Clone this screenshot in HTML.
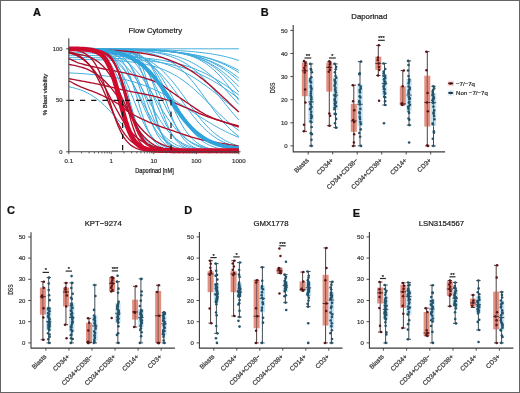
<!DOCTYPE html>
<html><head><meta charset="utf-8"><style>
html,body{margin:0;padding:0;background:#fff;width:520px;height:393px;overflow:hidden;font-family:"Liberation Sans",sans-serif;}
svg{display:block;will-change:transform;}

</style></head><body>
<svg width="520" height="393" viewBox="0 0 520 393"><rect x="0" y="0" width="520" height="1" fill="#646464"/>
<rect x="0" y="0" width="1" height="393" fill="#646464"/>
<rect x="519" y="0" width="1" height="393" fill="#646464"/>
<rect x="0" y="392" width="520" height="1" fill="#646464"/>
<text stroke="#111" x="33" y="15.6" font-size="11" font-weight="bold" fill="#111" font-family="Liberation Sans, sans-serif" stroke-width="0.22">A</text>
<text stroke="#222" x="155.3" y="33.2" font-size="7.7" text-anchor="middle" fill="#222" font-family="Liberation Sans, sans-serif" stroke-width="0.22">Flow Cytometry</text>
<g><path d="M68.80,48.99 L70.69,49.04 L72.58,49.09 L74.47,49.16 L76.36,49.24 L78.24,49.34 L80.13,49.46 L82.02,49.61 L83.91,49.79 L85.80,50.01 L87.69,50.29 L89.58,50.62 L91.47,51.02 L93.36,51.51 L95.24,52.11 L97.13,52.83 L99.02,53.70 L100.91,54.75 L102.80,56.01 L104.69,57.51 L106.58,59.28 L108.47,61.37 L110.36,63.81 L112.24,66.63 L114.13,69.86 L116.02,73.49 L117.91,77.54 L119.80,81.96 L121.69,86.72 L123.58,91.74 L125.47,96.94 L127.36,102.20 L129.24,107.43 L131.13,112.51 L133.02,117.35 L134.91,121.87 L136.80,126.02 L138.69,129.77 L140.58,133.11 L142.47,136.04 L144.36,138.58 L146.24,140.77 L148.13,142.63 L150.02,144.20 L151.91,145.52 L153.80,146.63 L155.69,147.54 L157.58,148.30 L159.47,148.93 L161.36,149.45 L163.24,149.88 L165.13,150.23 L167.02,150.52 L168.91,150.75 L170.80,150.94 L172.69,151.10 L174.58,151.23 L176.47,151.33 L178.36,151.42 L180.24,151.49 L182.13,151.55 L184.02,151.59 L185.91,151.63 L187.80,151.66 L189.69,151.69 L191.58,151.71 L193.47,151.73 L195.36,151.74 L197.24,151.75 L199.13,151.76 L201.02,151.77 L202.91,151.77 L204.80,151.78 L206.69,151.78 L208.58,151.79 L210.47,151.79 L212.36,151.79 L214.24,151.79 L216.13,151.79 L218.02,151.79 L219.91,151.80 L221.80,151.80 L223.69,151.80 L225.58,151.80 L227.47,151.80 L229.36,151.80 L231.24,151.80 L233.13,151.80 L235.02,151.80 L236.91,151.80 L238.80,151.80" fill="none" stroke="#3eaadc" stroke-width="1.0"/><path d="M68.80,48.82 L70.69,48.83 L72.58,48.83 L74.47,48.84 L76.36,48.86 L78.24,48.87 L80.13,48.90 L82.02,48.93 L83.91,48.96 L85.80,49.01 L87.69,49.08 L89.58,49.16 L91.47,49.27 L93.36,49.42 L95.24,49.60 L97.13,49.85 L99.02,50.16 L100.91,50.57 L102.80,51.10 L104.69,51.78 L106.58,52.65 L108.47,53.77 L110.36,55.19 L112.24,56.99 L114.13,59.23 L116.02,62.00 L117.91,65.38 L119.80,69.42 L121.69,74.16 L123.58,79.58 L125.47,85.61 L127.36,92.11 L129.24,98.89 L131.13,105.72 L133.02,112.37 L134.91,118.61 L136.80,124.29 L138.69,129.32 L140.58,133.64 L142.47,137.29 L144.36,140.30 L146.24,142.75 L148.13,144.72 L150.02,146.28 L151.91,147.52 L153.80,148.49 L155.69,149.24 L157.58,149.83 L159.47,150.28 L161.36,150.63 L163.24,150.90 L165.13,151.11 L167.02,151.27 L168.91,151.39 L170.80,151.49 L172.69,151.56 L174.58,151.62 L176.47,151.66 L178.36,151.69 L180.24,151.72 L182.13,151.74 L184.02,151.75 L185.91,151.76 L187.80,151.77 L189.69,151.78 L191.58,151.78 L193.47,151.79 L195.36,151.79 L197.24,151.79 L199.13,151.79 L201.02,151.80 L202.91,151.80 L204.80,151.80 L206.69,151.80 L208.58,151.80 L210.47,151.80 L212.36,151.80 L214.24,151.80 L216.13,151.80 L218.02,151.80 L219.91,151.80 L221.80,151.80 L223.69,151.80 L225.58,151.80 L227.47,151.80 L229.36,151.80 L231.24,151.80 L233.13,151.80 L235.02,151.80 L236.91,151.80 L238.80,151.80" fill="none" stroke="#3eaadc" stroke-width="1.0"/><path d="M68.80,48.98 L70.69,49.02 L72.58,49.06 L74.47,49.11 L76.36,49.18 L78.24,49.25 L80.13,49.34 L82.02,49.45 L83.91,49.58 L85.80,49.74 L87.69,49.93 L89.58,50.15 L91.47,50.42 L93.36,50.74 L95.24,51.12 L97.13,51.58 L99.02,52.13 L100.91,52.77 L102.80,53.54 L104.69,54.45 L106.58,55.51 L108.47,56.77 L110.36,58.23 L112.24,59.93 L114.13,61.90 L116.02,64.15 L117.91,66.71 L119.80,69.61 L121.69,72.83 L123.58,76.39 L125.47,80.27 L127.36,84.43 L129.24,88.83 L131.13,93.42 L133.02,98.13 L134.91,102.87 L136.80,107.56 L138.69,112.14 L140.58,116.53 L142.47,120.67 L144.36,124.52 L146.24,128.05 L148.13,131.25 L150.02,134.11 L151.91,136.65 L153.80,138.88 L155.69,140.82 L157.58,142.50 L159.47,143.95 L161.36,145.18 L163.24,146.24 L165.13,147.13 L167.02,147.89 L168.91,148.52 L170.80,149.06 L172.69,149.51 L174.58,149.89 L176.47,150.21 L178.36,150.47 L180.24,150.69 L182.13,150.88 L184.02,151.03 L185.91,151.16 L187.80,151.27 L189.69,151.36 L191.58,151.43 L193.47,151.49 L195.36,151.54 L197.24,151.59 L199.13,151.62 L201.02,151.65 L202.91,151.68 L204.80,151.70 L206.69,151.72 L208.58,151.73 L210.47,151.74 L212.36,151.75 L214.24,151.76 L216.13,151.77 L218.02,151.77 L219.91,151.78 L221.80,151.78 L223.69,151.78 L225.58,151.79 L227.47,151.79 L229.36,151.79 L231.24,151.79 L233.13,151.79 L235.02,151.79 L236.91,151.80 L238.80,151.80" fill="none" stroke="#3eaadc" stroke-width="1.0"/><path d="M68.80,48.81 L70.69,48.82 L72.58,48.82 L74.47,48.83 L76.36,48.83 L78.24,48.84 L80.13,48.86 L82.02,48.87 L83.91,48.89 L85.80,48.92 L87.69,48.95 L89.58,48.99 L91.47,49.05 L93.36,49.12 L95.24,49.21 L97.13,49.32 L99.02,49.46 L100.91,49.64 L102.80,49.88 L104.69,50.17 L106.58,50.55 L108.47,51.03 L110.36,51.63 L112.24,52.39 L114.13,53.34 L116.02,54.54 L117.91,56.02 L119.80,57.86 L121.69,60.10 L123.58,62.82 L125.47,66.07 L127.36,69.89 L129.24,74.31 L131.13,79.31 L133.02,84.83 L134.91,90.78 L136.80,97.00 L138.69,103.31 L140.58,109.54 L142.47,115.50 L144.36,121.04 L146.24,126.07 L148.13,130.51 L150.02,134.36 L151.91,137.64 L153.80,140.38 L155.69,142.65 L157.58,144.50 L159.47,146.00 L161.36,147.21 L163.24,148.17 L165.13,148.94 L167.02,149.55 L168.91,150.03 L170.80,150.41 L172.69,150.71 L174.58,150.95 L176.47,151.13 L178.36,151.28 L180.24,151.39 L182.13,151.48 L184.02,151.55 L185.91,151.60 L187.80,151.65 L189.69,151.68 L191.58,151.71 L193.47,151.73 L195.36,151.74 L197.24,151.75 L199.13,151.76 L201.02,151.77 L202.91,151.78 L204.80,151.78 L206.69,151.79 L208.58,151.79 L210.47,151.79 L212.36,151.79 L214.24,151.80 L216.13,151.80 L218.02,151.80 L219.91,151.80 L221.80,151.80 L223.69,151.80 L225.58,151.80 L227.47,151.80 L229.36,151.80 L231.24,151.80 L233.13,151.80 L235.02,151.80 L236.91,151.80 L238.80,151.80" fill="none" stroke="#3eaadc" stroke-width="1.0"/><path d="M68.80,49.00 L70.69,49.04 L72.58,49.08 L74.47,49.13 L76.36,49.19 L78.24,49.26 L80.13,49.34 L82.02,49.44 L83.91,49.55 L85.80,49.68 L87.69,49.84 L89.58,50.02 L91.47,50.23 L93.36,50.48 L95.24,50.78 L97.13,51.12 L99.02,51.52 L100.91,51.99 L102.80,52.54 L104.69,53.17 L106.58,53.91 L108.47,54.77 L110.36,55.76 L112.24,56.90 L114.13,58.21 L116.02,59.71 L117.91,61.41 L119.80,63.34 L121.69,65.50 L123.58,67.92 L125.47,70.60 L127.36,73.55 L129.24,76.76 L131.13,80.22 L133.02,83.90 L134.91,87.78 L136.80,91.82 L138.69,95.97 L140.58,100.18 L142.47,104.38 L144.36,108.54 L146.24,112.58 L148.13,116.48 L150.02,120.17 L151.91,123.64 L153.80,126.87 L155.69,129.83 L157.58,132.53 L159.47,134.96 L161.36,137.14 L163.24,139.08 L165.13,140.80 L167.02,142.31 L168.91,143.63 L170.80,144.78 L172.69,145.78 L174.58,146.64 L176.47,147.39 L178.36,148.03 L180.24,148.58 L182.13,149.05 L184.02,149.46 L185.91,149.81 L187.80,150.10 L189.69,150.35 L191.58,150.57 L193.47,150.75 L195.36,150.91 L197.24,151.04 L199.13,151.16 L201.02,151.25 L202.91,151.34 L204.80,151.41 L206.69,151.47 L208.58,151.52 L210.47,151.56 L212.36,151.59 L214.24,151.63 L216.13,151.65 L218.02,151.67 L219.91,151.69 L221.80,151.71 L223.69,151.72 L225.58,151.73 L227.47,151.74 L229.36,151.75 L231.24,151.76 L233.13,151.77 L235.02,151.77 L236.91,151.78 L238.80,151.78" fill="none" stroke="#3eaadc" stroke-width="1.0"/><path d="M68.80,48.81 L70.69,48.82 L72.58,48.82 L74.47,48.83 L76.36,48.83 L78.24,48.84 L80.13,48.85 L82.02,48.87 L83.91,48.88 L85.80,48.90 L87.69,48.93 L89.58,48.96 L91.47,49.00 L93.36,49.05 L95.24,49.12 L97.13,49.20 L99.02,49.30 L100.91,49.42 L102.80,49.58 L104.69,49.77 L106.58,50.01 L108.47,50.31 L110.36,50.69 L112.24,51.16 L114.13,51.73 L116.02,52.45 L117.91,53.33 L119.80,54.41 L121.69,55.73 L123.58,57.34 L125.47,59.27 L127.36,61.59 L129.24,64.33 L131.13,67.54 L133.02,71.24 L134.91,75.44 L136.80,80.12 L138.69,85.23 L140.58,90.69 L142.47,96.38 L144.36,102.17 L146.24,107.91 L148.13,113.47 L150.02,118.71 L151.91,123.55 L153.80,127.93 L155.69,131.81 L157.58,135.19 L159.47,138.09 L161.36,140.55 L163.24,142.62 L165.13,144.33 L167.02,145.75 L168.91,146.91 L170.80,147.86 L172.69,148.63 L174.58,149.25 L176.47,149.76 L178.36,150.16 L180.24,150.49 L182.13,150.75 L184.02,150.96 L185.91,151.13 L187.80,151.26 L189.69,151.37 L191.58,151.46 L193.47,151.53 L195.36,151.58 L197.24,151.63 L199.13,151.66 L201.02,151.69 L202.91,151.71 L204.80,151.73 L206.69,151.74 L208.58,151.75 L210.47,151.76 L212.36,151.77 L214.24,151.78 L216.13,151.78 L218.02,151.79 L219.91,151.79 L221.80,151.79 L223.69,151.79 L225.58,151.79 L227.47,151.80 L229.36,151.80 L231.24,151.80 L233.13,151.80 L235.02,151.80 L236.91,151.80 L238.80,151.80" fill="none" stroke="#3eaadc" stroke-width="1.0"/><path d="M68.80,48.83 L70.69,48.84 L72.58,48.85 L74.47,48.86 L76.36,48.88 L78.24,48.89 L80.13,48.91 L82.02,48.94 L83.91,48.97 L85.80,49.00 L87.69,49.04 L89.58,49.10 L91.47,49.16 L93.36,49.24 L95.24,49.33 L97.13,49.44 L99.02,49.58 L100.91,49.74 L102.80,49.94 L104.69,50.19 L106.58,50.48 L108.47,50.83 L110.36,51.26 L112.24,51.77 L114.13,52.39 L116.02,53.12 L117.91,54.00 L119.80,55.05 L121.69,56.30 L123.58,57.77 L125.47,59.49 L127.36,61.50 L129.24,63.83 L131.13,66.50 L133.02,69.54 L134.91,72.95 L136.80,76.72 L138.69,80.85 L140.58,85.29 L142.47,89.99 L144.36,94.88 L146.24,99.87 L148.13,104.86 L150.02,109.77 L151.91,114.51 L153.80,119.00 L155.69,123.19 L157.58,127.03 L159.47,130.50 L161.36,133.60 L163.24,136.33 L165.13,138.72 L167.02,140.78 L168.91,142.55 L170.80,144.06 L172.69,145.35 L174.58,146.43 L176.47,147.34 L178.36,148.10 L180.24,148.73 L182.13,149.26 L184.02,149.70 L185.91,150.06 L187.80,150.37 L189.69,150.62 L191.58,150.82 L193.47,151.00 L195.36,151.14 L197.24,151.25 L199.13,151.35 L201.02,151.43 L202.91,151.49 L204.80,151.55 L206.69,151.59 L208.58,151.63 L210.47,151.66 L212.36,151.68 L214.24,151.70 L216.13,151.72 L218.02,151.74 L219.91,151.75 L221.80,151.76 L223.69,151.76 L225.58,151.77 L227.47,151.78 L229.36,151.78 L231.24,151.78 L233.13,151.79 L235.02,151.79 L236.91,151.79 L238.80,151.79" fill="none" stroke="#3eaadc" stroke-width="1.0"/><path d="M68.80,48.80 L70.69,48.80 L72.58,48.80 L74.47,48.80 L76.36,48.80 L78.24,48.80 L80.13,48.81 L82.02,48.81 L83.91,48.81 L85.80,48.81 L87.69,48.81 L89.58,48.82 L91.47,48.82 L93.36,48.83 L95.24,48.84 L97.13,48.86 L99.02,48.87 L100.91,48.89 L102.80,48.92 L104.69,48.96 L106.58,49.01 L108.47,49.07 L110.36,49.16 L112.24,49.26 L114.13,49.40 L116.02,49.59 L117.91,49.82 L119.80,50.13 L121.69,50.53 L123.58,51.05 L125.47,51.71 L127.36,52.56 L129.24,53.66 L131.13,55.05 L133.02,56.81 L134.91,59.01 L136.80,61.73 L138.69,65.05 L140.58,69.02 L142.47,73.70 L144.36,79.06 L146.24,85.04 L148.13,91.51 L150.02,98.27 L151.91,105.11 L153.80,111.78 L155.69,118.06 L157.58,123.80 L159.47,128.89 L161.36,133.28 L163.24,136.98 L165.13,140.05 L167.02,142.55 L168.91,144.56 L170.80,146.16 L172.69,147.42 L174.58,148.41 L176.47,149.18 L178.36,149.78 L180.24,150.25 L182.13,150.60 L184.02,150.88 L185.91,151.09 L187.80,151.26 L189.69,151.38 L191.58,151.48 L193.47,151.56 L195.36,151.61 L197.24,151.66 L199.13,151.69 L201.02,151.72 L202.91,151.74 L204.80,151.75 L206.69,151.76 L208.58,151.77 L210.47,151.78 L212.36,151.78 L214.24,151.79 L216.13,151.79 L218.02,151.79 L219.91,151.79 L221.80,151.80 L223.69,151.80 L225.58,151.80 L227.47,151.80 L229.36,151.80 L231.24,151.80 L233.13,151.80 L235.02,151.80 L236.91,151.80 L238.80,151.80" fill="none" stroke="#3eaadc" stroke-width="1.0"/><path d="M68.80,48.84 L70.69,48.84 L72.58,48.85 L74.47,48.86 L76.36,48.87 L78.24,48.89 L80.13,48.91 L82.02,48.93 L83.91,48.95 L85.80,48.98 L87.69,49.01 L89.58,49.05 L91.47,49.10 L93.36,49.16 L95.24,49.22 L97.13,49.30 L99.02,49.40 L100.91,49.51 L102.80,49.64 L104.69,49.80 L106.58,49.99 L108.47,50.21 L110.36,50.48 L112.24,50.79 L114.13,51.16 L116.02,51.60 L117.91,52.11 L119.80,52.72 L121.69,53.43 L123.58,54.26 L125.47,55.23 L127.36,56.37 L129.24,57.68 L131.13,59.20 L133.02,60.94 L134.91,62.93 L136.80,65.19 L138.69,67.73 L140.58,70.57 L142.47,73.70 L144.36,77.13 L146.24,80.84 L148.13,84.80 L150.02,88.98 L151.91,93.31 L153.80,97.75 L155.69,102.23 L157.58,106.68 L159.47,111.03 L161.36,115.23 L163.24,119.22 L165.13,122.97 L167.02,126.44 L168.91,129.61 L170.80,132.49 L172.69,135.08 L174.58,137.37 L176.47,139.40 L178.36,141.17 L180.24,142.72 L182.13,144.06 L184.02,145.22 L185.91,146.21 L187.80,147.06 L189.69,147.79 L191.58,148.41 L193.47,148.94 L195.36,149.38 L197.24,149.76 L199.13,150.08 L201.02,150.35 L202.91,150.58 L204.80,150.77 L206.69,150.94 L208.58,151.07 L210.47,151.19 L212.36,151.29 L214.24,151.37 L216.13,151.44 L218.02,151.49 L219.91,151.54 L221.80,151.58 L223.69,151.62 L225.58,151.65 L227.47,151.67 L229.36,151.69 L231.24,151.71 L233.13,151.72 L235.02,151.74 L236.91,151.75 L238.80,151.75" fill="none" stroke="#3eaadc" stroke-width="1.0"/><path d="M68.80,48.80 L70.69,48.80 L72.58,48.80 L74.47,48.80 L76.36,48.81 L78.24,48.81 L80.13,48.81 L82.02,48.81 L83.91,48.81 L85.80,48.82 L87.69,48.82 L89.58,48.83 L91.47,48.83 L93.36,48.84 L95.24,48.85 L97.13,48.87 L99.02,48.88 L100.91,48.91 L102.80,48.93 L104.69,48.97 L106.58,49.01 L108.47,49.06 L110.36,49.13 L112.24,49.21 L114.13,49.31 L116.02,49.44 L117.91,49.60 L119.80,49.80 L121.69,50.04 L123.58,50.35 L125.47,50.74 L127.36,51.22 L129.24,51.81 L131.13,52.54 L133.02,53.44 L134.91,54.55 L136.80,55.90 L138.69,57.54 L140.58,59.52 L142.47,61.88 L144.36,64.67 L146.24,67.93 L148.13,71.69 L150.02,75.95 L151.91,80.68 L153.80,85.84 L155.69,91.33 L157.58,97.04 L159.47,102.83 L161.36,108.55 L163.24,114.08 L165.13,119.28 L167.02,124.07 L168.91,128.39 L170.80,132.22 L172.69,135.54 L174.58,138.39 L176.47,140.81 L178.36,142.83 L180.24,144.51 L182.13,145.90 L184.02,147.03 L185.91,147.96 L187.80,148.71 L189.69,149.32 L191.58,149.81 L193.47,150.20 L195.36,150.52 L197.24,150.78 L199.13,150.98 L201.02,151.14 L202.91,151.28 L204.80,151.38 L206.69,151.47 L208.58,151.53 L210.47,151.59 L212.36,151.63 L214.24,151.66 L216.13,151.69 L218.02,151.71 L219.91,151.73 L221.80,151.74 L223.69,151.76 L225.58,151.76 L227.47,151.77 L229.36,151.78 L231.24,151.78 L233.13,151.79 L235.02,151.79 L236.91,151.79 L238.80,151.79" fill="none" stroke="#3eaadc" stroke-width="1.0"/><path d="M68.80,48.85 L70.69,48.86 L72.58,48.87 L74.47,48.88 L76.36,48.89 L78.24,48.91 L80.13,48.93 L82.02,48.95 L83.91,48.97 L85.80,49.00 L87.69,49.04 L89.58,49.07 L91.47,49.12 L93.36,49.17 L95.24,49.23 L97.13,49.31 L99.02,49.39 L100.91,49.49 L102.80,49.60 L104.69,49.73 L106.58,49.88 L108.47,50.06 L110.36,50.27 L112.24,50.51 L114.13,50.79 L116.02,51.11 L117.91,51.48 L119.80,51.91 L121.69,52.41 L123.58,52.99 L125.47,53.65 L127.36,54.41 L129.24,55.28 L131.13,56.28 L133.02,57.42 L134.91,58.71 L136.80,60.17 L138.69,61.82 L140.58,63.67 L142.47,65.73 L144.36,68.02 L146.24,70.53 L148.13,73.28 L150.02,76.26 L151.91,79.46 L153.80,82.86 L155.69,86.45 L157.58,90.18 L159.47,94.04 L161.36,97.96 L163.24,101.91 L165.13,105.84 L167.02,109.71 L168.91,113.47 L170.80,117.09 L172.69,120.53 L174.58,123.76 L176.47,126.79 L178.36,129.58 L180.24,132.14 L182.13,134.46 L184.02,136.57 L185.91,138.45 L187.80,140.14 L189.69,141.63 L191.58,142.96 L193.47,144.12 L195.36,145.14 L197.24,146.04 L199.13,146.82 L201.02,147.50 L202.91,148.09 L204.80,148.60 L206.69,149.04 L208.58,149.43 L210.47,149.76 L212.36,150.04 L214.24,150.29 L216.13,150.50 L218.02,150.68 L219.91,150.84 L221.80,150.98 L223.69,151.09 L225.58,151.19 L227.47,151.28 L229.36,151.35 L231.24,151.42 L233.13,151.47 L235.02,151.52 L236.91,151.56 L238.80,151.59" fill="none" stroke="#3eaadc" stroke-width="1.0"/><path d="M68.80,48.80 L70.69,48.80 L72.58,48.80 L74.47,48.81 L76.36,48.81 L78.24,48.81 L80.13,48.81 L82.02,48.81 L83.91,48.81 L85.80,48.82 L87.69,48.82 L89.58,48.83 L91.47,48.83 L93.36,48.84 L95.24,48.85 L97.13,48.86 L99.02,48.88 L100.91,48.89 L102.80,48.91 L104.69,48.94 L106.58,48.97 L108.47,49.01 L110.36,49.06 L112.24,49.12 L114.13,49.19 L116.02,49.27 L117.91,49.38 L119.80,49.51 L121.69,49.67 L123.58,49.87 L125.47,50.11 L127.36,50.40 L129.24,50.76 L131.13,51.19 L133.02,51.72 L134.91,52.36 L136.80,53.13 L138.69,54.07 L140.58,55.19 L142.47,56.53 L144.36,58.13 L146.24,60.01 L148.13,62.23 L150.02,64.80 L151.91,67.77 L153.80,71.14 L155.69,74.93 L157.58,79.12 L159.47,83.67 L161.36,88.54 L163.24,93.63 L165.13,98.87 L167.02,104.13 L168.91,109.31 L170.80,114.32 L172.69,119.05 L174.58,123.44 L176.47,127.45 L178.36,131.05 L180.24,134.23 L182.13,137.02 L184.02,139.43 L185.91,141.49 L187.80,143.24 L189.69,144.71 L191.58,145.95 L193.47,146.98 L195.36,147.84 L197.24,148.55 L199.13,149.14 L201.02,149.62 L202.91,150.01 L204.80,150.34 L206.69,150.61 L208.58,150.83 L210.47,151.01 L212.36,151.15 L214.24,151.27 L216.13,151.37 L218.02,151.45 L219.91,151.51 L221.80,151.57 L223.69,151.61 L225.58,151.64 L227.47,151.67 L229.36,151.70 L231.24,151.72 L233.13,151.73 L235.02,151.74 L236.91,151.75 L238.80,151.76" fill="none" stroke="#3eaadc" stroke-width="1.0"/><path d="M68.80,48.82 L70.69,48.82 L72.58,48.82 L74.47,48.83 L76.36,48.83 L78.24,48.84 L80.13,48.84 L82.02,48.85 L83.91,48.86 L85.80,48.87 L87.69,48.88 L89.58,48.90 L91.47,48.91 L93.36,48.93 L95.24,48.96 L97.13,48.99 L99.02,49.02 L100.91,49.06 L102.80,49.10 L104.69,49.16 L106.58,49.22 L108.47,49.30 L110.36,49.38 L112.24,49.49 L114.13,49.61 L116.02,49.75 L117.91,49.92 L119.80,50.11 L121.69,50.35 L123.58,50.62 L125.47,50.93 L127.36,51.30 L129.24,51.73 L131.13,52.24 L133.02,52.83 L134.91,53.51 L136.80,54.30 L138.69,55.22 L140.58,56.28 L142.47,57.50 L144.36,58.90 L146.24,60.49 L148.13,62.30 L150.02,64.33 L151.91,66.62 L153.80,69.16 L155.69,71.97 L157.58,75.04 L159.47,78.37 L161.36,81.94 L163.24,85.72 L165.13,89.68 L167.02,93.78 L168.91,97.96 L170.80,102.18 L172.69,106.37 L174.58,110.47 L176.47,114.45 L178.36,118.26 L180.24,121.85 L182.13,125.21 L184.02,128.31 L185.91,131.14 L187.80,133.71 L189.69,136.03 L191.58,138.09 L193.47,139.92 L195.36,141.54 L197.24,142.96 L199.13,144.19 L201.02,145.27 L202.91,146.20 L204.80,147.01 L206.69,147.70 L208.58,148.30 L210.47,148.81 L212.36,149.25 L214.24,149.63 L216.13,149.95 L218.02,150.23 L219.91,150.46 L221.80,150.66 L223.69,150.83 L225.58,150.98 L227.47,151.10 L229.36,151.21 L231.24,151.29 L233.13,151.37 L235.02,151.44 L236.91,151.49 L238.80,151.54" fill="none" stroke="#3eaadc" stroke-width="1.0"/><path d="M68.80,48.84 L70.69,48.84 L72.58,48.85 L74.47,48.85 L76.36,48.86 L78.24,48.87 L80.13,48.88 L82.02,48.90 L83.91,48.91 L85.80,48.93 L87.69,48.95 L89.58,48.97 L91.47,49.00 L93.36,49.03 L95.24,49.06 L97.13,49.10 L99.02,49.15 L100.91,49.20 L102.80,49.26 L104.69,49.33 L106.58,49.41 L108.47,49.51 L110.36,49.61 L112.24,49.74 L114.13,49.88 L116.02,50.04 L117.91,50.23 L119.80,50.45 L121.69,50.70 L123.58,50.99 L125.47,51.32 L127.36,51.69 L129.24,52.12 L131.13,52.62 L133.02,53.18 L134.91,53.82 L136.80,54.55 L138.69,55.38 L140.58,56.32 L142.47,57.38 L144.36,58.58 L146.24,59.93 L148.13,61.43 L150.02,63.10 L151.91,64.96 L153.80,67.01 L155.69,69.26 L157.58,71.71 L159.47,74.36 L161.36,77.22 L163.24,80.26 L165.13,83.47 L167.02,86.84 L168.91,90.34 L170.80,93.93 L172.69,97.59 L174.58,101.28 L176.47,104.95 L178.36,108.58 L180.24,112.13 L182.13,115.56 L184.02,118.85 L185.91,121.98 L187.80,124.92 L189.69,127.67 L191.58,130.21 L193.47,132.56 L195.36,134.70 L197.24,136.64 L199.13,138.40 L201.02,139.99 L202.91,141.40 L204.80,142.67 L206.69,143.79 L208.58,144.79 L210.47,145.67 L212.36,146.45 L214.24,147.13 L216.13,147.73 L218.02,148.25 L219.91,148.71 L221.80,149.11 L223.69,149.46 L225.58,149.77 L227.47,150.04 L229.36,150.27 L231.24,150.47 L233.13,150.65 L235.02,150.80 L236.91,150.93 L238.80,151.05" fill="none" stroke="#3eaadc" stroke-width="1.0"/><path d="M68.80,49.17 L70.69,49.23 L72.58,49.29 L74.47,49.36 L76.36,49.44 L78.24,49.53 L80.13,49.63 L82.02,49.75 L83.91,49.88 L85.80,50.03 L87.69,50.20 L89.58,50.40 L91.47,50.62 L93.36,50.88 L95.24,51.17 L97.13,51.49 L99.02,51.87 L100.91,52.29 L102.80,52.76 L104.69,53.30 L106.58,53.91 L108.47,54.60 L110.36,55.37 L112.24,56.24 L114.13,57.21 L116.02,58.30 L117.91,59.51 L119.80,60.86 L121.69,62.35 L123.58,63.99 L125.47,65.79 L127.36,67.77 L129.24,69.91 L131.13,72.23 L133.02,74.73 L134.91,77.39 L136.80,80.22 L138.69,83.20 L140.58,86.31 L142.47,89.54 L144.36,92.85 L146.24,96.24 L148.13,99.65 L150.02,103.08 L151.91,106.47 L153.80,109.82 L155.69,113.08 L157.58,116.24 L159.47,119.27 L161.36,122.16 L163.24,124.89 L165.13,127.45 L167.02,129.83 L168.91,132.04 L170.80,134.08 L172.69,135.95 L174.58,137.65 L176.47,139.20 L178.36,140.60 L180.24,141.86 L182.13,142.99 L184.02,144.01 L185.91,144.91 L187.80,145.72 L189.69,146.44 L191.58,147.07 L193.47,147.64 L195.36,148.14 L197.24,148.58 L199.13,148.97 L201.02,149.31 L202.91,149.62 L204.80,149.88 L206.69,150.12 L208.58,150.33 L210.47,150.51 L212.36,150.67 L214.24,150.81 L216.13,150.93 L218.02,151.04 L219.91,151.13 L221.80,151.21 L223.69,151.29 L225.58,151.35 L227.47,151.41 L229.36,151.45 L231.24,151.50 L233.13,151.54 L235.02,151.57 L236.91,151.60 L238.80,151.62" fill="none" stroke="#3eaadc" stroke-width="1.0"/><path d="M68.80,49.15 L70.69,49.19 L72.58,49.24 L74.47,49.30 L76.36,49.36 L78.24,49.44 L80.13,49.52 L82.02,49.61 L83.91,49.72 L85.80,49.84 L87.69,49.97 L89.58,50.12 L91.47,50.29 L93.36,50.48 L95.24,50.70 L97.13,50.94 L99.02,51.22 L100.91,51.52 L102.80,51.87 L104.69,52.26 L106.58,52.69 L108.47,53.18 L110.36,53.72 L112.24,54.33 L114.13,55.01 L116.02,55.77 L117.91,56.61 L119.80,57.54 L121.69,58.57 L123.58,59.71 L125.47,60.97 L127.36,62.35 L129.24,63.87 L131.13,65.51 L133.02,67.31 L134.91,69.24 L136.80,71.33 L138.69,73.57 L140.58,75.95 L142.47,78.48 L144.36,81.14 L146.24,83.92 L148.13,86.82 L150.02,89.81 L151.91,92.87 L153.80,95.99 L155.69,99.14 L157.58,102.30 L159.47,105.45 L161.36,108.56 L163.24,111.61 L165.13,114.57 L167.02,117.44 L168.91,120.19 L170.80,122.82 L172.69,125.30 L174.58,127.65 L176.47,129.84 L178.36,131.89 L180.24,133.79 L182.13,135.54 L184.02,137.15 L185.91,138.63 L187.80,139.98 L189.69,141.20 L191.58,142.31 L193.47,143.32 L195.36,144.23 L197.24,145.05 L199.13,145.78 L201.02,146.44 L202.91,147.03 L204.80,147.56 L206.69,148.03 L208.58,148.45 L210.47,148.83 L212.36,149.16 L214.24,149.46 L216.13,149.73 L218.02,149.96 L219.91,150.17 L221.80,150.36 L223.69,150.52 L225.58,150.67 L227.47,150.80 L229.36,150.91 L231.24,151.01 L233.13,151.10 L235.02,151.18 L236.91,151.25 L238.80,151.32" fill="none" stroke="#3eaadc" stroke-width="1.0"/><path d="M68.80,49.21 L70.69,49.27 L72.58,49.34 L74.47,49.42 L76.36,49.52 L78.24,49.63 L80.13,49.75 L82.02,49.90 L83.91,50.07 L85.80,50.26 L87.69,50.48 L89.58,50.73 L91.47,51.03 L93.36,51.36 L95.24,51.74 L97.13,52.18 L99.02,52.68 L100.91,53.26 L102.80,53.91 L104.69,54.65 L106.58,55.49 L108.47,56.45 L110.36,57.53 L112.24,58.74 L114.13,60.11 L116.02,61.63 L117.91,63.33 L119.80,65.21 L121.69,67.28 L123.58,69.56 L125.47,72.03 L127.36,74.71 L129.24,77.59 L131.13,80.65 L133.02,83.88 L134.91,87.27 L136.80,90.78 L138.69,94.39 L140.58,98.05 L142.47,101.74 L144.36,105.41 L146.24,109.03 L148.13,112.57 L150.02,115.98 L151.91,119.25 L153.80,122.35 L155.69,125.27 L157.58,128.00 L159.47,130.52 L161.36,132.83 L163.24,134.95 L165.13,136.87 L167.02,138.61 L168.91,140.17 L170.80,141.57 L172.69,142.82 L174.58,143.92 L176.47,144.91 L178.36,145.77 L180.24,146.54 L182.13,147.21 L184.02,147.80 L185.91,148.31 L187.80,148.76 L189.69,149.16 L191.58,149.50 L193.47,149.80 L195.36,150.07 L197.24,150.29 L199.13,150.49 L201.02,150.67 L202.91,150.82 L204.80,150.95 L206.69,151.06 L208.58,151.16 L210.47,151.24 L212.36,151.32 L214.24,151.38 L216.13,151.44 L218.02,151.48 L219.91,151.53 L221.80,151.56 L223.69,151.59 L225.58,151.62 L227.47,151.65 L229.36,151.67 L231.24,151.68 L233.13,151.70 L235.02,151.71 L236.91,151.72 L238.80,151.73" fill="none" stroke="#3eaadc" stroke-width="1.0"/><path d="M68.80,48.80 L70.69,48.80 L72.58,48.80 L74.47,48.80 L76.36,48.80 L78.24,48.80 L80.13,48.80 L82.02,48.80 L83.91,48.80 L85.80,48.80 L87.69,48.80 L89.58,48.80 L91.47,48.81 L93.36,48.81 L95.24,48.81 L97.13,48.81 L99.02,48.82 L100.91,48.83 L102.80,48.84 L104.69,48.85 L106.58,48.87 L108.47,48.89 L110.36,48.92 L112.24,48.96 L114.13,49.02 L116.02,49.10 L117.91,49.21 L119.80,49.36 L121.69,49.56 L123.58,49.83 L125.47,50.19 L127.36,50.69 L129.24,51.35 L131.13,52.23 L133.02,53.41 L134.91,54.97 L136.80,57.00 L138.69,59.64 L140.58,63.00 L142.47,67.19 L144.36,72.30 L146.24,78.32 L148.13,85.18 L150.02,92.68 L151.91,100.53 L153.80,108.37 L155.69,115.84 L157.58,122.66 L159.47,128.63 L161.36,133.68 L163.24,137.82 L165.13,141.13 L167.02,143.73 L168.91,145.74 L170.80,147.27 L172.69,148.43 L174.58,149.30 L176.47,149.95 L178.36,150.43 L180.24,150.79 L182.13,151.05 L184.02,151.25 L185.91,151.40 L187.80,151.50 L189.69,151.58 L191.58,151.64 L193.47,151.68 L195.36,151.71 L197.24,151.74 L199.13,151.75 L201.02,151.77 L202.91,151.77 L204.80,151.78 L206.69,151.79 L208.58,151.79 L210.47,151.79 L212.36,151.79 L214.24,151.80 L216.13,151.80 L218.02,151.80 L219.91,151.80 L221.80,151.80 L223.69,151.80 L225.58,151.80 L227.47,151.80 L229.36,151.80 L231.24,151.80 L233.13,151.80 L235.02,151.80 L236.91,151.80 L238.80,151.80" fill="none" stroke="#3eaadc" stroke-width="1.0"/><path d="M68.80,48.80 L70.69,48.80 L72.58,48.80 L74.47,48.80 L76.36,48.80 L78.24,48.80 L80.13,48.80 L82.02,48.80 L83.91,48.80 L85.80,48.80 L87.69,48.80 L89.58,48.80 L91.47,48.80 L93.36,48.80 L95.24,48.80 L97.13,48.80 L99.02,48.80 L100.91,48.80 L102.80,48.80 L104.69,48.80 L106.58,48.80 L108.47,48.80 L110.36,48.80 L112.24,48.80 L114.13,48.80 L116.02,48.80 L117.91,48.80 L119.80,48.80 L121.69,48.80 L123.58,48.80 L125.47,48.80 L127.36,48.80 L129.24,48.80 L131.13,48.80 L133.02,48.80 L134.91,48.80 L136.80,48.80 L138.69,48.80 L140.58,48.80 L142.47,48.80 L144.36,48.80 L146.24,48.80 L148.13,48.80 L150.02,48.80 L151.91,48.80 L153.80,48.80 L155.69,48.80 L157.58,48.80 L159.47,48.80 L161.36,48.80 L163.24,48.80 L165.13,48.80 L167.02,48.80 L168.91,48.80 L170.80,48.80 L172.69,48.80 L174.58,48.80 L176.47,48.80 L178.36,48.80 L180.24,48.80 L182.13,48.80 L184.02,48.80 L185.91,48.80 L187.80,48.80 L189.69,48.80 L191.58,48.80 L193.47,48.80 L195.36,48.80 L197.24,48.80 L199.13,48.80 L201.02,48.80 L202.91,48.80 L204.80,48.80 L206.69,48.80 L208.58,48.80 L210.47,48.80 L212.36,48.80 L214.24,48.80 L216.13,48.80 L218.02,48.80 L219.91,48.80 L221.80,48.80 L223.69,48.80 L225.58,48.81 L227.47,48.81 L229.36,48.81 L231.24,48.81 L233.13,48.81 L235.02,48.81 L236.91,48.81 L238.80,48.81" fill="none" stroke="#3eaadc" stroke-width="1.0"/><path d="M68.80,48.85 L70.69,48.86 L72.58,48.86 L74.47,48.86 L76.36,48.87 L78.24,48.87 L80.13,48.88 L82.02,48.88 L83.91,48.89 L85.80,48.89 L87.69,48.90 L89.58,48.90 L91.47,48.91 L93.36,48.92 L95.24,48.92 L97.13,48.93 L99.02,48.94 L100.91,48.95 L102.80,48.96 L104.69,48.97 L106.58,48.98 L108.47,48.99 L110.36,49.00 L112.24,49.01 L114.13,49.03 L116.02,49.04 L117.91,49.06 L119.80,49.07 L121.69,49.09 L123.58,49.11 L125.47,49.13 L127.36,49.15 L129.24,49.17 L131.13,49.19 L133.02,49.22 L134.91,49.25 L136.80,49.27 L138.69,49.30 L140.58,49.33 L142.47,49.37 L144.36,49.40 L146.24,49.44 L148.13,49.48 L150.02,49.53 L151.91,49.57 L153.80,49.62 L155.69,49.67 L157.58,49.73 L159.47,49.78 L161.36,49.85 L163.24,49.91 L165.13,49.98 L167.02,50.05 L168.91,50.13 L170.80,50.22 L172.69,50.30 L174.58,50.40 L176.47,50.50 L178.36,50.60 L180.24,50.72 L182.13,50.83 L184.02,50.96 L185.91,51.09 L187.80,51.24 L189.69,51.39 L191.58,51.55 L193.47,51.72 L195.36,51.89 L197.24,52.08 L199.13,52.29 L201.02,52.50 L202.91,52.72 L204.80,52.96 L206.69,53.21 L208.58,53.48 L210.47,53.76 L212.36,54.06 L214.24,54.38 L216.13,54.71 L218.02,55.06 L219.91,55.43 L221.80,55.82 L223.69,56.24 L225.58,56.67 L227.47,57.13 L229.36,57.61 L231.24,58.12 L233.13,58.65 L235.02,59.21 L236.91,59.80 L238.80,60.42" fill="none" stroke="#3eaadc" stroke-width="1.0"/><path d="M68.80,48.91 L70.69,48.92 L72.58,48.92 L74.47,48.93 L76.36,48.94 L78.24,48.95 L80.13,48.96 L82.02,48.97 L83.91,48.98 L85.80,48.99 L87.69,49.00 L89.58,49.01 L91.47,49.03 L93.36,49.04 L95.24,49.06 L97.13,49.07 L99.02,49.09 L100.91,49.11 L102.80,49.13 L104.69,49.15 L106.58,49.17 L108.47,49.19 L110.36,49.22 L112.24,49.25 L114.13,49.27 L116.02,49.30 L117.91,49.34 L119.80,49.37 L121.69,49.40 L123.58,49.44 L125.47,49.48 L127.36,49.53 L129.24,49.57 L131.13,49.62 L133.02,49.67 L134.91,49.73 L136.80,49.78 L138.69,49.85 L140.58,49.91 L142.47,49.98 L144.36,50.06 L146.24,50.13 L148.13,50.22 L150.02,50.31 L151.91,50.40 L153.80,50.50 L155.69,50.60 L157.58,50.72 L159.47,50.84 L161.36,50.96 L163.24,51.10 L165.13,51.24 L167.02,51.39 L168.91,51.55 L170.80,51.72 L172.69,51.90 L174.58,52.09 L176.47,52.29 L178.36,52.50 L180.24,52.73 L182.13,52.96 L184.02,53.22 L185.91,53.48 L187.80,53.77 L189.69,54.06 L191.58,54.38 L193.47,54.71 L195.36,55.06 L197.24,55.43 L199.13,55.83 L201.02,56.24 L202.91,56.67 L204.80,57.13 L206.69,57.62 L208.58,58.12 L210.47,58.66 L212.36,59.22 L214.24,59.81 L216.13,60.43 L218.02,61.07 L219.91,61.75 L221.80,62.46 L223.69,63.21 L225.58,63.99 L227.47,64.80 L229.36,65.65 L231.24,66.53 L233.13,67.45 L235.02,68.41 L236.91,69.40 L238.80,70.43" fill="none" stroke="#3eaadc" stroke-width="1.0"/><path d="M68.80,48.88 L70.69,48.88 L72.58,48.89 L74.47,48.89 L76.36,48.90 L78.24,48.91 L80.13,48.92 L82.02,48.92 L83.91,48.93 L85.80,48.94 L87.69,48.95 L89.58,48.96 L91.47,48.97 L93.36,48.98 L95.24,49.00 L97.13,49.01 L99.02,49.02 L100.91,49.04 L102.80,49.06 L104.69,49.07 L106.58,49.09 L108.47,49.11 L110.36,49.13 L112.24,49.16 L114.13,49.18 L116.02,49.21 L117.91,49.23 L119.80,49.26 L121.69,49.30 L123.58,49.33 L125.47,49.37 L127.36,49.41 L129.24,49.45 L131.13,49.49 L133.02,49.54 L134.91,49.59 L136.80,49.64 L138.69,49.70 L140.58,49.76 L142.47,49.83 L144.36,49.90 L146.24,49.97 L148.13,50.05 L150.02,50.13 L151.91,50.23 L153.80,50.32 L155.69,50.42 L157.58,50.53 L159.47,50.65 L161.36,50.78 L163.24,50.91 L165.13,51.05 L167.02,51.20 L168.91,51.36 L170.80,51.54 L172.69,51.72 L174.58,51.91 L176.47,52.12 L178.36,52.34 L180.24,52.58 L182.13,52.83 L184.02,53.09 L185.91,53.37 L187.80,53.67 L189.69,53.99 L191.58,54.33 L193.47,54.69 L195.36,55.07 L197.24,55.47 L199.13,55.90 L201.02,56.35 L202.91,56.83 L204.80,57.34 L206.69,57.87 L208.58,58.44 L210.47,59.03 L212.36,59.66 L214.24,60.33 L216.13,61.03 L218.02,61.76 L219.91,62.53 L221.80,63.34 L223.69,64.20 L225.58,65.09 L227.47,66.02 L229.36,67.00 L231.24,68.01 L233.13,69.07 L235.02,70.18 L236.91,71.33 L238.80,72.52" fill="none" stroke="#3eaadc" stroke-width="1.0"/><path d="M68.80,48.86 L70.69,48.87 L72.58,48.87 L74.47,48.88 L76.36,48.89 L78.24,48.89 L80.13,48.90 L82.02,48.91 L83.91,48.91 L85.80,48.92 L87.69,48.93 L89.58,48.94 L91.47,48.95 L93.36,48.96 L95.24,48.98 L97.13,48.99 L99.02,49.00 L100.91,49.02 L102.80,49.03 L104.69,49.05 L106.58,49.07 L108.47,49.09 L110.36,49.11 L112.24,49.14 L114.13,49.16 L116.02,49.19 L117.91,49.22 L119.80,49.25 L121.69,49.28 L123.58,49.31 L125.47,49.35 L127.36,49.39 L129.24,49.44 L131.13,49.48 L133.02,49.53 L134.91,49.59 L136.80,49.65 L138.69,49.71 L140.58,49.78 L142.47,49.85 L144.36,49.92 L146.24,50.01 L148.13,50.09 L150.02,50.19 L151.91,50.29 L153.80,50.40 L155.69,50.52 L157.58,50.64 L159.47,50.78 L161.36,50.92 L163.24,51.07 L165.13,51.24 L167.02,51.42 L168.91,51.60 L170.80,51.81 L172.69,52.02 L174.58,52.25 L176.47,52.50 L178.36,52.77 L180.24,53.05 L182.13,53.35 L184.02,53.67 L185.91,54.02 L187.80,54.38 L189.69,54.77 L191.58,55.19 L193.47,55.63 L195.36,56.10 L197.24,56.60 L199.13,57.14 L201.02,57.70 L202.91,58.30 L204.80,58.94 L206.69,59.61 L208.58,60.33 L210.47,61.08 L212.36,61.88 L214.24,62.72 L216.13,63.60 L218.02,64.53 L219.91,65.51 L221.80,66.54 L223.69,67.62 L225.58,68.74 L227.47,69.92 L229.36,71.15 L231.24,72.43 L233.13,73.76 L235.02,75.14 L236.91,76.56 L238.80,78.04" fill="none" stroke="#3eaadc" stroke-width="1.0"/><path d="M68.80,48.85 L70.69,48.85 L72.58,48.85 L74.47,48.86 L76.36,48.86 L78.24,48.87 L80.13,48.87 L82.02,48.88 L83.91,48.89 L85.80,48.89 L87.69,48.90 L89.58,48.91 L91.47,48.92 L93.36,48.93 L95.24,48.94 L97.13,48.95 L99.02,48.96 L100.91,48.97 L102.80,48.99 L104.69,49.00 L106.58,49.02 L108.47,49.03 L110.36,49.05 L112.24,49.07 L114.13,49.10 L116.02,49.12 L117.91,49.14 L119.80,49.17 L121.69,49.20 L123.58,49.23 L125.47,49.27 L127.36,49.30 L129.24,49.34 L131.13,49.39 L133.02,49.43 L134.91,49.48 L136.80,49.54 L138.69,49.60 L140.58,49.66 L142.47,49.73 L144.36,49.80 L146.24,49.88 L148.13,49.97 L150.02,50.06 L151.91,50.16 L153.80,50.26 L155.69,50.38 L157.58,50.50 L159.47,50.64 L161.36,50.78 L163.24,50.93 L165.13,51.10 L167.02,51.28 L168.91,51.47 L170.80,51.68 L172.69,51.90 L174.58,52.14 L176.47,52.40 L178.36,52.68 L180.24,52.97 L182.13,53.29 L184.02,53.63 L185.91,54.00 L187.80,54.39 L189.69,54.81 L191.58,55.26 L193.47,55.74 L195.36,56.25 L197.24,56.80 L199.13,57.39 L201.02,58.01 L202.91,58.68 L204.80,59.38 L206.69,60.13 L208.58,60.93 L210.47,61.78 L212.36,62.67 L214.24,63.62 L216.13,64.62 L218.02,65.68 L219.91,66.79 L221.80,67.96 L223.69,69.18 L225.58,70.47 L227.47,71.81 L229.36,73.21 L231.24,74.67 L233.13,76.18 L235.02,77.75 L236.91,79.38 L238.80,81.05" fill="none" stroke="#3eaadc" stroke-width="1.0"/><path d="M68.80,48.84 L70.69,48.84 L72.58,48.84 L74.47,48.85 L76.36,48.85 L78.24,48.86 L80.13,48.86 L82.02,48.87 L83.91,48.87 L85.80,48.88 L87.69,48.89 L89.58,48.89 L91.47,48.90 L93.36,48.91 L95.24,48.92 L97.13,48.93 L99.02,48.94 L100.91,48.95 L102.80,48.96 L104.69,48.98 L106.58,48.99 L108.47,49.01 L110.36,49.03 L112.24,49.05 L114.13,49.07 L116.02,49.09 L117.91,49.12 L119.80,49.14 L121.69,49.17 L123.58,49.20 L125.47,49.24 L127.36,49.27 L129.24,49.31 L131.13,49.36 L133.02,49.41 L134.91,49.46 L136.80,49.51 L138.69,49.57 L140.58,49.64 L142.47,49.71 L144.36,49.79 L146.24,49.87 L148.13,49.96 L150.02,50.06 L151.91,50.16 L153.80,50.28 L155.69,50.40 L157.58,50.53 L159.47,50.68 L161.36,50.84 L163.24,51.01 L165.13,51.19 L167.02,51.39 L168.91,51.61 L170.80,51.84 L172.69,52.09 L174.58,52.36 L176.47,52.65 L178.36,52.97 L180.24,53.31 L182.13,53.67 L184.02,54.07 L185.91,54.49 L187.80,54.95 L189.69,55.44 L191.58,55.97 L193.47,56.53 L195.36,57.14 L197.24,57.79 L199.13,58.48 L201.02,59.22 L202.91,60.02 L204.80,60.86 L206.69,61.76 L208.58,62.72 L210.47,63.73 L212.36,64.81 L214.24,65.95 L216.13,67.15 L218.02,68.42 L219.91,69.75 L221.80,71.15 L223.69,72.62 L225.58,74.15 L227.47,75.74 L229.36,77.40 L231.24,79.13 L233.13,80.91 L235.02,82.74 L236.91,84.63 L238.80,86.57" fill="none" stroke="#3eaadc" stroke-width="1.0"/><path d="M68.80,55.25 L70.69,55.27 L72.58,55.29 L74.47,55.31 L76.36,55.33 L78.24,55.35 L80.13,55.37 L82.02,55.40 L83.91,55.42 L85.80,55.45 L87.69,55.48 L89.58,55.51 L91.47,55.54 L93.36,55.58 L95.24,55.62 L97.13,55.66 L99.02,55.70 L100.91,55.75 L102.80,55.79 L104.69,55.85 L106.58,55.90 L108.47,55.96 L110.36,56.02 L112.24,56.08 L114.13,56.15 L116.02,56.23 L117.91,56.30 L119.80,56.39 L121.69,56.47 L123.58,56.57 L125.47,56.67 L127.36,56.77 L129.24,56.88 L131.13,57.00 L133.02,57.12 L134.91,57.26 L136.80,57.40 L138.69,57.55 L140.58,57.70 L142.47,57.87 L144.36,58.05 L146.24,58.24 L148.13,58.44 L150.02,58.65 L151.91,58.87 L153.80,59.10 L155.69,59.35 L157.58,59.62 L159.47,59.90 L161.36,60.19 L163.24,60.50 L165.13,60.83 L167.02,61.18 L168.91,61.54 L170.80,61.93 L172.69,62.34 L174.58,62.76 L176.47,63.21 L178.36,63.69 L180.24,64.19 L182.13,64.71 L184.02,65.26 L185.91,65.84 L187.80,66.45 L189.69,67.08 L191.58,67.75 L193.47,68.45 L195.36,69.17 L197.24,69.93 L199.13,70.73 L201.02,71.55 L202.91,72.41 L204.80,73.31 L206.69,74.24 L208.58,75.20 L210.47,76.20 L212.36,77.24 L214.24,78.31 L216.13,79.41 L218.02,80.55 L219.91,81.72 L221.80,82.93 L223.69,84.16 L225.58,85.43 L227.47,86.73 L229.36,88.05 L231.24,89.40 L233.13,90.77 L235.02,92.17 L236.91,93.59 L238.80,95.02" fill="none" stroke="#3eaadc" stroke-width="1.0"/><path d="M68.80,48.82 L70.69,48.82 L72.58,48.82 L74.47,48.82 L76.36,48.83 L78.24,48.83 L80.13,48.83 L82.02,48.84 L83.91,48.84 L85.80,48.84 L87.69,48.85 L89.58,48.85 L91.47,48.86 L93.36,48.86 L95.24,48.87 L97.13,48.87 L99.02,48.88 L100.91,48.89 L102.80,48.90 L104.69,48.91 L106.58,48.92 L108.47,48.93 L110.36,48.94 L112.24,48.96 L114.13,48.97 L116.02,48.99 L117.91,49.01 L119.80,49.02 L121.69,49.05 L123.58,49.07 L125.47,49.10 L127.36,49.12 L129.24,49.16 L131.13,49.19 L133.02,49.23 L134.91,49.27 L136.80,49.31 L138.69,49.36 L140.58,49.42 L142.47,49.48 L144.36,49.54 L146.24,49.61 L148.13,49.69 L150.02,49.77 L151.91,49.87 L153.80,49.97 L155.69,50.08 L157.58,50.20 L159.47,50.34 L161.36,50.48 L163.24,50.64 L165.13,50.82 L167.02,51.01 L168.91,51.21 L170.80,51.44 L172.69,51.69 L174.58,51.96 L176.47,52.25 L178.36,52.57 L180.24,52.92 L182.13,53.30 L184.02,53.72 L185.91,54.17 L187.80,54.66 L189.69,55.19 L191.58,55.76 L193.47,56.38 L195.36,57.06 L197.24,57.78 L199.13,58.57 L201.02,59.41 L202.91,60.32 L204.80,61.30 L206.69,62.35 L208.58,63.47 L210.47,64.66 L212.36,65.94 L214.24,67.30 L216.13,68.73 L218.02,70.26 L219.91,71.86 L221.80,73.55 L223.69,75.33 L225.58,77.18 L227.47,79.11 L229.36,81.12 L231.24,83.20 L233.13,85.34 L235.02,87.54 L236.91,89.79 L238.80,92.08" fill="none" stroke="#3eaadc" stroke-width="1.0"/><path d="M68.80,57.33 L70.69,57.35 L72.58,57.37 L74.47,57.39 L76.36,57.41 L78.24,57.44 L80.13,57.46 L82.02,57.49 L83.91,57.52 L85.80,57.55 L87.69,57.58 L89.58,57.61 L91.47,57.65 L93.36,57.69 L95.24,57.73 L97.13,57.77 L99.02,57.82 L100.91,57.87 L102.80,57.92 L104.69,57.97 L106.58,58.03 L108.47,58.10 L110.36,58.16 L112.24,58.23 L114.13,58.31 L116.02,58.39 L117.91,58.47 L119.80,58.56 L121.69,58.65 L123.58,58.75 L125.47,58.86 L127.36,58.97 L129.24,59.09 L131.13,59.22 L133.02,59.35 L134.91,59.50 L136.80,59.65 L138.69,59.81 L140.58,59.98 L142.47,60.16 L144.36,60.35 L146.24,60.55 L148.13,60.76 L150.02,60.99 L151.91,61.23 L153.80,61.48 L155.69,61.75 L157.58,62.03 L159.47,62.33 L161.36,62.64 L163.24,62.98 L165.13,63.33 L167.02,63.70 L168.91,64.09 L170.80,64.50 L172.69,64.93 L174.58,65.39 L176.47,65.87 L178.36,66.37 L180.24,66.90 L182.13,67.46 L184.02,68.04 L185.91,68.65 L187.80,69.29 L189.69,69.96 L191.58,70.66 L193.47,71.40 L195.36,72.16 L197.24,72.96 L199.13,73.79 L201.02,74.65 L202.91,75.55 L204.80,76.48 L206.69,77.44 L208.58,78.45 L210.47,79.48 L212.36,80.55 L214.24,81.65 L216.13,82.79 L218.02,83.95 L219.91,85.15 L221.80,86.38 L223.69,87.64 L225.58,88.92 L227.47,90.24 L229.36,91.57 L231.24,92.93 L233.13,94.31 L235.02,95.71 L236.91,97.12 L238.80,98.55" fill="none" stroke="#3eaadc" stroke-width="1.0"/><path d="M68.80,48.81 L70.69,48.81 L72.58,48.81 L74.47,48.81 L76.36,48.82 L78.24,48.82 L80.13,48.82 L82.02,48.82 L83.91,48.82 L85.80,48.83 L87.69,48.83 L89.58,48.83 L91.47,48.84 L93.36,48.84 L95.24,48.84 L97.13,48.85 L99.02,48.85 L100.91,48.86 L102.80,48.86 L104.69,48.87 L106.58,48.88 L108.47,48.89 L110.36,48.90 L112.24,48.91 L114.13,48.92 L116.02,48.93 L117.91,48.95 L119.80,48.96 L121.69,48.98 L123.58,49.00 L125.47,49.02 L127.36,49.05 L129.24,49.07 L131.13,49.10 L133.02,49.13 L134.91,49.17 L136.80,49.21 L138.69,49.25 L140.58,49.30 L142.47,49.35 L144.36,49.41 L146.24,49.48 L148.13,49.55 L150.02,49.63 L151.91,49.72 L153.80,49.82 L155.69,49.93 L157.58,50.05 L159.47,50.18 L161.36,50.33 L163.24,50.49 L165.13,50.67 L167.02,50.87 L168.91,51.08 L170.80,51.32 L172.69,51.59 L174.58,51.88 L176.47,52.20 L178.36,52.55 L180.24,52.94 L182.13,53.37 L184.02,53.84 L185.91,54.35 L187.80,54.91 L189.69,55.53 L191.58,56.20 L193.47,56.94 L195.36,57.74 L197.24,58.61 L199.13,59.55 L201.02,60.58 L202.91,61.69 L204.80,62.89 L206.69,64.18 L208.58,65.57 L210.47,67.06 L212.36,68.65 L214.24,70.34 L216.13,72.13 L218.02,74.03 L219.91,76.03 L221.80,78.13 L223.69,80.32 L225.58,82.60 L227.47,84.97 L229.36,87.40 L231.24,89.90 L233.13,92.46 L235.02,95.05 L236.91,97.67 L238.80,100.30" fill="none" stroke="#3eaadc" stroke-width="1.0"/><path d="M68.80,48.88 L70.69,48.88 L72.58,48.89 L74.47,48.90 L76.36,48.91 L78.24,48.91 L80.13,48.92 L82.02,48.94 L83.91,48.95 L85.80,48.96 L87.69,48.97 L89.58,48.99 L91.47,49.00 L93.36,49.02 L95.24,49.04 L97.13,49.06 L99.02,49.08 L100.91,49.11 L102.80,49.13 L104.69,49.16 L106.58,49.19 L108.47,49.22 L110.36,49.26 L112.24,49.30 L114.13,49.34 L116.02,49.39 L117.91,49.44 L119.80,49.49 L121.69,49.55 L123.58,49.61 L125.47,49.68 L127.36,49.76 L129.24,49.84 L131.13,49.93 L133.02,50.02 L134.91,50.12 L136.80,50.23 L138.69,50.35 L140.58,50.48 L142.47,50.63 L144.36,50.78 L146.24,50.94 L148.13,51.12 L150.02,51.32 L151.91,51.53 L153.80,51.75 L155.69,52.00 L157.58,52.26 L159.47,52.54 L161.36,52.85 L163.24,53.18 L165.13,53.54 L167.02,53.92 L168.91,54.33 L170.80,54.78 L172.69,55.26 L174.58,55.77 L176.47,56.32 L178.36,56.91 L180.24,57.55 L182.13,58.23 L184.02,58.95 L185.91,59.72 L187.80,60.55 L189.69,61.43 L191.58,62.36 L193.47,63.36 L195.36,64.41 L197.24,65.53 L199.13,66.71 L201.02,67.95 L202.91,69.26 L204.80,70.64 L206.69,72.08 L208.58,73.59 L210.47,75.16 L212.36,76.80 L214.24,78.50 L216.13,80.26 L218.02,82.07 L219.91,83.94 L221.80,85.86 L223.69,87.83 L225.58,89.83 L227.47,91.87 L229.36,93.93 L231.24,96.02 L233.13,98.12 L235.02,100.22 L236.91,102.33 L238.80,104.43" fill="none" stroke="#3eaadc" stroke-width="1.0"/><path d="M68.80,52.48 L70.69,52.52 L72.58,52.56 L74.47,52.60 L76.36,52.65 L78.24,52.69 L80.13,52.74 L82.02,52.80 L83.91,52.86 L85.80,52.92 L87.69,52.98 L89.58,53.05 L91.47,53.12 L93.36,53.20 L95.24,53.28 L97.13,53.37 L99.02,53.46 L100.91,53.56 L102.80,53.66 L104.69,53.77 L106.58,53.89 L108.47,54.01 L110.36,54.14 L112.24,54.28 L114.13,54.43 L116.02,54.58 L117.91,54.75 L119.80,54.93 L121.69,55.11 L123.58,55.31 L125.47,55.52 L127.36,55.74 L129.24,55.97 L131.13,56.22 L133.02,56.48 L134.91,56.76 L136.80,57.05 L138.69,57.36 L140.58,57.68 L142.47,58.03 L144.36,58.39 L146.24,58.77 L148.13,59.18 L150.02,59.61 L151.91,60.05 L153.80,60.53 L155.69,61.02 L157.58,61.55 L159.47,62.09 L161.36,62.67 L163.24,63.28 L165.13,63.91 L167.02,64.57 L168.91,65.27 L170.80,66.00 L172.69,66.76 L174.58,67.55 L176.47,68.38 L178.36,69.24 L180.24,70.14 L182.13,71.08 L184.02,72.05 L185.91,73.05 L187.80,74.09 L189.69,75.17 L191.58,76.29 L193.47,77.44 L195.36,78.62 L197.24,79.84 L199.13,81.09 L201.02,82.38 L202.91,83.69 L204.80,85.04 L206.69,86.41 L208.58,87.81 L210.47,89.24 L212.36,90.69 L214.24,92.15 L216.13,93.64 L218.02,95.14 L219.91,96.65 L221.80,98.17 L223.69,99.70 L225.58,101.23 L227.47,102.76 L229.36,104.30 L231.24,105.82 L233.13,107.34 L235.02,108.85 L236.91,110.35 L238.80,111.83" fill="none" stroke="#3eaadc" stroke-width="1.0"/><path d="M68.80,48.86 L70.69,48.86 L72.58,48.87 L74.47,48.88 L76.36,48.88 L78.24,48.89 L80.13,48.90 L82.02,48.91 L83.91,48.92 L85.80,48.93 L87.69,48.94 L89.58,48.96 L91.47,48.97 L93.36,48.99 L95.24,49.01 L97.13,49.03 L99.02,49.05 L100.91,49.07 L102.80,49.10 L104.69,49.13 L106.58,49.16 L108.47,49.20 L110.36,49.24 L112.24,49.28 L114.13,49.32 L116.02,49.37 L117.91,49.43 L119.80,49.49 L121.69,49.55 L123.58,49.63 L125.47,49.70 L127.36,49.79 L129.24,49.89 L131.13,49.99 L133.02,50.10 L134.91,50.23 L136.80,50.36 L138.69,50.51 L140.58,50.67 L142.47,50.85 L144.36,51.04 L146.24,51.25 L148.13,51.48 L150.02,51.74 L151.91,52.01 L153.80,52.31 L155.69,52.64 L157.58,52.99 L159.47,53.38 L161.36,53.80 L163.24,54.25 L165.13,54.75 L167.02,55.29 L168.91,55.87 L170.80,56.50 L172.69,57.18 L174.58,57.92 L176.47,58.72 L178.36,59.57 L180.24,60.50 L182.13,61.49 L184.02,62.55 L185.91,63.68 L187.80,64.89 L189.69,66.18 L191.58,67.55 L193.47,69.01 L195.36,70.55 L197.24,72.17 L199.13,73.87 L201.02,75.66 L202.91,77.53 L204.80,79.48 L206.69,81.50 L208.58,83.59 L210.47,85.74 L212.36,87.95 L214.24,90.21 L216.13,92.51 L218.02,94.84 L219.91,97.19 L221.80,99.56 L223.69,101.93 L225.58,104.30 L227.47,106.64 L229.36,108.96 L231.24,111.25 L233.13,113.49 L235.02,115.68 L236.91,117.81 L238.80,119.87" fill="none" stroke="#3eaadc" stroke-width="1.0"/><path d="M68.80,59.30 L70.69,59.31 L72.58,59.33 L74.47,59.35 L76.36,59.37 L78.24,59.39 L80.13,59.42 L82.02,59.45 L83.91,59.48 L85.80,59.51 L87.69,59.54 L89.58,59.58 L91.47,59.62 L93.36,59.66 L95.24,59.71 L97.13,59.76 L99.02,59.82 L100.91,59.88 L102.80,59.95 L104.69,60.02 L106.58,60.10 L108.47,60.18 L110.36,60.27 L112.24,60.37 L114.13,60.48 L116.02,60.59 L117.91,60.72 L119.80,60.85 L121.69,61.00 L123.58,61.16 L125.47,61.33 L127.36,61.51 L129.24,61.71 L131.13,61.93 L133.02,62.16 L134.91,62.41 L136.80,62.68 L138.69,62.98 L140.58,63.29 L142.47,63.63 L144.36,64.00 L146.24,64.39 L148.13,64.82 L150.02,65.27 L151.91,65.76 L153.80,66.29 L155.69,66.85 L157.58,67.45 L159.47,68.09 L161.36,68.78 L163.24,69.51 L165.13,70.29 L167.02,71.13 L168.91,72.01 L170.80,72.95 L172.69,73.94 L174.58,74.99 L176.47,76.09 L178.36,77.26 L180.24,78.48 L182.13,79.77 L184.02,81.11 L185.91,82.52 L187.80,83.98 L189.69,85.50 L191.58,87.07 L193.47,88.69 L195.36,90.37 L197.24,92.09 L199.13,93.85 L201.02,95.64 L202.91,97.47 L204.80,99.32 L206.69,101.20 L208.58,103.08 L210.47,104.98 L212.36,106.87 L214.24,108.77 L216.13,110.65 L218.02,112.51 L219.91,114.35 L221.80,116.16 L223.69,117.94 L225.58,119.68 L227.47,121.38 L229.36,123.03 L231.24,124.63 L233.13,126.17 L235.02,127.66 L236.91,129.09 L238.80,130.47" fill="none" stroke="#3eaadc" stroke-width="1.0"/><path d="M68.80,48.86 L70.69,48.86 L72.58,48.87 L74.47,48.88 L76.36,48.89 L78.24,48.90 L80.13,48.91 L82.02,48.92 L83.91,48.93 L85.80,48.95 L87.69,48.96 L89.58,48.98 L91.47,49.00 L93.36,49.02 L95.24,49.04 L97.13,49.07 L99.02,49.10 L100.91,49.13 L102.80,49.17 L104.69,49.21 L106.58,49.25 L108.47,49.30 L110.36,49.35 L112.24,49.41 L114.13,49.48 L116.02,49.55 L117.91,49.63 L119.80,49.72 L121.69,49.82 L123.58,49.93 L125.47,50.05 L127.36,50.18 L129.24,50.32 L131.13,50.49 L133.02,50.66 L134.91,50.86 L136.80,51.08 L138.69,51.32 L140.58,51.58 L142.47,51.87 L144.36,52.19 L146.24,52.55 L148.13,52.93 L150.02,53.36 L151.91,53.83 L153.80,54.34 L155.69,54.90 L157.58,55.51 L159.47,56.18 L161.36,56.92 L163.24,57.72 L165.13,58.59 L167.02,59.53 L168.91,60.56 L170.80,61.66 L172.69,62.86 L174.58,64.15 L176.47,65.54 L178.36,67.02 L180.24,68.61 L182.13,70.30 L184.02,72.09 L185.91,73.98 L187.80,75.98 L189.69,78.08 L191.58,80.27 L193.47,82.55 L195.36,84.91 L197.24,87.34 L199.13,89.84 L201.02,92.39 L202.91,94.99 L204.80,97.60 L206.69,100.24 L208.58,102.87 L210.47,105.49 L212.36,108.08 L214.24,110.64 L216.13,113.14 L218.02,115.57 L219.91,117.94 L221.80,120.22 L223.69,122.42 L225.58,124.52 L227.47,126.52 L229.36,128.42 L231.24,130.22 L233.13,131.92 L235.02,133.51 L236.91,134.99 L238.80,136.39" fill="none" stroke="#3eaadc" stroke-width="1.0"/><path d="M68.80,72.89 L70.69,72.98 L72.58,73.07 L74.47,73.17 L76.36,73.28 L78.24,73.39 L80.13,73.51 L82.02,73.64 L83.91,73.77 L85.80,73.91 L87.69,74.06 L89.58,74.22 L91.47,74.39 L93.36,74.57 L95.24,74.76 L97.13,74.96 L99.02,75.17 L100.91,75.39 L102.80,75.63 L104.69,75.88 L106.58,76.14 L108.47,76.42 L110.36,76.71 L112.24,77.02 L114.13,77.35 L116.02,77.69 L117.91,78.05 L119.80,78.44 L121.69,78.84 L123.58,79.26 L125.47,79.70 L127.36,80.17 L129.24,80.66 L131.13,81.17 L133.02,81.70 L134.91,82.27 L136.80,82.85 L138.69,83.47 L140.58,84.11 L142.47,84.78 L144.36,85.47 L146.24,86.20 L148.13,86.95 L150.02,87.73 L151.91,88.54 L153.80,89.38 L155.69,90.25 L157.58,91.15 L159.47,92.08 L161.36,93.03 L163.24,94.02 L165.13,95.03 L167.02,96.06 L168.91,97.12 L170.80,98.21 L172.69,99.31 L174.58,100.44 L176.47,101.59 L178.36,102.75 L180.24,103.93 L182.13,105.13 L184.02,106.33 L185.91,107.55 L187.80,108.77 L189.69,110.00 L191.58,111.24 L193.47,112.47 L195.36,113.70 L197.24,114.93 L199.13,116.15 L201.02,117.36 L202.91,118.57 L204.80,119.76 L206.69,120.93 L208.58,122.09 L210.47,123.23 L212.36,124.35 L214.24,125.45 L216.13,126.52 L218.02,127.57 L219.91,128.60 L221.80,129.60 L223.69,130.57 L225.58,131.52 L227.47,132.44 L229.36,133.32 L231.24,134.18 L233.13,135.01 L235.02,135.81 L236.91,136.59 L238.80,137.33" fill="none" stroke="#3eaadc" stroke-width="1.0"/><path d="M68.80,48.97 L70.69,48.99 L72.58,49.01 L74.47,49.04 L76.36,49.06 L78.24,49.09 L80.13,49.12 L82.02,49.16 L83.91,49.19 L85.80,49.24 L87.69,49.28 L89.58,49.34 L91.47,49.39 L93.36,49.46 L95.24,49.53 L97.13,49.60 L99.02,49.69 L100.91,49.78 L102.80,49.89 L104.69,50.01 L106.58,50.13 L108.47,50.28 L110.36,50.43 L112.24,50.61 L114.13,50.80 L116.02,51.01 L117.91,51.24 L119.80,51.49 L121.69,51.78 L123.58,52.09 L125.47,52.43 L127.36,52.80 L129.24,53.22 L131.13,53.67 L133.02,54.17 L134.91,54.71 L136.80,55.31 L138.69,55.96 L140.58,56.68 L142.47,57.45 L144.36,58.30 L146.24,59.22 L148.13,60.22 L150.02,61.30 L151.91,62.47 L153.80,63.73 L155.69,65.08 L157.58,66.53 L159.47,68.09 L161.36,69.74 L163.24,71.50 L165.13,73.37 L167.02,75.33 L168.91,77.40 L170.80,79.56 L172.69,81.81 L174.58,84.15 L176.47,86.56 L178.36,89.04 L180.24,91.57 L182.13,94.15 L184.02,96.76 L185.91,99.39 L187.80,102.03 L189.69,104.65 L191.58,107.26 L193.47,109.82 L195.36,112.34 L197.24,114.80 L199.13,117.19 L201.02,119.50 L202.91,121.73 L204.80,123.86 L206.69,125.89 L208.58,127.83 L210.47,129.66 L212.36,131.38 L214.24,133.01 L216.13,134.53 L218.02,135.95 L219.91,137.27 L221.80,138.51 L223.69,139.65 L225.58,140.70 L227.47,141.67 L229.36,142.57 L231.24,143.40 L233.13,144.15 L235.02,144.85 L236.91,145.48 L238.80,146.06" fill="none" stroke="#3eaadc" stroke-width="1.0"/><path d="M68.80,86.81 L70.69,87.18 L72.58,87.60 L74.47,88.06 L76.36,88.58 L78.24,89.15 L80.13,89.79 L82.02,90.49 L83.91,91.27 L85.80,92.12 L87.69,93.06 L89.58,94.08 L91.47,95.20 L93.36,96.41 L95.24,97.72 L97.13,99.13 L99.02,100.63 L100.91,102.23 L102.80,103.93 L104.69,105.71 L106.58,107.57 L108.47,109.50 L110.36,111.49 L112.24,113.53 L114.13,115.59 L116.02,117.68 L117.91,119.76 L119.80,121.83 L121.69,123.87 L123.58,125.87 L125.47,127.81 L127.36,129.68 L129.24,131.47 L131.13,133.18 L133.02,134.79 L134.91,136.31 L136.80,137.73 L138.69,139.05 L140.58,140.27 L142.47,141.40 L144.36,142.44 L146.24,143.38 L148.13,144.25 L150.02,145.04 L151.91,145.75 L153.80,146.39 L155.69,146.97 L157.58,147.49 L159.47,147.96 L161.36,148.38 L163.24,148.76 L165.13,149.10 L167.02,149.40 L168.91,149.67 L170.80,149.91 L172.69,150.12 L174.58,150.31 L176.47,150.48 L178.36,150.63 L180.24,150.76 L182.13,150.88 L184.02,150.99 L185.91,151.08 L187.80,151.16 L189.69,151.23 L191.58,151.30 L193.47,151.36 L195.36,151.41 L197.24,151.45 L199.13,151.49 L201.02,151.53 L202.91,151.56 L204.80,151.59 L206.69,151.61 L208.58,151.63 L210.47,151.65 L212.36,151.67 L214.24,151.68 L216.13,151.70 L218.02,151.71 L219.91,151.72 L221.80,151.73 L223.69,151.74 L225.58,151.74 L227.47,151.75 L229.36,151.76 L231.24,151.76 L233.13,151.77 L235.02,151.77 L236.91,151.77 L238.80,151.78" fill="none" stroke="#3eaadc" stroke-width="1.0"/><path d="M68.80,49.03 L70.69,49.05 L72.58,49.08 L74.47,49.11 L76.36,49.14 L78.24,49.18 L80.13,49.22 L82.02,49.27 L83.91,49.32 L85.80,49.37 L87.69,49.43 L89.58,49.50 L91.47,49.58 L93.36,49.66 L95.24,49.75 L97.13,49.85 L99.02,49.96 L100.91,50.09 L102.80,50.22 L104.69,50.38 L106.58,50.54 L108.47,50.73 L110.36,50.93 L112.24,51.15 L114.13,51.40 L116.02,51.67 L117.91,51.97 L119.80,52.30 L121.69,52.67 L123.58,53.07 L125.47,53.51 L127.36,53.99 L129.24,54.52 L131.13,55.09 L133.02,55.73 L134.91,56.42 L136.80,57.17 L138.69,57.99 L140.58,58.89 L142.47,59.86 L144.36,60.91 L146.24,62.05 L148.13,63.27 L150.02,64.59 L151.91,66.01 L153.80,67.53 L155.69,69.15 L157.58,70.87 L159.47,72.70 L161.36,74.63 L163.24,76.66 L165.13,78.78 L167.02,81.00 L168.91,83.31 L170.80,85.70 L172.69,88.15 L174.58,90.67 L176.47,93.24 L178.36,95.84 L180.24,98.46 L182.13,101.10 L184.02,103.73 L185.91,106.34 L187.80,108.92 L189.69,111.46 L191.58,113.94 L193.47,116.36 L195.36,118.70 L197.24,120.95 L199.13,123.12 L201.02,125.19 L202.91,127.16 L204.80,129.02 L206.69,130.79 L208.58,132.45 L210.47,134.00 L212.36,135.46 L214.24,136.82 L216.13,138.08 L218.02,139.25 L219.91,140.34 L221.80,141.34 L223.69,142.26 L225.58,143.11 L227.47,143.89 L229.36,144.61 L231.24,145.26 L233.13,145.86 L235.02,146.41 L236.91,146.91 L238.80,147.36" fill="none" stroke="#3eaadc" stroke-width="1.0"/></g>
<g><path d="M68.80,51.60 L70.69,52.12 L72.58,52.72 L74.47,53.43 L76.36,54.27 L78.24,55.24 L80.13,56.38 L82.02,57.69 L83.91,59.21 L85.80,60.96 L87.69,62.95 L89.58,65.21 L91.47,67.75 L93.36,70.59 L95.24,73.73 L97.13,77.17 L99.02,80.88 L100.91,84.84 L102.80,89.01 L104.69,93.35 L106.58,97.79 L108.47,102.27 L110.36,106.71 L112.24,111.07 L114.13,115.26 L116.02,119.25 L117.91,123.00 L119.80,126.47 L121.69,129.64 L123.58,132.52 L125.47,135.10 L127.36,137.39 L129.24,139.41 L131.13,141.19 L133.02,142.73 L134.91,144.07 L136.80,145.23 L138.69,146.22 L140.58,147.07 L142.47,147.80 L144.36,148.41 L146.24,148.94 L148.13,149.39 L150.02,149.76 L151.91,150.08 L153.80,150.35 L155.69,150.58 L157.58,150.77 L159.47,150.94 L161.36,151.07 L163.24,151.19 L165.13,151.29 L167.02,151.37 L168.91,151.44 L170.80,151.49 L172.69,151.54 L174.58,151.58 L176.47,151.62 L178.36,151.65 L180.24,151.67 L182.13,151.69 L184.02,151.71 L185.91,151.72 L187.80,151.74 L189.69,151.75 L191.58,151.75 L193.47,151.76 L195.36,151.77 L197.24,151.77 L199.13,151.78 L201.02,151.78 L202.91,151.78 L204.80,151.79 L206.69,151.79 L208.58,151.79 L210.47,151.79 L212.36,151.79 L214.24,151.79 L216.13,151.80 L218.02,151.80 L219.91,151.80 L221.80,151.80 L223.69,151.80 L225.58,151.80 L227.47,151.80 L229.36,151.80 L231.24,151.80 L233.13,151.80 L235.02,151.80 L236.91,151.80 L238.80,151.80" fill="none" stroke="#ad0f2c" stroke-width="1.35"/><path d="M68.80,49.45 L70.69,49.63 L72.58,49.84 L74.47,50.12 L76.36,50.46 L78.24,50.89 L80.13,51.43 L82.02,52.11 L83.91,52.95 L85.80,54.00 L87.69,55.29 L89.58,56.87 L91.47,58.81 L93.36,61.15 L95.24,63.94 L97.13,67.24 L99.02,71.07 L100.91,75.46 L102.80,80.36 L104.69,85.73 L106.58,91.48 L108.47,97.45 L110.36,103.51 L112.24,109.47 L114.13,115.19 L116.02,120.54 L117.91,125.42 L119.80,129.77 L121.69,133.57 L123.58,136.84 L125.47,139.60 L127.36,141.92 L129.24,143.83 L131.13,145.40 L133.02,146.67 L134.91,147.71 L136.80,148.54 L138.69,149.20 L140.58,149.74 L142.47,150.16 L144.36,150.50 L146.24,150.77 L148.13,150.99 L150.02,151.16 L151.91,151.29 L153.80,151.40 L155.69,151.48 L157.58,151.55 L159.47,151.60 L161.36,151.64 L163.24,151.68 L165.13,151.70 L167.02,151.72 L168.91,151.74 L170.80,151.75 L172.69,151.76 L174.58,151.77 L176.47,151.78 L178.36,151.78 L180.24,151.78 L182.13,151.79 L184.02,151.79 L185.91,151.79 L187.80,151.79 L189.69,151.80 L191.58,151.80 L193.47,151.80 L195.36,151.80 L197.24,151.80 L199.13,151.80 L201.02,151.80 L202.91,151.80 L204.80,151.80 L206.69,151.80 L208.58,151.80 L210.47,151.80 L212.36,151.80 L214.24,151.80 L216.13,151.80 L218.02,151.80 L219.91,151.80 L221.80,151.80 L223.69,151.80 L225.58,151.80 L227.47,151.80 L229.36,151.80 L231.24,151.80 L233.13,151.80 L235.02,151.80 L236.91,151.80 L238.80,151.80" fill="none" stroke="#ad0f2c" stroke-width="1.35"/><path d="M68.80,48.81 L70.69,48.81 L72.58,48.82 L74.47,48.82 L76.36,48.83 L78.24,48.84 L80.13,48.86 L82.02,48.88 L83.91,48.91 L85.80,48.95 L87.69,49.01 L89.58,49.08 L91.47,49.18 L93.36,49.32 L95.24,49.51 L97.13,49.76 L99.02,50.10 L100.91,50.56 L102.80,51.17 L104.69,52.00 L106.58,53.10 L108.47,54.56 L110.36,56.48 L112.24,58.97 L114.13,62.14 L116.02,66.13 L117.91,71.02 L119.80,76.83 L121.69,83.51 L123.58,90.88 L125.47,98.68 L127.36,106.56 L129.24,114.15 L131.13,121.14 L133.02,127.32 L134.91,132.58 L136.80,136.93 L138.69,140.43 L140.58,143.18 L142.47,145.32 L144.36,146.95 L146.24,148.19 L148.13,149.12 L150.02,149.81 L151.91,150.33 L153.80,150.71 L155.69,151.00 L157.58,151.21 L159.47,151.37 L161.36,151.48 L163.24,151.56 L165.13,151.63 L167.02,151.67 L168.91,151.71 L170.80,151.73 L172.69,151.75 L174.58,151.76 L176.47,151.77 L178.36,151.78 L180.24,151.79 L182.13,151.79 L184.02,151.79 L185.91,151.79 L187.80,151.80 L189.69,151.80 L191.58,151.80 L193.47,151.80 L195.36,151.80 L197.24,151.80 L199.13,151.80 L201.02,151.80 L202.91,151.80 L204.80,151.80 L206.69,151.80 L208.58,151.80 L210.47,151.80 L212.36,151.80 L214.24,151.80 L216.13,151.80 L218.02,151.80 L219.91,151.80 L221.80,151.80 L223.69,151.80 L225.58,151.80 L227.47,151.80 L229.36,151.80 L231.24,151.80 L233.13,151.80 L235.02,151.80 L236.91,151.80 L238.80,151.80" fill="none" stroke="#ad0f2c" stroke-width="1.35"/><path d="M68.80,48.85 L70.69,48.86 L72.58,48.87 L74.47,48.89 L76.36,48.92 L78.24,48.96 L80.13,49.00 L82.02,49.05 L83.91,49.12 L85.80,49.21 L87.69,49.33 L89.58,49.47 L91.47,49.66 L93.36,49.90 L95.24,50.20 L97.13,50.58 L99.02,51.06 L100.91,51.68 L102.80,52.45 L104.69,53.42 L106.58,54.63 L108.47,56.14 L110.36,58.00 L112.24,60.28 L114.13,63.03 L116.02,66.32 L117.91,70.18 L119.80,74.64 L121.69,79.68 L123.58,85.24 L125.47,91.20 L127.36,97.43 L129.24,103.75 L131.13,109.96 L133.02,115.90 L134.91,121.41 L136.80,126.40 L138.69,130.80 L140.58,134.61 L142.47,137.85 L144.36,140.55 L146.24,142.79 L148.13,144.61 L150.02,146.09 L151.91,147.28 L153.80,148.23 L155.69,148.99 L157.58,149.59 L159.47,150.06 L161.36,150.43 L163.24,150.73 L165.13,150.96 L167.02,151.14 L168.91,151.28 L170.80,151.40 L172.69,151.48 L174.58,151.55 L176.47,151.61 L178.36,151.65 L180.24,151.68 L182.13,151.71 L184.02,151.73 L185.91,151.74 L187.80,151.76 L189.69,151.77 L191.58,151.77 L193.47,151.78 L195.36,151.78 L197.24,151.79 L199.13,151.79 L201.02,151.79 L202.91,151.79 L204.80,151.80 L206.69,151.80 L208.58,151.80 L210.47,151.80 L212.36,151.80 L214.24,151.80 L216.13,151.80 L218.02,151.80 L219.91,151.80 L221.80,151.80 L223.69,151.80 L225.58,151.80 L227.47,151.80 L229.36,151.80 L231.24,151.80 L233.13,151.80 L235.02,151.80 L236.91,151.80 L238.80,151.80" fill="none" stroke="#ad0f2c" stroke-width="1.35"/><path d="M68.80,53.22 L70.69,53.37 L72.58,53.53 L74.47,53.73 L76.36,53.97 L78.24,54.24 L80.13,54.56 L82.02,54.93 L83.91,55.37 L85.80,55.87 L87.69,56.47 L89.58,57.15 L91.47,57.95 L93.36,58.88 L95.24,59.94 L97.13,61.16 L99.02,62.56 L100.91,64.15 L102.80,65.96 L104.69,67.99 L106.58,70.27 L108.47,72.79 L110.36,75.57 L112.24,78.61 L114.13,81.89 L116.02,85.39 L117.91,89.09 L119.80,92.96 L121.69,96.94 L123.58,100.99 L125.47,105.06 L127.36,109.08 L129.24,113.02 L131.13,116.81 L133.02,120.43 L134.91,123.83 L136.80,127.00 L138.69,129.92 L140.58,132.59 L142.47,135.00 L144.36,137.16 L146.24,139.09 L148.13,140.80 L150.02,142.30 L151.91,143.62 L153.80,144.77 L155.69,145.76 L157.58,146.63 L159.47,147.38 L161.36,148.02 L163.24,148.57 L165.13,149.04 L167.02,149.45 L168.91,149.80 L170.80,150.10 L172.69,150.35 L174.58,150.57 L176.47,150.75 L178.36,150.91 L180.24,151.04 L182.13,151.16 L184.02,151.25 L185.91,151.33 L187.80,151.40 L189.69,151.46 L191.58,151.51 L193.47,151.56 L195.36,151.59 L197.24,151.63 L199.13,151.65 L201.02,151.67 L202.91,151.69 L204.80,151.71 L206.69,151.72 L208.58,151.73 L210.47,151.74 L212.36,151.75 L214.24,151.76 L216.13,151.77 L218.02,151.77 L219.91,151.78 L221.80,151.78 L223.69,151.78 L225.58,151.78 L227.47,151.79 L229.36,151.79 L231.24,151.79 L233.13,151.79 L235.02,151.79 L236.91,151.79 L238.80,151.80" fill="none" stroke="#ad0f2c" stroke-width="1.35"/><path d="M68.80,64.45 L70.69,64.74 L72.58,65.06 L74.47,65.42 L76.36,65.83 L78.24,66.28 L80.13,66.79 L82.02,67.36 L83.91,67.99 L85.80,68.69 L87.69,69.47 L89.58,70.34 L91.47,71.29 L93.36,72.35 L95.24,73.51 L97.13,74.78 L99.02,76.17 L100.91,77.68 L102.80,79.31 L104.69,81.08 L106.58,82.97 L108.47,85.00 L110.36,87.15 L112.24,89.42 L114.13,91.80 L116.02,94.29 L117.91,96.86 L119.80,99.50 L121.69,102.20 L123.58,104.93 L125.47,107.68 L127.36,110.43 L129.24,113.15 L131.13,115.82 L133.02,118.43 L134.91,120.96 L136.80,123.39 L138.69,125.72 L140.58,127.93 L142.47,130.02 L144.36,131.98 L146.24,133.81 L148.13,135.51 L150.02,137.08 L151.91,138.53 L153.80,139.86 L155.69,141.08 L157.58,142.18 L159.47,143.19 L161.36,144.10 L163.24,144.92 L165.13,145.66 L167.02,146.33 L168.91,146.92 L170.80,147.46 L172.69,147.94 L174.58,148.37 L176.47,148.75 L178.36,149.09 L180.24,149.40 L182.13,149.67 L184.02,149.91 L185.91,150.12 L187.80,150.31 L189.69,150.48 L191.58,150.63 L193.47,150.77 L195.36,150.89 L197.24,150.99 L199.13,151.08 L201.02,151.17 L202.91,151.24 L204.80,151.30 L206.69,151.36 L208.58,151.41 L210.47,151.46 L212.36,151.50 L214.24,151.53 L216.13,151.56 L218.02,151.59 L219.91,151.61 L221.80,151.63 L223.69,151.65 L225.58,151.67 L227.47,151.69 L229.36,151.70 L231.24,151.71 L233.13,151.72 L235.02,151.73 L236.91,151.74 L238.80,151.75" fill="none" stroke="#ad0f2c" stroke-width="1.35"/><path d="M68.80,49.11 L70.69,49.13 L72.58,49.16 L74.47,49.18 L76.36,49.21 L78.24,49.24 L80.13,49.27 L82.02,49.30 L83.91,49.34 L85.80,49.38 L87.69,49.42 L89.58,49.46 L91.47,49.51 L93.36,49.56 L95.24,49.62 L97.13,49.67 L99.02,49.74 L100.91,49.80 L102.80,49.87 L104.69,49.95 L106.58,50.03 L108.47,50.12 L110.36,50.21 L112.24,50.31 L114.13,50.42 L116.02,50.54 L117.91,50.66 L119.80,50.79 L121.69,50.93 L123.58,51.08 L125.47,51.24 L127.36,51.41 L129.24,51.60 L131.13,51.79 L133.02,52.00 L134.91,52.23 L136.80,52.46 L138.69,52.72 L140.58,52.99 L142.47,53.28 L144.36,53.59 L146.24,53.91 L148.13,54.26 L150.02,54.63 L151.91,55.03 L153.80,55.45 L155.69,55.89 L157.58,56.37 L159.47,56.87 L161.36,57.40 L163.24,57.97 L165.13,58.57 L167.02,59.20 L168.91,59.87 L170.80,60.58 L172.69,61.32 L174.58,62.11 L176.47,62.93 L178.36,63.80 L180.24,64.72 L182.13,65.68 L184.02,66.68 L185.91,67.73 L187.80,68.83 L189.69,69.98 L191.58,71.18 L193.47,72.42 L195.36,73.71 L197.24,75.05 L199.13,76.43 L201.02,77.86 L202.91,79.33 L204.80,80.85 L206.69,82.40 L208.58,84.00 L210.47,85.63 L212.36,87.29 L214.24,88.98 L216.13,90.70 L218.02,92.44 L219.91,94.20 L221.80,95.97 L223.69,97.76 L225.58,99.55 L227.47,101.34 L229.36,103.13 L231.24,104.91 L233.13,106.68 L235.02,108.44 L236.91,110.17 L238.80,111.89" fill="none" stroke="#ad0f2c" stroke-width="1.35"/><path d="M68.80,58.58 L70.69,59.44 L72.58,60.32 L74.47,61.20 L76.36,62.03 L78.24,62.78 L80.13,63.40 L82.02,63.97 L83.91,64.50 L85.80,64.99 L87.69,65.46 L89.58,65.90 L91.47,66.33 L93.36,66.74 L95.24,67.15 L97.13,67.56 L99.02,67.97 L100.91,68.36 L102.80,68.74 L104.69,69.10 L106.58,69.45 L108.47,69.80 L110.36,70.14 L112.24,70.48 L114.13,70.82 L116.02,71.17 L117.91,71.53 L119.80,71.90 L121.69,72.30 L123.58,72.71 L125.47,73.13 L127.36,73.56 L129.24,74.00 L131.13,74.45 L133.02,74.91 L134.91,75.38 L136.80,75.86 L138.69,76.36 L140.58,76.87 L142.47,77.40 L144.36,77.96 L146.24,78.53 L148.13,79.12 L150.02,79.74 L151.91,80.38 L153.80,81.07 L155.69,81.82 L157.58,82.64 L159.47,83.54 L161.36,84.59 L163.24,85.85 L165.13,87.24 L167.02,88.67 L168.91,90.04 L170.80,91.37 L172.69,92.70 L174.58,94.04 L176.47,95.38 L178.36,96.71 L180.24,98.04 L182.13,99.36 L184.02,100.67 L185.91,101.95 L187.80,103.22 L189.69,104.48 L191.58,105.76 L193.47,107.04 L195.36,108.33 L197.24,109.60 L199.13,110.84 L201.02,112.03 L202.91,113.17 L204.80,114.24 L206.69,115.23 L208.58,116.13 L210.47,116.98 L212.36,117.78 L214.24,118.55 L216.13,119.28 L218.02,119.98 L219.91,120.66 L221.80,121.32 L223.69,121.97 L225.58,122.60 L227.47,123.22 L229.36,123.84 L231.24,124.47 L233.13,125.10 L235.02,125.74 L236.91,126.40 L238.80,127.08" fill="none" stroke="#ad0f2c" stroke-width="1.35"/><path d="M68.80,78.67 L70.69,79.02 L72.58,79.37 L74.47,79.71 L76.36,80.06 L78.24,80.40 L80.13,80.74 L82.02,81.08 L83.91,81.42 L85.80,81.77 L87.69,82.12 L89.58,82.47 L91.47,82.83 L93.36,83.20 L95.24,83.57 L97.13,83.95 L99.02,84.34 L100.91,84.74 L102.80,85.16 L104.69,85.59 L106.58,86.02 L108.47,86.47 L110.36,86.91 L112.24,87.36 L114.13,87.82 L116.02,88.27 L117.91,88.71 L119.80,89.15 L121.69,89.59 L123.58,90.01 L125.47,90.42 L127.36,90.82 L129.24,91.20 L131.13,91.57 L133.02,91.94 L134.91,92.30 L136.80,92.66 L138.69,93.02 L140.58,93.38 L142.47,93.74 L144.36,94.11 L146.24,94.49 L148.13,94.88 L150.02,95.29 L151.91,95.70 L153.80,96.14 L155.69,96.60 L157.58,97.07 L159.47,97.58 L161.36,98.11 L163.24,98.69 L165.13,99.32 L167.02,99.98 L168.91,100.67 L170.80,101.40 L172.69,102.15 L174.58,102.91 L176.47,103.70 L178.36,104.49 L180.24,105.29 L182.13,106.08 L184.02,106.88 L185.91,107.66 L187.80,108.43 L189.69,109.21 L191.58,110.01 L193.47,110.83 L195.36,111.66 L197.24,112.49 L199.13,113.32 L201.02,114.13 L202.91,114.92 L204.80,115.68 L206.69,116.40 L208.58,117.07 L210.47,117.71 L212.36,118.34 L214.24,118.94 L216.13,119.52 L218.02,120.10 L219.91,120.65 L221.80,121.20 L223.69,121.74 L225.58,122.28 L227.47,122.81 L229.36,123.34 L231.24,123.87 L233.13,124.40 L235.02,124.94 L236.91,125.49 L238.80,126.05" fill="none" stroke="#ad0f2c" stroke-width="1.35"/><path d="M68.80,80.73 L70.69,81.74 L72.58,82.76 L74.47,83.79 L76.36,84.78 L78.24,85.72 L80.13,86.59 L82.02,87.40 L83.91,88.16 L85.80,88.89 L87.69,89.59 L89.58,90.29 L91.47,90.99 L93.36,91.70 L95.24,92.44 L97.13,93.21 L99.02,94.04 L100.91,94.89 L102.80,95.75 L104.69,96.63 L106.58,97.53 L108.47,98.46 L110.36,99.43 L112.24,100.43 L114.13,101.48 L116.02,102.59 L117.91,103.75 L119.80,105.09 L121.69,106.59 L123.58,108.15 L125.47,109.67 L127.36,111.07 L129.24,112.27 L131.13,113.40 L133.02,114.47 L134.91,115.51 L136.80,116.50 L138.69,117.45 L140.58,118.37 L142.47,119.26 L144.36,120.12 L146.24,120.95 L148.13,121.76 L150.02,122.54 L151.91,123.30 L153.80,124.04 L155.69,124.76 L157.58,125.47 L159.47,126.16 L161.36,126.83 L163.24,127.50 L165.13,128.16 L167.02,128.81 L168.91,129.45 L170.80,130.09 L172.69,130.73 L174.58,131.37 L176.47,132.02 L178.36,132.67 L180.24,133.32 L182.13,133.98 L184.02,134.63 L185.91,135.26 L187.80,135.89 L189.69,136.50 L191.58,137.09 L193.47,137.65 L195.36,138.19 L197.24,138.70 L199.13,139.17 L201.02,139.61 L202.91,140.02 L204.80,140.42 L206.69,140.80 L208.58,141.16 L210.47,141.51 L212.36,141.85 L214.24,142.18 L216.13,142.49 L218.02,142.80 L219.91,143.11 L221.80,143.41 L223.69,143.70 L225.58,144.00 L227.47,144.29 L229.36,144.59 L231.24,144.89 L233.13,145.19 L235.02,145.50 L236.91,145.81 L238.80,146.14" fill="none" stroke="#ad0f2c" stroke-width="1.35"/><path d="M68.80,52.68 L70.69,53.26 L72.58,53.91 L74.47,54.65 L76.36,55.49 L78.24,56.44 L80.13,57.52 L82.02,58.73 L83.91,60.09 L85.80,61.61 L87.69,63.30 L89.58,65.18 L91.47,67.24 L93.36,69.50 L95.24,71.96 L97.13,74.62 L99.02,77.48 L100.91,80.51 L102.80,83.72 L104.69,87.07 L106.58,90.54 L108.47,94.10 L110.36,97.71 L112.24,101.34 L114.13,104.96 L116.02,108.52 L117.91,111.99 L119.80,115.34 L121.69,118.54 L123.58,121.58 L125.47,124.43 L127.36,127.09 L129.24,129.55 L131.13,131.81 L133.02,133.88 L134.91,135.75 L136.80,137.44 L138.69,138.96 L140.58,140.32 L142.47,141.53 L144.36,142.61 L146.24,143.56 L148.13,144.41 L150.02,145.15 L151.91,145.80 L153.80,146.37 L155.69,146.87 L157.58,147.31 L159.47,147.69 L161.36,148.03 L163.24,148.32 L165.13,148.57 L167.02,148.79 L168.91,148.99 L170.80,149.15 L172.69,149.30 L174.58,149.43 L176.47,149.54 L178.36,149.63 L180.24,149.71 L182.13,149.79 L184.02,149.85 L185.91,149.90 L187.80,149.95 L189.69,149.99 L191.58,150.03 L193.47,150.06 L195.36,150.08 L197.24,150.11 L199.13,150.13 L201.02,150.14 L202.91,150.16 L204.80,150.17 L206.69,150.18 L208.58,150.19 L210.47,150.20 L212.36,150.21 L214.24,150.21 L216.13,150.22 L218.02,150.22 L219.91,150.23 L221.80,150.23 L223.69,150.23 L225.58,150.24 L227.47,150.24 L229.36,150.24 L231.24,150.24 L233.13,150.25 L235.02,150.25 L236.91,150.25 L238.80,150.25" fill="none" stroke="#ad0f2c" stroke-width="1.35"/></g>
<path d="M68.80,49.04 L70.69,49.07 L72.58,49.10 L74.47,49.14 L76.36,49.18 L78.24,49.23 L80.13,49.28 L82.02,49.33 L83.91,49.40 L85.80,49.47 L87.69,49.55 L89.58,49.63 L91.47,49.73 L93.36,49.84 L95.24,49.96 L97.13,50.10 L99.02,50.25 L100.91,50.42 L102.80,50.61 L104.69,50.83 L106.58,51.06 L108.47,51.33 L110.36,51.62 L112.24,51.94 L114.13,52.31 L116.02,52.71 L117.91,53.15 L119.80,53.65 L121.69,54.19 L123.58,54.80 L125.47,55.46 L127.36,56.20 L129.24,57.01 L131.13,57.90 L133.02,58.88 L134.91,59.95 L136.80,61.11 L138.69,62.38 L140.58,63.76 L142.47,65.25 L144.36,66.86 L146.24,68.60 L148.13,70.45 L150.02,72.43 L151.91,74.53 L153.80,76.74 L155.69,79.08 L157.58,81.52 L159.47,84.06 L161.36,86.68 L163.24,89.39 L165.13,92.15 L167.02,94.96 L168.91,97.79 L170.80,100.64 L172.69,103.48 L174.58,106.29 L176.47,109.06 L178.36,111.77 L180.24,114.41 L182.13,116.95 L184.02,119.41 L185.91,121.75 L187.80,123.98 L189.69,126.10 L191.58,128.09 L193.47,129.95 L195.36,131.70 L197.24,133.32 L199.13,134.83 L201.02,136.22 L202.91,137.50 L204.80,138.68 L206.69,139.76 L208.58,140.74 L210.47,141.64 L212.36,142.46 L214.24,143.20 L216.13,143.88 L218.02,144.49 L219.91,145.04 L221.80,145.54 L223.69,145.99 L225.58,146.40 L227.47,146.76 L229.36,147.09 L231.24,147.39 L233.13,147.66 L235.02,147.89 L236.91,148.11 L238.80,148.30" fill="none" stroke="#2ea3dc" stroke-width="4"/>
<path d="M68.80,48.83 L70.69,48.84 L72.58,48.85 L74.47,48.86 L76.36,48.88 L78.24,48.90 L80.13,48.94 L82.02,48.98 L83.91,49.03 L85.80,49.10 L87.69,49.19 L89.58,49.31 L91.47,49.47 L93.36,49.67 L95.24,49.93 L97.13,50.27 L99.02,50.71 L100.91,51.28 L102.80,52.02 L104.69,52.96 L106.58,54.16 L108.47,55.68 L110.36,57.60 L112.24,59.98 L114.13,62.92 L116.02,66.47 L117.91,70.70 L119.80,75.61 L121.69,81.17 L123.58,87.29 L125.47,93.82 L127.36,100.55 L129.24,107.23 L131.13,113.66 L133.02,119.63 L134.91,125.00 L136.80,129.71 L138.69,133.73 L140.58,137.09 L142.47,139.85 L144.36,142.08 L146.24,143.87 L148.13,145.29 L150.02,146.41 L151.91,147.28 L153.80,147.96 L155.69,148.49 L157.58,148.89 L159.47,149.21 L161.36,149.45 L163.24,149.64 L165.13,149.78 L167.02,149.89 L168.91,149.98 L170.80,150.04 L172.69,150.09 L174.58,150.13 L176.47,150.16 L178.36,150.18 L180.24,150.20 L182.13,150.21 L184.02,150.22 L185.91,150.23 L187.80,150.24 L189.69,150.24 L191.58,150.24 L193.47,150.25 L195.36,150.25 L197.24,150.25 L199.13,150.25 L201.02,150.25 L202.91,150.25 L204.80,150.25 L206.69,150.25 L208.58,150.25 L210.47,150.25 L212.36,150.25 L214.24,150.25 L216.13,150.25 L218.02,150.25 L219.91,150.25 L221.80,150.25 L223.69,150.25 L225.58,150.25 L227.47,150.25 L229.36,150.25 L231.24,150.25 L233.13,150.25 L235.02,150.25 L236.91,150.25 L238.80,150.25" fill="none" stroke="#c8102e" stroke-width="2"/>
<path d="M68.80,48.84 L70.69,48.86 L72.58,48.88 L74.47,48.91 L76.36,48.94 L78.24,48.99 L80.13,49.05 L82.02,49.13 L83.91,49.24 L85.80,49.39 L87.69,49.58 L89.58,49.84 L91.47,50.18 L93.36,50.63 L95.24,51.22 L97.13,52.00 L99.02,53.02 L100.91,54.34 L102.80,56.05 L104.69,58.23 L106.58,60.99 L108.47,64.41 L110.36,68.58 L112.24,73.56 L114.13,79.31 L116.02,85.77 L117.91,92.75 L119.80,100.01 L121.69,107.26 L123.58,114.21 L125.47,120.63 L127.36,126.34 L129.24,131.26 L131.13,135.39 L133.02,138.77 L134.91,141.49 L136.80,143.64 L138.69,145.32 L140.58,146.62 L142.47,147.62 L144.36,148.39 L146.24,148.97 L148.13,149.41 L150.02,149.75 L151.91,150.00 L153.80,150.19 L155.69,150.34 L157.58,150.44 L159.47,150.52 L161.36,150.59 L163.24,150.63 L165.13,150.67 L167.02,150.69 L168.91,150.71 L170.80,150.73 L172.69,150.74 L174.58,150.75 L176.47,150.75 L178.36,150.76 L180.24,150.76 L182.13,150.76 L184.02,150.76 L185.91,150.77 L187.80,150.77 L189.69,150.77 L191.58,150.77 L193.47,150.77 L195.36,150.77 L197.24,150.77 L199.13,150.77 L201.02,150.77 L202.91,150.77 L204.80,150.77 L206.69,150.77 L208.58,150.77 L210.47,150.77 L212.36,150.77 L214.24,150.77 L216.13,150.77 L218.02,150.77 L219.91,150.77 L221.80,150.77 L223.69,150.77 L225.58,150.77 L227.47,150.77 L229.36,150.77 L231.24,150.77 L233.13,150.77 L235.02,150.77 L236.91,150.77 L238.80,150.77" fill="none" stroke="#cf0a2c" stroke-width="4.8"/>
<path d="M68.8,100.30 H171.01 M122.65,100.30 V151.8 M171.01,100.30 V151.8" stroke="#111" stroke-width="1.2" stroke-dasharray="5.2,6" fill="none"/>
<path d="M68.8,38.3 V151.8 H240.5" stroke="#444" stroke-width="1.1" fill="none"/>
<path d="M66.2,48.80 H68.8" stroke="#444" stroke-width="1"/>
<text stroke="#3a3a3a" x="62.5" y="50.80" font-size="5.8" text-anchor="end" fill="#3a3a3a" font-family="Liberation Sans, sans-serif" stroke-width="0.22">100</text>
<path d="M66.2,100.30 H68.8" stroke="#444" stroke-width="1"/>
<text stroke="#3a3a3a" x="62.5" y="102.30" font-size="5.8" text-anchor="end" fill="#3a3a3a" font-family="Liberation Sans, sans-serif" stroke-width="0.22">50</text>
<path d="M66.2,151.80 H68.8" stroke="#444" stroke-width="1"/>
<text stroke="#3a3a3a" x="62.5" y="153.80" font-size="5.8" text-anchor="end" fill="#3a3a3a" font-family="Liberation Sans, sans-serif" stroke-width="0.22">0</text>
<path d="M68.80,151.8 V154.20000000000002" stroke="#444" stroke-width="0.9"/>
<path d="M81.59,151.8 V153.4" stroke="#444" stroke-width="0.9"/>
<path d="M89.08,151.8 V153.4" stroke="#444" stroke-width="0.9"/>
<path d="M94.39,151.8 V153.4" stroke="#444" stroke-width="0.9"/>
<path d="M98.51,151.8 V153.4" stroke="#444" stroke-width="0.9"/>
<path d="M101.87,151.8 V153.4" stroke="#444" stroke-width="0.9"/>
<path d="M104.72,151.8 V153.4" stroke="#444" stroke-width="0.9"/>
<path d="M107.18,151.8 V153.4" stroke="#444" stroke-width="0.9"/>
<path d="M109.36,151.8 V153.4" stroke="#444" stroke-width="0.9"/>
<path d="M111.30,151.8 V154.20000000000002" stroke="#444" stroke-width="0.9"/>
<path d="M124.09,151.8 V153.4" stroke="#444" stroke-width="0.9"/>
<path d="M131.58,151.8 V153.4" stroke="#444" stroke-width="0.9"/>
<path d="M136.89,151.8 V153.4" stroke="#444" stroke-width="0.9"/>
<path d="M141.01,151.8 V153.4" stroke="#444" stroke-width="0.9"/>
<path d="M144.37,151.8 V153.4" stroke="#444" stroke-width="0.9"/>
<path d="M147.22,151.8 V153.4" stroke="#444" stroke-width="0.9"/>
<path d="M149.68,151.8 V153.4" stroke="#444" stroke-width="0.9"/>
<path d="M151.86,151.8 V153.4" stroke="#444" stroke-width="0.9"/>
<path d="M153.80,151.8 V154.20000000000002" stroke="#444" stroke-width="0.9"/>
<path d="M166.59,151.8 V153.4" stroke="#444" stroke-width="0.9"/>
<path d="M174.08,151.8 V153.4" stroke="#444" stroke-width="0.9"/>
<path d="M179.39,151.8 V153.4" stroke="#444" stroke-width="0.9"/>
<path d="M183.51,151.8 V153.4" stroke="#444" stroke-width="0.9"/>
<path d="M186.87,151.8 V153.4" stroke="#444" stroke-width="0.9"/>
<path d="M189.72,151.8 V153.4" stroke="#444" stroke-width="0.9"/>
<path d="M192.18,151.8 V153.4" stroke="#444" stroke-width="0.9"/>
<path d="M194.36,151.8 V153.4" stroke="#444" stroke-width="0.9"/>
<path d="M196.30,151.8 V154.20000000000002" stroke="#444" stroke-width="0.9"/>
<path d="M209.09,151.8 V153.4" stroke="#444" stroke-width="0.9"/>
<path d="M216.58,151.8 V153.4" stroke="#444" stroke-width="0.9"/>
<path d="M221.89,151.8 V153.4" stroke="#444" stroke-width="0.9"/>
<path d="M226.01,151.8 V153.4" stroke="#444" stroke-width="0.9"/>
<path d="M229.37,151.8 V153.4" stroke="#444" stroke-width="0.9"/>
<path d="M232.22,151.8 V153.4" stroke="#444" stroke-width="0.9"/>
<path d="M234.68,151.8 V153.4" stroke="#444" stroke-width="0.9"/>
<path d="M236.86,151.8 V153.4" stroke="#444" stroke-width="0.9"/>
<path d="M238.80,151.8 V154.20000000000002" stroke="#444" stroke-width="0.9"/>
<text stroke="#3a3a3a" x="68.80" y="162.8" font-size="6.1" text-anchor="middle" fill="#3a3a3a" font-family="Liberation Sans, sans-serif" stroke-width="0.22">0.1</text>
<text stroke="#3a3a3a" x="111.30" y="162.8" font-size="6.1" text-anchor="middle" fill="#3a3a3a" font-family="Liberation Sans, sans-serif" stroke-width="0.22">1</text>
<text stroke="#3a3a3a" x="153.80" y="162.8" font-size="6.1" text-anchor="middle" fill="#3a3a3a" font-family="Liberation Sans, sans-serif" stroke-width="0.22">10</text>
<text stroke="#3a3a3a" x="196.30" y="162.8" font-size="6.1" text-anchor="middle" fill="#3a3a3a" font-family="Liberation Sans, sans-serif" stroke-width="0.22">100</text>
<text stroke="#3a3a3a" x="238.80" y="162.8" font-size="6.1" text-anchor="middle" fill="#3a3a3a" font-family="Liberation Sans, sans-serif" stroke-width="0.22">1000</text>
<text stroke="#222" transform="translate(154.5,173) scale(0.84,1)" font-size="6.7" text-anchor="middle" fill="#222" font-family="Liberation Sans, sans-serif" stroke-width="0.22">Daporinad [nM]</text>
<text stroke="#222" transform="translate(46.8,94.5) rotate(-90)" font-size="6" text-anchor="middle" fill="#222" font-family="Liberation Sans, sans-serif" stroke-width="0.22">% Blast viability</text>
<text stroke="#222" x="369.3" y="19.3" font-size="7.8" text-anchor="middle" fill="#222" font-family="Liberation Sans, sans-serif" stroke-width="0.22">Daporinad</text>
<text stroke="#111" x="260.8" y="15.7" font-size="11" font-weight="bold" fill="#111" font-family="Liberation Sans, sans-serif" stroke-width="0.22">B</text>
<path d="M304.80,61.82 V131.35" stroke="#3a2a2a" stroke-width="0.9"/>
<rect x="301.80" y="62.74" width="6.0" height="33.50" fill="#e28e80"/>
<path d="M304.80,62.74 V96.24" stroke="#3a2a2a" stroke-width="0.9" opacity="0.6"/>
<path d="M302.60,61.82 H307.00 M302.60,131.35 H307.00" stroke="#3a2a2a" stroke-width="0.9"/>
<path d="M301.80,70.83 H307.80" stroke="#3a2a2a" stroke-width="0.9"/>
<circle cx="304.07" cy="61.12" r="1.25" fill="#5e1418"/>
<circle cx="305.49" cy="62.97" r="1.25" fill="#5e1418"/>
<circle cx="305.33" cy="65.51" r="1.25" fill="#5e1418"/>
<circle cx="304.31" cy="68.05" r="1.25" fill="#5e1418"/>
<circle cx="304.79" cy="70.13" r="1.25" fill="#5e1418"/>
<circle cx="304.70" cy="72.44" r="1.25" fill="#5e1418"/>
<circle cx="305.10" cy="89.54" r="1.25" fill="#5e1418"/>
<circle cx="305.38" cy="102.47" r="1.25" fill="#5e1418"/>
<circle cx="303.99" cy="124.65" r="1.25" fill="#5e1418"/>
<circle cx="303.86" cy="131.35" r="1.25" fill="#5e1418"/>
<path d="M311.00,63.90 V145.90" stroke="#2f3b44" stroke-width="0.9"/>
<rect x="308.30" y="78.91" width="5.4" height="43.89" fill="#c4e3f4"/>
<path d="M311.00,78.91 V122.80" stroke="#2f3b44" stroke-width="0.9" opacity="0.6"/>
<path d="M308.80,63.90 H313.20 M308.80,145.90 H313.20" stroke="#2f3b44" stroke-width="0.9"/>
<path d="M308.30,102.01 H313.70" stroke="#2f3b44" stroke-width="0.9"/>
<circle cx="311.44" cy="145.90" r="1.3" fill="#245368"/>
<circle cx="311.42" cy="139.82" r="1.3" fill="#245368"/>
<circle cx="311.87" cy="134.17" r="1.3" fill="#245368"/>
<circle cx="310.84" cy="133.15" r="1.3" fill="#245368"/>
<circle cx="311.66" cy="127.02" r="1.3" fill="#245368"/>
<circle cx="311.34" cy="122.29" r="1.3" fill="#245368"/>
<circle cx="310.61" cy="121.38" r="1.3" fill="#245368"/>
<circle cx="311.18" cy="118.29" r="1.3" fill="#245368"/>
<circle cx="311.76" cy="116.57" r="1.3" fill="#245368"/>
<circle cx="311.69" cy="116.34" r="1.3" fill="#245368"/>
<circle cx="311.01" cy="114.55" r="1.3" fill="#245368"/>
<circle cx="311.18" cy="111.83" r="1.3" fill="#245368"/>
<circle cx="310.07" cy="109.31" r="1.3" fill="#245368"/>
<circle cx="310.49" cy="108.52" r="1.3" fill="#245368"/>
<circle cx="311.59" cy="107.02" r="1.3" fill="#245368"/>
<circle cx="310.83" cy="104.85" r="1.3" fill="#245368"/>
<circle cx="310.35" cy="103.76" r="1.3" fill="#245368"/>
<circle cx="311.10" cy="101.57" r="1.3" fill="#245368"/>
<circle cx="311.41" cy="99.14" r="1.3" fill="#245368"/>
<circle cx="311.35" cy="97.02" r="1.3" fill="#245368"/>
<circle cx="310.75" cy="95.55" r="1.3" fill="#245368"/>
<circle cx="310.88" cy="93.56" r="1.3" fill="#245368"/>
<circle cx="311.02" cy="91.58" r="1.3" fill="#245368"/>
<circle cx="311.56" cy="89.10" r="1.3" fill="#245368"/>
<circle cx="311.04" cy="87.44" r="1.3" fill="#245368"/>
<circle cx="310.79" cy="85.98" r="1.3" fill="#245368"/>
<circle cx="310.98" cy="82.35" r="1.3" fill="#245368"/>
<circle cx="310.06" cy="80.92" r="1.3" fill="#245368"/>
<circle cx="310.09" cy="78.68" r="1.3" fill="#245368"/>
<circle cx="311.41" cy="77.18" r="1.3" fill="#245368"/>
<circle cx="311.97" cy="72.20" r="1.3" fill="#245368"/>
<circle cx="311.19" cy="69.80" r="1.3" fill="#245368"/>
<circle cx="310.79" cy="69.08" r="1.3" fill="#245368"/>
<circle cx="310.34" cy="63.90" r="1.3" fill="#245368"/>
<path d="M308.20,151.9 V154.5" stroke="#3a3a3a" stroke-width="0.9"/>
<text stroke="#3a3a3a" transform="translate(309.20,160.80) rotate(-45)" font-size="6.5" text-anchor="end" fill="#3a3a3a" font-family="Liberation Sans, sans-serif" stroke-width="0.22">Blasts</text>
<path d="M329.30,61.82 V125.69" stroke="#3a2a2a" stroke-width="0.9"/>
<rect x="326.30" y="62.74" width="6.0" height="28.88" fill="#e28e80"/>
<path d="M329.30,62.74 V91.62" stroke="#3a2a2a" stroke-width="0.9" opacity="0.6"/>
<path d="M327.10,61.82 H331.50 M327.10,125.69 H331.50" stroke="#3a2a2a" stroke-width="0.9"/>
<path d="M326.30,67.36 H332.30" stroke="#3a2a2a" stroke-width="0.9"/>
<circle cx="329.30" cy="61.35" r="1.25" fill="#5e1418"/>
<circle cx="330.26" cy="62.74" r="1.25" fill="#5e1418"/>
<circle cx="329.84" cy="64.59" r="1.25" fill="#5e1418"/>
<circle cx="329.38" cy="67.36" r="1.25" fill="#5e1418"/>
<circle cx="330.02" cy="69.67" r="1.25" fill="#5e1418"/>
<circle cx="328.76" cy="71.75" r="1.25" fill="#5e1418"/>
<circle cx="329.33" cy="113.56" r="1.25" fill="#5e1418"/>
<circle cx="330.20" cy="115.87" r="1.25" fill="#5e1418"/>
<circle cx="329.46" cy="125.69" r="1.25" fill="#5e1418"/>
<path d="M335.50,63.90 V127.65" stroke="#2f3b44" stroke-width="0.9"/>
<rect x="332.80" y="76.60" width="5.4" height="33.49" fill="#c4e3f4"/>
<path d="M335.50,76.60 V110.09" stroke="#2f3b44" stroke-width="0.9" opacity="0.6"/>
<path d="M333.30,63.90 H337.70 M333.30,127.65 H337.70" stroke="#2f3b44" stroke-width="0.9"/>
<path d="M332.80,95.08 H338.20" stroke="#2f3b44" stroke-width="0.9"/>
<circle cx="336.13" cy="127.65" r="1.3" fill="#245368"/>
<circle cx="335.01" cy="123.30" r="1.3" fill="#245368"/>
<circle cx="336.18" cy="118.91" r="1.3" fill="#245368"/>
<circle cx="335.85" cy="114.08" r="1.3" fill="#245368"/>
<circle cx="334.67" cy="113.92" r="1.3" fill="#245368"/>
<circle cx="334.53" cy="109.18" r="1.3" fill="#245368"/>
<circle cx="334.53" cy="107.75" r="1.3" fill="#245368"/>
<circle cx="336.01" cy="106.28" r="1.3" fill="#245368"/>
<circle cx="335.00" cy="105.10" r="1.3" fill="#245368"/>
<circle cx="334.72" cy="103.62" r="1.3" fill="#245368"/>
<circle cx="335.75" cy="102.64" r="1.3" fill="#245368"/>
<circle cx="335.19" cy="101.21" r="1.3" fill="#245368"/>
<circle cx="334.64" cy="100.01" r="1.3" fill="#245368"/>
<circle cx="334.82" cy="99.14" r="1.3" fill="#245368"/>
<circle cx="335.55" cy="96.64" r="1.3" fill="#245368"/>
<circle cx="334.84" cy="95.67" r="1.3" fill="#245368"/>
<circle cx="335.05" cy="94.74" r="1.3" fill="#245368"/>
<circle cx="335.92" cy="92.52" r="1.3" fill="#245368"/>
<circle cx="335.41" cy="90.86" r="1.3" fill="#245368"/>
<circle cx="335.14" cy="89.38" r="1.3" fill="#245368"/>
<circle cx="335.45" cy="87.70" r="1.3" fill="#245368"/>
<circle cx="334.55" cy="85.67" r="1.3" fill="#245368"/>
<circle cx="335.27" cy="83.83" r="1.3" fill="#245368"/>
<circle cx="335.34" cy="82.15" r="1.3" fill="#245368"/>
<circle cx="334.88" cy="80.71" r="1.3" fill="#245368"/>
<circle cx="334.72" cy="79.75" r="1.3" fill="#245368"/>
<circle cx="336.30" cy="77.70" r="1.3" fill="#245368"/>
<circle cx="335.52" cy="75.86" r="1.3" fill="#245368"/>
<circle cx="334.92" cy="72.37" r="1.3" fill="#245368"/>
<circle cx="335.71" cy="69.20" r="1.3" fill="#245368"/>
<circle cx="336.13" cy="66.88" r="1.3" fill="#245368"/>
<circle cx="334.54" cy="63.90" r="1.3" fill="#245368"/>
<path d="M332.70,151.9 V154.5" stroke="#3a3a3a" stroke-width="0.9"/>
<text stroke="#3a3a3a" transform="translate(333.70,160.80) rotate(-45)" font-size="6.5" text-anchor="end" fill="#3a3a3a" font-family="Liberation Sans, sans-serif" stroke-width="0.22">CD34+</text>
<path d="M353.80,85.15 V145.90" stroke="#3a2a2a" stroke-width="0.9"/>
<rect x="350.80" y="103.86" width="6.0" height="27.95" fill="#e28e80"/>
<path d="M353.80,103.86 V131.81" stroke="#3a2a2a" stroke-width="0.9" opacity="0.6"/>
<path d="M351.60,85.15 H356.00 M351.60,145.90 H356.00" stroke="#3a2a2a" stroke-width="0.9"/>
<path d="M350.80,120.95 H356.80" stroke="#3a2a2a" stroke-width="0.9"/>
<circle cx="352.84" cy="85.15" r="1.25" fill="#5e1418"/>
<circle cx="353.09" cy="101.32" r="1.25" fill="#5e1418"/>
<circle cx="354.24" cy="110.33" r="1.25" fill="#5e1418"/>
<circle cx="353.12" cy="120.03" r="1.25" fill="#5e1418"/>
<circle cx="354.21" cy="121.88" r="1.25" fill="#5e1418"/>
<circle cx="354.16" cy="134.35" r="1.25" fill="#5e1418"/>
<circle cx="353.89" cy="142.44" r="1.25" fill="#5e1418"/>
<circle cx="353.24" cy="145.90" r="1.25" fill="#5e1418"/>
<path d="M360.00,61.59 V145.90" stroke="#2f3b44" stroke-width="0.9"/>
<rect x="357.30" y="84.45" width="5.4" height="41.81" fill="#c4e3f4"/>
<path d="M360.00,84.45 V126.27" stroke="#2f3b44" stroke-width="0.9" opacity="0.6"/>
<path d="M357.80,61.59 H362.20 M357.80,145.90 H362.20" stroke="#2f3b44" stroke-width="0.9"/>
<path d="M357.30,104.32 H362.70" stroke="#2f3b44" stroke-width="0.9"/>
<circle cx="360.92" cy="145.90" r="1.3" fill="#245368"/>
<circle cx="360.14" cy="136.71" r="1.3" fill="#245368"/>
<circle cx="359.34" cy="133.03" r="1.3" fill="#245368"/>
<circle cx="360.74" cy="129.42" r="1.3" fill="#245368"/>
<circle cx="360.95" cy="124.09" r="1.3" fill="#245368"/>
<circle cx="360.41" cy="122.08" r="1.3" fill="#245368"/>
<circle cx="360.02" cy="118.91" r="1.3" fill="#245368"/>
<circle cx="359.76" cy="116.90" r="1.3" fill="#245368"/>
<circle cx="359.69" cy="113.38" r="1.3" fill="#245368"/>
<circle cx="359.41" cy="112.23" r="1.3" fill="#245368"/>
<circle cx="360.35" cy="108.90" r="1.3" fill="#245368"/>
<circle cx="359.87" cy="104.41" r="1.3" fill="#245368"/>
<circle cx="359.39" cy="102.19" r="1.3" fill="#245368"/>
<circle cx="359.21" cy="101.14" r="1.3" fill="#245368"/>
<circle cx="360.33" cy="97.36" r="1.3" fill="#245368"/>
<circle cx="359.59" cy="96.26" r="1.3" fill="#245368"/>
<circle cx="360.00" cy="92.30" r="1.3" fill="#245368"/>
<circle cx="359.65" cy="90.34" r="1.3" fill="#245368"/>
<circle cx="360.74" cy="88.70" r="1.3" fill="#245368"/>
<circle cx="360.80" cy="86.66" r="1.3" fill="#245368"/>
<circle cx="359.04" cy="84.82" r="1.3" fill="#245368"/>
<circle cx="359.40" cy="74.22" r="1.3" fill="#245368"/>
<circle cx="359.66" cy="73.27" r="1.3" fill="#245368"/>
<circle cx="360.97" cy="61.59" r="1.3" fill="#245368"/>
<path d="M357.20,151.9 V154.5" stroke="#3a3a3a" stroke-width="0.9"/>
<text stroke="#3a3a3a" transform="translate(358.20,160.80) rotate(-45)" font-size="6.5" text-anchor="end" fill="#3a3a3a" font-family="Liberation Sans, sans-serif" stroke-width="0.22">CD34+CD38−</text>
<path d="M378.30,45.42 V75.45" stroke="#3a2a2a" stroke-width="0.9"/>
<rect x="375.30" y="56.73" width="6.0" height="13.17" fill="#e28e80"/>
<path d="M378.30,56.73 V69.90" stroke="#3a2a2a" stroke-width="0.9" opacity="0.6"/>
<path d="M376.10,45.42 H380.50 M376.10,75.45 H380.50" stroke="#3a2a2a" stroke-width="0.9"/>
<path d="M375.30,63.43 H381.30" stroke="#3a2a2a" stroke-width="0.9"/>
<circle cx="378.87" cy="45.18" r="1.25" fill="#5e1418"/>
<circle cx="377.98" cy="57.43" r="1.25" fill="#5e1418"/>
<circle cx="377.73" cy="59.97" r="1.25" fill="#5e1418"/>
<circle cx="378.65" cy="63.43" r="1.25" fill="#5e1418"/>
<circle cx="378.98" cy="66.90" r="1.25" fill="#5e1418"/>
<circle cx="379.16" cy="69.90" r="1.25" fill="#5e1418"/>
<circle cx="377.99" cy="75.45" r="1.25" fill="#5e1418"/>
<circle cx="379.06" cy="100.86" r="1.25" fill="#5e1418"/>
<path d="M384.50,63.43 V105.01" stroke="#2f3b44" stroke-width="0.9"/>
<rect x="381.80" y="74.29" width="5.4" height="20.79" fill="#c4e3f4"/>
<path d="M384.50,74.29 V95.08" stroke="#2f3b44" stroke-width="0.9" opacity="0.6"/>
<path d="M382.30,63.43 H386.70 M382.30,105.01 H386.70" stroke="#2f3b44" stroke-width="0.9"/>
<path d="M381.80,83.53 H387.20" stroke="#2f3b44" stroke-width="0.9"/>
<circle cx="385.23" cy="105.01" r="1.3" fill="#245368"/>
<circle cx="385.08" cy="101.17" r="1.3" fill="#245368"/>
<circle cx="385.16" cy="97.29" r="1.3" fill="#245368"/>
<circle cx="384.18" cy="96.65" r="1.3" fill="#245368"/>
<circle cx="384.73" cy="93.83" r="1.3" fill="#245368"/>
<circle cx="385.06" cy="93.32" r="1.3" fill="#245368"/>
<circle cx="384.26" cy="91.78" r="1.3" fill="#245368"/>
<circle cx="384.64" cy="89.32" r="1.3" fill="#245368"/>
<circle cx="383.95" cy="88.89" r="1.3" fill="#245368"/>
<circle cx="383.66" cy="86.70" r="1.3" fill="#245368"/>
<circle cx="384.03" cy="85.51" r="1.3" fill="#245368"/>
<circle cx="385.28" cy="83.75" r="1.3" fill="#245368"/>
<circle cx="384.63" cy="83.11" r="1.3" fill="#245368"/>
<circle cx="385.35" cy="82.01" r="1.3" fill="#245368"/>
<circle cx="384.42" cy="80.94" r="1.3" fill="#245368"/>
<circle cx="384.05" cy="79.15" r="1.3" fill="#245368"/>
<circle cx="385.07" cy="78.32" r="1.3" fill="#245368"/>
<circle cx="385.16" cy="76.79" r="1.3" fill="#245368"/>
<circle cx="383.52" cy="75.73" r="1.3" fill="#245368"/>
<circle cx="384.84" cy="75.45" r="1.3" fill="#245368"/>
<circle cx="383.68" cy="73.18" r="1.3" fill="#245368"/>
<circle cx="383.73" cy="71.62" r="1.3" fill="#245368"/>
<circle cx="385.27" cy="68.98" r="1.3" fill="#245368"/>
<circle cx="383.58" cy="63.43" r="1.3" fill="#245368"/>
<circle cx="383.98" cy="123.26" r="1.3" fill="#245368"/>
<path d="M381.70,151.9 V154.5" stroke="#3a3a3a" stroke-width="0.9"/>
<text stroke="#3a3a3a" transform="translate(382.70,160.80) rotate(-45)" font-size="6.5" text-anchor="end" fill="#3a3a3a" font-family="Liberation Sans, sans-serif" stroke-width="0.22">CD34+CD38+</text>
<path d="M402.80,70.59 V105.01" stroke="#3a2a2a" stroke-width="0.9"/>
<rect x="399.80" y="86.30" width="6.0" height="18.71" fill="#e28e80"/>
<path d="M402.80,86.30 V105.01" stroke="#3a2a2a" stroke-width="0.9" opacity="0.6"/>
<path d="M400.60,70.59 H405.00 M400.60,105.01 H405.00" stroke="#3a2a2a" stroke-width="0.9"/>
<path d="M399.80,103.86 H405.80" stroke="#3a2a2a" stroke-width="0.9"/>
<circle cx="403.78" cy="70.59" r="1.25" fill="#5e1418"/>
<circle cx="402.64" cy="86.30" r="1.25" fill="#5e1418"/>
<circle cx="402.03" cy="103.17" r="1.25" fill="#5e1418"/>
<circle cx="402.13" cy="105.01" r="1.25" fill="#5e1418"/>
<path d="M409.00,60.89 V125.11" stroke="#2f3b44" stroke-width="0.9"/>
<rect x="406.30" y="78.91" width="5.4" height="32.34" fill="#c4e3f4"/>
<path d="M409.00,78.91 V111.25" stroke="#2f3b44" stroke-width="0.9" opacity="0.6"/>
<path d="M406.80,60.89 H411.20 M406.80,125.11 H411.20" stroke="#2f3b44" stroke-width="0.9"/>
<path d="M406.30,95.08 H411.70" stroke="#2f3b44" stroke-width="0.9"/>
<circle cx="409.38" cy="125.11" r="1.3" fill="#245368"/>
<circle cx="409.32" cy="119.71" r="1.3" fill="#245368"/>
<circle cx="408.52" cy="118.60" r="1.3" fill="#245368"/>
<circle cx="409.08" cy="113.01" r="1.3" fill="#245368"/>
<circle cx="408.61" cy="111.56" r="1.3" fill="#245368"/>
<circle cx="408.49" cy="108.72" r="1.3" fill="#245368"/>
<circle cx="408.16" cy="107.12" r="1.3" fill="#245368"/>
<circle cx="408.56" cy="106.47" r="1.3" fill="#245368"/>
<circle cx="409.97" cy="104.84" r="1.3" fill="#245368"/>
<circle cx="408.90" cy="102.76" r="1.3" fill="#245368"/>
<circle cx="409.30" cy="101.70" r="1.3" fill="#245368"/>
<circle cx="409.29" cy="99.07" r="1.3" fill="#245368"/>
<circle cx="409.88" cy="98.41" r="1.3" fill="#245368"/>
<circle cx="408.78" cy="96.76" r="1.3" fill="#245368"/>
<circle cx="408.61" cy="93.41" r="1.3" fill="#245368"/>
<circle cx="408.65" cy="92.88" r="1.3" fill="#245368"/>
<circle cx="408.63" cy="90.67" r="1.3" fill="#245368"/>
<circle cx="409.69" cy="89.22" r="1.3" fill="#245368"/>
<circle cx="409.79" cy="87.75" r="1.3" fill="#245368"/>
<circle cx="408.61" cy="86.48" r="1.3" fill="#245368"/>
<circle cx="408.67" cy="83.34" r="1.3" fill="#245368"/>
<circle cx="409.09" cy="81.54" r="1.3" fill="#245368"/>
<circle cx="409.16" cy="79.84" r="1.3" fill="#245368"/>
<circle cx="409.19" cy="79.60" r="1.3" fill="#245368"/>
<circle cx="408.49" cy="76.11" r="1.3" fill="#245368"/>
<circle cx="408.04" cy="70.47" r="1.3" fill="#245368"/>
<circle cx="408.49" cy="64.99" r="1.3" fill="#245368"/>
<circle cx="408.14" cy="60.89" r="1.3" fill="#245368"/>
<circle cx="409.10" cy="142.44" r="1.3" fill="#245368"/>
<path d="M406.20,151.9 V154.5" stroke="#3a3a3a" stroke-width="0.9"/>
<text stroke="#3a3a3a" transform="translate(407.20,160.80) rotate(-45)" font-size="6.5" text-anchor="end" fill="#3a3a3a" font-family="Liberation Sans, sans-serif" stroke-width="0.22">CD14+</text>
<path d="M427.30,51.65 V145.90" stroke="#3a2a2a" stroke-width="0.9"/>
<rect x="424.30" y="75.68" width="6.0" height="50.82" fill="#e28e80"/>
<path d="M427.30,75.68 V126.50" stroke="#3a2a2a" stroke-width="0.9" opacity="0.6"/>
<path d="M425.10,51.65 H429.50 M425.10,145.90 H429.50" stroke="#3a2a2a" stroke-width="0.9"/>
<path d="M424.30,102.47 H430.30" stroke="#3a2a2a" stroke-width="0.9"/>
<circle cx="426.44" cy="51.65" r="1.25" fill="#5e1418"/>
<circle cx="426.45" cy="70.36" r="1.25" fill="#5e1418"/>
<circle cx="427.57" cy="93.00" r="1.25" fill="#5e1418"/>
<circle cx="426.88" cy="102.47" r="1.25" fill="#5e1418"/>
<circle cx="427.88" cy="111.25" r="1.25" fill="#5e1418"/>
<circle cx="427.29" cy="145.21" r="1.25" fill="#5e1418"/>
<circle cx="428.03" cy="145.90" r="1.25" fill="#5e1418"/>
<path d="M433.50,86.30 V145.90" stroke="#2f3b44" stroke-width="0.9"/>
<rect x="430.80" y="93.00" width="5.4" height="33.26" fill="#c4e3f4"/>
<path d="M433.50,93.00 V126.27" stroke="#2f3b44" stroke-width="0.9" opacity="0.6"/>
<path d="M431.30,86.30 H435.70 M431.30,145.90 H435.70" stroke="#2f3b44" stroke-width="0.9"/>
<path d="M430.80,102.70 H436.20" stroke="#2f3b44" stroke-width="0.9"/>
<circle cx="433.37" cy="145.90" r="1.3" fill="#245368"/>
<circle cx="432.82" cy="138.81" r="1.3" fill="#245368"/>
<circle cx="433.93" cy="132.71" r="1.3" fill="#245368"/>
<circle cx="433.84" cy="131.38" r="1.3" fill="#245368"/>
<circle cx="433.01" cy="124.16" r="1.3" fill="#245368"/>
<circle cx="432.63" cy="123.56" r="1.3" fill="#245368"/>
<circle cx="434.43" cy="119.29" r="1.3" fill="#245368"/>
<circle cx="434.12" cy="116.07" r="1.3" fill="#245368"/>
<circle cx="433.60" cy="113.84" r="1.3" fill="#245368"/>
<circle cx="433.58" cy="112.51" r="1.3" fill="#245368"/>
<circle cx="434.20" cy="110.41" r="1.3" fill="#245368"/>
<circle cx="433.41" cy="106.66" r="1.3" fill="#245368"/>
<circle cx="433.29" cy="102.92" r="1.3" fill="#245368"/>
<circle cx="433.18" cy="102.38" r="1.3" fill="#245368"/>
<circle cx="433.02" cy="100.62" r="1.3" fill="#245368"/>
<circle cx="432.55" cy="100.35" r="1.3" fill="#245368"/>
<circle cx="433.79" cy="98.41" r="1.3" fill="#245368"/>
<circle cx="433.33" cy="98.28" r="1.3" fill="#245368"/>
<circle cx="433.64" cy="96.87" r="1.3" fill="#245368"/>
<circle cx="432.62" cy="95.13" r="1.3" fill="#245368"/>
<circle cx="433.21" cy="94.14" r="1.3" fill="#245368"/>
<circle cx="432.78" cy="92.89" r="1.3" fill="#245368"/>
<circle cx="432.75" cy="91.39" r="1.3" fill="#245368"/>
<circle cx="433.02" cy="89.93" r="1.3" fill="#245368"/>
<circle cx="434.16" cy="88.41" r="1.3" fill="#245368"/>
<circle cx="433.30" cy="86.30" r="1.3" fill="#245368"/>
<path d="M430.70,151.9 V154.5" stroke="#3a3a3a" stroke-width="0.9"/>
<text stroke="#3a3a3a" transform="translate(431.70,160.80) rotate(-45)" font-size="6.5" text-anchor="end" fill="#3a3a3a" font-family="Liberation Sans, sans-serif" stroke-width="0.22">CD3+</text>
<path d="M304.50,58.00 H311.30" stroke="#2a2a2a" stroke-width="1.2"/>
<text stroke="#222" x="307.90" y="58.00" font-size="5.6" text-anchor="middle" fill="#222" font-family="Liberation Sans, sans-serif" stroke-width="0.22">**</text>
<path d="M329.00,58.00 H335.80" stroke="#2a2a2a" stroke-width="1.2"/>
<text stroke="#222" x="332.40" y="58.00" font-size="5.6" text-anchor="middle" fill="#222" font-family="Liberation Sans, sans-serif" stroke-width="0.22">*</text>
<path d="M378.00,40.30 H384.80" stroke="#2a2a2a" stroke-width="1.2"/>
<text stroke="#222" x="381.40" y="40.30" font-size="5.6" text-anchor="middle" fill="#222" font-family="Liberation Sans, sans-serif" stroke-width="0.22">***</text>
<path d="M293.2,24.9 V151.9 H445.1" stroke="#3a3a3a" stroke-width="1.1" fill="none"/>
<path d="M290.40,145.90 H293.2" stroke="#3a3a3a" stroke-width="0.9"/>
<text stroke="#3a3a3a" x="287.60" y="148.00" font-size="6" text-anchor="end" fill="#3a3a3a" font-family="Liberation Sans, sans-serif" stroke-width="0.22">0</text>
<path d="M290.40,122.80 H293.2" stroke="#3a3a3a" stroke-width="0.9"/>
<text stroke="#3a3a3a" x="287.60" y="124.90" font-size="6" text-anchor="end" fill="#3a3a3a" font-family="Liberation Sans, sans-serif" stroke-width="0.22">10</text>
<path d="M290.40,99.70 H293.2" stroke="#3a3a3a" stroke-width="0.9"/>
<text stroke="#3a3a3a" x="287.60" y="101.80" font-size="6" text-anchor="end" fill="#3a3a3a" font-family="Liberation Sans, sans-serif" stroke-width="0.22">20</text>
<path d="M290.40,76.60 H293.2" stroke="#3a3a3a" stroke-width="0.9"/>
<text stroke="#3a3a3a" x="287.60" y="78.70" font-size="6" text-anchor="end" fill="#3a3a3a" font-family="Liberation Sans, sans-serif" stroke-width="0.22">30</text>
<path d="M290.40,53.50 H293.2" stroke="#3a3a3a" stroke-width="0.9"/>
<text stroke="#3a3a3a" x="287.60" y="55.60" font-size="6" text-anchor="end" fill="#3a3a3a" font-family="Liberation Sans, sans-serif" stroke-width="0.22">40</text>
<path d="M290.40,30.40 H293.2" stroke="#3a3a3a" stroke-width="0.9"/>
<text stroke="#3a3a3a" x="287.60" y="32.50" font-size="6" text-anchor="end" fill="#3a3a3a" font-family="Liberation Sans, sans-serif" stroke-width="0.22">50</text>
<text stroke="#2a2a2a" transform="translate(275.4,87.9) rotate(-90) scale(0.7,1)" font-size="7.2" text-anchor="middle" fill="#2a2a2a" font-family="Liberation Sans, sans-serif" stroke-width="0.22">DSS</text>
<text stroke="#222" x="103.2" y="226.4" font-size="7.8" text-anchor="middle" fill="#222" font-family="Liberation Sans, sans-serif" stroke-width="0.22">KPT−9274</text>
<text stroke="#111" x="6.9" y="214.2" font-size="11" font-weight="bold" fill="#111" font-family="Liberation Sans, sans-serif" stroke-width="0.22">C</text>
<path d="M42.90,281.63 V339.72" stroke="#3a2a2a" stroke-width="0.9"/>
<rect x="39.90" y="287.57" width="6.0" height="27.14" fill="#e28e80"/>
<path d="M42.90,287.57 V314.70" stroke="#3a2a2a" stroke-width="0.9" opacity="0.6"/>
<path d="M40.70,281.63 H45.10 M40.70,339.72 H45.10" stroke="#3a2a2a" stroke-width="0.9"/>
<path d="M39.90,296.68 H45.90" stroke="#3a2a2a" stroke-width="0.9"/>
<circle cx="43.81" cy="281.63" r="1.25" fill="#5e1418"/>
<circle cx="43.80" cy="287.78" r="1.25" fill="#5e1418"/>
<circle cx="42.01" cy="295.62" r="1.25" fill="#5e1418"/>
<circle cx="42.07" cy="297.32" r="1.25" fill="#5e1418"/>
<circle cx="43.57" cy="308.34" r="1.25" fill="#5e1418"/>
<circle cx="43.37" cy="317.46" r="1.25" fill="#5e1418"/>
<circle cx="43.24" cy="339.72" r="1.25" fill="#5e1418"/>
<path d="M48.70,277.60 V342.90" stroke="#2f3b44" stroke-width="0.9"/>
<rect x="46.00" y="307.50" width="5.4" height="22.68" fill="#c4e3f4"/>
<path d="M48.70,307.50 V330.18" stroke="#2f3b44" stroke-width="0.9" opacity="0.6"/>
<path d="M46.50,277.60 H50.90 M46.50,342.90 H50.90" stroke="#2f3b44" stroke-width="0.9"/>
<path d="M46.00,321.70 H51.40" stroke="#2f3b44" stroke-width="0.9"/>
<circle cx="49.28" cy="342.90" r="1.3" fill="#245368"/>
<circle cx="48.41" cy="339.14" r="1.3" fill="#245368"/>
<circle cx="49.66" cy="336.80" r="1.3" fill="#245368"/>
<circle cx="49.62" cy="334.53" r="1.3" fill="#245368"/>
<circle cx="48.02" cy="333.18" r="1.3" fill="#245368"/>
<circle cx="49.21" cy="330.20" r="1.3" fill="#245368"/>
<circle cx="49.13" cy="329.48" r="1.3" fill="#245368"/>
<circle cx="48.62" cy="328.51" r="1.3" fill="#245368"/>
<circle cx="48.76" cy="327.57" r="1.3" fill="#245368"/>
<circle cx="48.68" cy="326.87" r="1.3" fill="#245368"/>
<circle cx="49.55" cy="326.44" r="1.3" fill="#245368"/>
<circle cx="48.70" cy="325.78" r="1.3" fill="#245368"/>
<circle cx="49.36" cy="325.17" r="1.3" fill="#245368"/>
<circle cx="48.41" cy="324.61" r="1.3" fill="#245368"/>
<circle cx="49.47" cy="323.88" r="1.3" fill="#245368"/>
<circle cx="49.50" cy="322.83" r="1.3" fill="#245368"/>
<circle cx="48.62" cy="322.20" r="1.3" fill="#245368"/>
<circle cx="48.84" cy="321.23" r="1.3" fill="#245368"/>
<circle cx="49.54" cy="319.38" r="1.3" fill="#245368"/>
<circle cx="49.15" cy="318.60" r="1.3" fill="#245368"/>
<circle cx="48.67" cy="317.33" r="1.3" fill="#245368"/>
<circle cx="48.14" cy="316.49" r="1.3" fill="#245368"/>
<circle cx="48.35" cy="315.53" r="1.3" fill="#245368"/>
<circle cx="49.10" cy="313.93" r="1.3" fill="#245368"/>
<circle cx="48.03" cy="312.93" r="1.3" fill="#245368"/>
<circle cx="49.52" cy="311.24" r="1.3" fill="#245368"/>
<circle cx="48.24" cy="309.41" r="1.3" fill="#245368"/>
<circle cx="49.52" cy="308.58" r="1.3" fill="#245368"/>
<circle cx="48.32" cy="307.96" r="1.3" fill="#245368"/>
<circle cx="49.61" cy="300.17" r="1.3" fill="#245368"/>
<circle cx="49.11" cy="295.21" r="1.3" fill="#245368"/>
<circle cx="48.71" cy="290.05" r="1.3" fill="#245368"/>
<circle cx="48.74" cy="283.61" r="1.3" fill="#245368"/>
<circle cx="49.00" cy="277.60" r="1.3" fill="#245368"/>
<path d="M45.90,348.1 V350.70000000000005" stroke="#3a3a3a" stroke-width="0.9"/>
<text stroke="#3a3a3a" transform="translate(46.90,357.00) rotate(-45)" font-size="6.5" text-anchor="end" fill="#3a3a3a" font-family="Liberation Sans, sans-serif" stroke-width="0.22">Blasts</text>
<path d="M65.95,282.90 V324.67" stroke="#3a2a2a" stroke-width="0.9"/>
<rect x="62.95" y="287.57" width="6.0" height="18.87" fill="#e28e80"/>
<path d="M65.95,287.57 V306.44" stroke="#3a2a2a" stroke-width="0.9" opacity="0.6"/>
<path d="M63.75,282.90 H68.15 M63.75,324.67 H68.15" stroke="#3a2a2a" stroke-width="0.9"/>
<path d="M62.95,292.02 H68.95" stroke="#3a2a2a" stroke-width="0.9"/>
<circle cx="66.13" cy="282.90" r="1.25" fill="#5e1418"/>
<circle cx="65.57" cy="287.78" r="1.25" fill="#5e1418"/>
<circle cx="65.37" cy="289.48" r="1.25" fill="#5e1418"/>
<circle cx="65.97" cy="292.02" r="1.25" fill="#5e1418"/>
<circle cx="66.82" cy="295.62" r="1.25" fill="#5e1418"/>
<circle cx="66.20" cy="306.44" r="1.25" fill="#5e1418"/>
<circle cx="65.10" cy="324.67" r="1.25" fill="#5e1418"/>
<circle cx="66.59" cy="338.24" r="1.25" fill="#5e1418"/>
<path d="M71.75,282.90 V342.90" stroke="#2f3b44" stroke-width="0.9"/>
<rect x="69.05" y="302.62" width="5.4" height="29.68" fill="#c4e3f4"/>
<path d="M71.75,302.62 V332.30" stroke="#2f3b44" stroke-width="0.9" opacity="0.6"/>
<path d="M69.55,282.90 H73.95 M69.55,342.90 H73.95" stroke="#2f3b44" stroke-width="0.9"/>
<path d="M69.05,317.46 H74.45" stroke="#2f3b44" stroke-width="0.9"/>
<circle cx="70.84" cy="342.90" r="1.3" fill="#245368"/>
<circle cx="72.73" cy="338.95" r="1.3" fill="#245368"/>
<circle cx="71.05" cy="338.36" r="1.3" fill="#245368"/>
<circle cx="70.82" cy="335.15" r="1.3" fill="#245368"/>
<circle cx="71.44" cy="334.50" r="1.3" fill="#245368"/>
<circle cx="71.98" cy="331.57" r="1.3" fill="#245368"/>
<circle cx="72.23" cy="330.73" r="1.3" fill="#245368"/>
<circle cx="70.98" cy="329.43" r="1.3" fill="#245368"/>
<circle cx="71.42" cy="327.18" r="1.3" fill="#245368"/>
<circle cx="70.81" cy="326.86" r="1.3" fill="#245368"/>
<circle cx="71.65" cy="324.93" r="1.3" fill="#245368"/>
<circle cx="72.28" cy="323.12" r="1.3" fill="#245368"/>
<circle cx="72.23" cy="322.58" r="1.3" fill="#245368"/>
<circle cx="72.55" cy="321.26" r="1.3" fill="#245368"/>
<circle cx="72.26" cy="318.99" r="1.3" fill="#245368"/>
<circle cx="72.47" cy="318.25" r="1.3" fill="#245368"/>
<circle cx="72.16" cy="316.48" r="1.3" fill="#245368"/>
<circle cx="71.70" cy="316.05" r="1.3" fill="#245368"/>
<circle cx="71.20" cy="314.24" r="1.3" fill="#245368"/>
<circle cx="72.07" cy="313.13" r="1.3" fill="#245368"/>
<circle cx="71.38" cy="311.09" r="1.3" fill="#245368"/>
<circle cx="70.95" cy="310.53" r="1.3" fill="#245368"/>
<circle cx="71.65" cy="307.97" r="1.3" fill="#245368"/>
<circle cx="72.50" cy="307.88" r="1.3" fill="#245368"/>
<circle cx="71.01" cy="305.55" r="1.3" fill="#245368"/>
<circle cx="71.92" cy="305.16" r="1.3" fill="#245368"/>
<circle cx="71.54" cy="303.47" r="1.3" fill="#245368"/>
<circle cx="71.78" cy="299.03" r="1.3" fill="#245368"/>
<circle cx="71.04" cy="297.70" r="1.3" fill="#245368"/>
<circle cx="72.67" cy="293.75" r="1.3" fill="#245368"/>
<circle cx="71.27" cy="287.94" r="1.3" fill="#245368"/>
<circle cx="71.96" cy="282.90" r="1.3" fill="#245368"/>
<circle cx="71.59" cy="276.12" r="1.3" fill="#245368"/>
<path d="M68.95,348.1 V350.70000000000005" stroke="#3a3a3a" stroke-width="0.9"/>
<text stroke="#3a3a3a" transform="translate(69.95,357.00) rotate(-45)" font-size="6.5" text-anchor="end" fill="#3a3a3a" font-family="Liberation Sans, sans-serif" stroke-width="0.22">CD34+</text>
<path d="M89.00,318.31 V342.90" stroke="#3a2a2a" stroke-width="0.9"/>
<rect x="86.00" y="322.76" width="6.0" height="20.14" fill="#e28e80"/>
<path d="M89.00,322.76 V342.90" stroke="#3a2a2a" stroke-width="0.9" opacity="0.6"/>
<path d="M86.80,318.31 H91.20 M86.80,342.90 H91.20" stroke="#3a2a2a" stroke-width="0.9"/>
<path d="M86.00,342.26 H92.00" stroke="#3a2a2a" stroke-width="0.9"/>
<circle cx="88.04" cy="318.31" r="1.25" fill="#5e1418"/>
<circle cx="89.12" cy="322.76" r="1.25" fill="#5e1418"/>
<circle cx="88.28" cy="330.39" r="1.25" fill="#5e1418"/>
<circle cx="88.11" cy="341.84" r="1.25" fill="#5e1418"/>
<circle cx="88.07" cy="342.90" r="1.25" fill="#5e1418"/>
<circle cx="88.32" cy="342.90" r="1.25" fill="#5e1418"/>
<path d="M94.80,285.02 V342.90" stroke="#2f3b44" stroke-width="0.9"/>
<rect x="92.10" y="315.34" width="5.4" height="25.44" fill="#c4e3f4"/>
<path d="M94.80,315.34 V340.78" stroke="#2f3b44" stroke-width="0.9" opacity="0.6"/>
<path d="M92.60,285.02 H97.00 M92.60,342.90 H97.00" stroke="#2f3b44" stroke-width="0.9"/>
<path d="M92.10,325.94 H97.50" stroke="#2f3b44" stroke-width="0.9"/>
<circle cx="94.00" cy="342.90" r="1.3" fill="#245368"/>
<circle cx="94.16" cy="341.92" r="1.3" fill="#245368"/>
<circle cx="94.26" cy="341.39" r="1.3" fill="#245368"/>
<circle cx="94.23" cy="339.86" r="1.3" fill="#245368"/>
<circle cx="94.84" cy="337.97" r="1.3" fill="#245368"/>
<circle cx="94.73" cy="335.87" r="1.3" fill="#245368"/>
<circle cx="94.42" cy="335.40" r="1.3" fill="#245368"/>
<circle cx="95.08" cy="332.99" r="1.3" fill="#245368"/>
<circle cx="94.22" cy="331.39" r="1.3" fill="#245368"/>
<circle cx="95.61" cy="328.73" r="1.3" fill="#245368"/>
<circle cx="95.73" cy="326.69" r="1.3" fill="#245368"/>
<circle cx="95.26" cy="324.81" r="1.3" fill="#245368"/>
<circle cx="94.67" cy="323.52" r="1.3" fill="#245368"/>
<circle cx="94.82" cy="322.74" r="1.3" fill="#245368"/>
<circle cx="94.96" cy="321.09" r="1.3" fill="#245368"/>
<circle cx="93.90" cy="319.53" r="1.3" fill="#245368"/>
<circle cx="94.64" cy="318.85" r="1.3" fill="#245368"/>
<circle cx="94.85" cy="317.39" r="1.3" fill="#245368"/>
<circle cx="94.16" cy="315.44" r="1.3" fill="#245368"/>
<circle cx="93.99" cy="309.90" r="1.3" fill="#245368"/>
<circle cx="95.41" cy="296.02" r="1.3" fill="#245368"/>
<circle cx="94.53" cy="285.02" r="1.3" fill="#245368"/>
<path d="M92.00,348.1 V350.70000000000005" stroke="#3a3a3a" stroke-width="0.9"/>
<text stroke="#3a3a3a" transform="translate(93.00,357.00) rotate(-45)" font-size="6.5" text-anchor="end" fill="#3a3a3a" font-family="Liberation Sans, sans-serif" stroke-width="0.22">CD34+CD38−</text>
<path d="M112.05,277.18 V291.38" stroke="#3a2a2a" stroke-width="0.9"/>
<rect x="109.05" y="277.18" width="6.0" height="14.20" fill="#e28e80"/>
<path d="M112.05,277.18 V291.38" stroke="#3a2a2a" stroke-width="0.9" opacity="0.6"/>
<path d="M109.85,277.18 H114.25 M109.85,291.38 H114.25" stroke="#3a2a2a" stroke-width="0.9"/>
<path d="M109.05,283.54 H115.05" stroke="#3a2a2a" stroke-width="0.9"/>
<circle cx="112.09" cy="277.18" r="1.25" fill="#5e1418"/>
<circle cx="112.89" cy="278.24" r="1.25" fill="#5e1418"/>
<circle cx="112.27" cy="280.36" r="1.25" fill="#5e1418"/>
<circle cx="111.63" cy="282.48" r="1.25" fill="#5e1418"/>
<circle cx="113.02" cy="283.54" r="1.25" fill="#5e1418"/>
<circle cx="111.79" cy="285.66" r="1.25" fill="#5e1418"/>
<circle cx="111.09" cy="287.78" r="1.25" fill="#5e1418"/>
<circle cx="112.42" cy="289.90" r="1.25" fill="#5e1418"/>
<circle cx="111.25" cy="291.38" r="1.25" fill="#5e1418"/>
<circle cx="111.66" cy="317.88" r="1.25" fill="#5e1418"/>
<path d="M117.85,281.63 V342.90" stroke="#2f3b44" stroke-width="0.9"/>
<rect x="115.15" y="303.04" width="5.4" height="19.93" fill="#c4e3f4"/>
<path d="M117.85,303.04 V322.97" stroke="#2f3b44" stroke-width="0.9" opacity="0.6"/>
<path d="M115.65,281.63 H120.05 M115.65,342.90 H120.05" stroke="#2f3b44" stroke-width="0.9"/>
<path d="M115.15,313.22 H120.55" stroke="#2f3b44" stroke-width="0.9"/>
<circle cx="118.24" cy="342.90" r="1.3" fill="#245368"/>
<circle cx="116.90" cy="334.89" r="1.3" fill="#245368"/>
<circle cx="118.17" cy="333.24" r="1.3" fill="#245368"/>
<circle cx="118.40" cy="326.37" r="1.3" fill="#245368"/>
<circle cx="118.30" cy="322.70" r="1.3" fill="#245368"/>
<circle cx="117.85" cy="321.51" r="1.3" fill="#245368"/>
<circle cx="117.57" cy="320.71" r="1.3" fill="#245368"/>
<circle cx="117.76" cy="319.19" r="1.3" fill="#245368"/>
<circle cx="118.45" cy="318.65" r="1.3" fill="#245368"/>
<circle cx="117.39" cy="317.32" r="1.3" fill="#245368"/>
<circle cx="117.90" cy="316.12" r="1.3" fill="#245368"/>
<circle cx="117.81" cy="314.39" r="1.3" fill="#245368"/>
<circle cx="118.76" cy="314.24" r="1.3" fill="#245368"/>
<circle cx="118.46" cy="312.35" r="1.3" fill="#245368"/>
<circle cx="118.71" cy="311.85" r="1.3" fill="#245368"/>
<circle cx="118.52" cy="310.26" r="1.3" fill="#245368"/>
<circle cx="117.44" cy="309.32" r="1.3" fill="#245368"/>
<circle cx="117.31" cy="308.08" r="1.3" fill="#245368"/>
<circle cx="117.83" cy="306.60" r="1.3" fill="#245368"/>
<circle cx="117.37" cy="305.86" r="1.3" fill="#245368"/>
<circle cx="117.71" cy="305.02" r="1.3" fill="#245368"/>
<circle cx="118.21" cy="303.87" r="1.3" fill="#245368"/>
<circle cx="118.69" cy="301.81" r="1.3" fill="#245368"/>
<circle cx="118.02" cy="292.70" r="1.3" fill="#245368"/>
<circle cx="118.49" cy="288.63" r="1.3" fill="#245368"/>
<circle cx="117.04" cy="281.63" r="1.3" fill="#245368"/>
<circle cx="117.56" cy="275.70" r="1.3" fill="#245368"/>
<path d="M115.05,348.1 V350.70000000000005" stroke="#3a3a3a" stroke-width="0.9"/>
<text stroke="#3a3a3a" transform="translate(116.05,357.00) rotate(-45)" font-size="6.5" text-anchor="end" fill="#3a3a3a" font-family="Liberation Sans, sans-serif" stroke-width="0.22">CD34+CD38+</text>
<path d="M135.10,286.30 V327.00" stroke="#3a2a2a" stroke-width="0.9"/>
<rect x="132.10" y="299.65" width="6.0" height="19.93" fill="#e28e80"/>
<path d="M135.10,299.65 V319.58" stroke="#3a2a2a" stroke-width="0.9" opacity="0.6"/>
<path d="M132.90,286.30 H137.30 M132.90,327.00 H137.30" stroke="#3a2a2a" stroke-width="0.9"/>
<path d="M132.10,311.95 H138.10" stroke="#3a2a2a" stroke-width="0.9"/>
<circle cx="136.10" cy="286.30" r="1.25" fill="#5e1418"/>
<circle cx="134.39" cy="311.95" r="1.25" fill="#5e1418"/>
<circle cx="134.93" cy="312.80" r="1.25" fill="#5e1418"/>
<circle cx="134.23" cy="327.00" r="1.25" fill="#5e1418"/>
<path d="M140.90,278.88 V342.90" stroke="#2f3b44" stroke-width="0.9"/>
<rect x="138.20" y="309.19" width="5.4" height="17.81" fill="#c4e3f4"/>
<path d="M140.90,309.19 V327.00" stroke="#2f3b44" stroke-width="0.9" opacity="0.6"/>
<path d="M138.70,278.88 H143.10 M138.70,342.90 H143.10" stroke="#2f3b44" stroke-width="0.9"/>
<path d="M138.20,317.46 H143.60" stroke="#2f3b44" stroke-width="0.9"/>
<circle cx="139.96" cy="342.90" r="1.3" fill="#245368"/>
<circle cx="141.09" cy="336.17" r="1.3" fill="#245368"/>
<circle cx="141.66" cy="332.29" r="1.3" fill="#245368"/>
<circle cx="140.26" cy="329.95" r="1.3" fill="#245368"/>
<circle cx="140.92" cy="328.25" r="1.3" fill="#245368"/>
<circle cx="140.86" cy="326.18" r="1.3" fill="#245368"/>
<circle cx="140.71" cy="325.24" r="1.3" fill="#245368"/>
<circle cx="141.32" cy="323.80" r="1.3" fill="#245368"/>
<circle cx="141.77" cy="322.79" r="1.3" fill="#245368"/>
<circle cx="141.31" cy="322.03" r="1.3" fill="#245368"/>
<circle cx="140.84" cy="320.94" r="1.3" fill="#245368"/>
<circle cx="141.82" cy="320.35" r="1.3" fill="#245368"/>
<circle cx="140.56" cy="318.92" r="1.3" fill="#245368"/>
<circle cx="141.39" cy="317.51" r="1.3" fill="#245368"/>
<circle cx="141.22" cy="316.80" r="1.3" fill="#245368"/>
<circle cx="141.42" cy="316.51" r="1.3" fill="#245368"/>
<circle cx="141.60" cy="315.27" r="1.3" fill="#245368"/>
<circle cx="140.35" cy="314.23" r="1.3" fill="#245368"/>
<circle cx="141.14" cy="313.76" r="1.3" fill="#245368"/>
<circle cx="140.71" cy="312.34" r="1.3" fill="#245368"/>
<circle cx="141.23" cy="311.85" r="1.3" fill="#245368"/>
<circle cx="141.85" cy="310.77" r="1.3" fill="#245368"/>
<circle cx="141.17" cy="310.16" r="1.3" fill="#245368"/>
<circle cx="139.92" cy="305.98" r="1.3" fill="#245368"/>
<circle cx="140.83" cy="300.65" r="1.3" fill="#245368"/>
<circle cx="141.32" cy="295.30" r="1.3" fill="#245368"/>
<circle cx="141.67" cy="291.43" r="1.3" fill="#245368"/>
<circle cx="141.20" cy="278.88" r="1.3" fill="#245368"/>
<path d="M138.10,348.1 V350.70000000000005" stroke="#3a3a3a" stroke-width="0.9"/>
<text stroke="#3a3a3a" transform="translate(139.10,357.00) rotate(-45)" font-size="6.5" text-anchor="end" fill="#3a3a3a" font-family="Liberation Sans, sans-serif" stroke-width="0.22">CD14+</text>
<path d="M158.15,285.24 V342.90" stroke="#3a2a2a" stroke-width="0.9"/>
<rect x="155.15" y="290.96" width="6.0" height="51.94" fill="#e28e80"/>
<path d="M158.15,290.96 V342.90" stroke="#3a2a2a" stroke-width="0.9" opacity="0.6"/>
<path d="M155.95,285.24 H160.35 M155.95,342.90 H160.35" stroke="#3a2a2a" stroke-width="0.9"/>
<path d="M155.15,315.76 H161.15" stroke="#3a2a2a" stroke-width="0.9"/>
<circle cx="158.78" cy="285.24" r="1.25" fill="#5e1418"/>
<circle cx="157.18" cy="292.02" r="1.25" fill="#5e1418"/>
<circle cx="159.04" cy="315.76" r="1.25" fill="#5e1418"/>
<circle cx="158.61" cy="342.90" r="1.25" fill="#5e1418"/>
<circle cx="158.36" cy="342.90" r="1.25" fill="#5e1418"/>
<circle cx="158.96" cy="342.90" r="1.25" fill="#5e1418"/>
<path d="M163.95,312.37 V342.90" stroke="#2f3b44" stroke-width="0.9"/>
<rect x="161.25" y="314.70" width="5.4" height="19.93" fill="#c4e3f4"/>
<path d="M163.95,314.70 V334.63" stroke="#2f3b44" stroke-width="0.9" opacity="0.6"/>
<path d="M161.75,312.37 H166.15 M161.75,342.90 H166.15" stroke="#2f3b44" stroke-width="0.9"/>
<path d="M161.25,323.82 H166.65" stroke="#2f3b44" stroke-width="0.9"/>
<circle cx="164.30" cy="342.90" r="1.3" fill="#245368"/>
<circle cx="163.62" cy="340.53" r="1.3" fill="#245368"/>
<circle cx="163.48" cy="336.84" r="1.3" fill="#245368"/>
<circle cx="163.96" cy="334.79" r="1.3" fill="#245368"/>
<circle cx="163.01" cy="334.16" r="1.3" fill="#245368"/>
<circle cx="163.11" cy="332.11" r="1.3" fill="#245368"/>
<circle cx="164.46" cy="330.99" r="1.3" fill="#245368"/>
<circle cx="163.30" cy="330.19" r="1.3" fill="#245368"/>
<circle cx="164.45" cy="328.05" r="1.3" fill="#245368"/>
<circle cx="164.52" cy="327.61" r="1.3" fill="#245368"/>
<circle cx="163.76" cy="325.66" r="1.3" fill="#245368"/>
<circle cx="164.30" cy="324.57" r="1.3" fill="#245368"/>
<circle cx="164.52" cy="323.54" r="1.3" fill="#245368"/>
<circle cx="164.68" cy="322.07" r="1.3" fill="#245368"/>
<circle cx="163.22" cy="321.06" r="1.3" fill="#245368"/>
<circle cx="163.28" cy="320.24" r="1.3" fill="#245368"/>
<circle cx="163.71" cy="318.27" r="1.3" fill="#245368"/>
<circle cx="163.88" cy="318.15" r="1.3" fill="#245368"/>
<circle cx="163.54" cy="317.11" r="1.3" fill="#245368"/>
<circle cx="162.97" cy="315.46" r="1.3" fill="#245368"/>
<circle cx="164.06" cy="314.29" r="1.3" fill="#245368"/>
<circle cx="164.88" cy="313.79" r="1.3" fill="#245368"/>
<circle cx="163.68" cy="313.13" r="1.3" fill="#245368"/>
<circle cx="164.03" cy="312.37" r="1.3" fill="#245368"/>
<path d="M161.15,348.1 V350.70000000000005" stroke="#3a3a3a" stroke-width="0.9"/>
<text stroke="#3a3a3a" transform="translate(162.15,357.00) rotate(-45)" font-size="6.5" text-anchor="end" fill="#3a3a3a" font-family="Liberation Sans, sans-serif" stroke-width="0.22">CD3+</text>
<path d="M42.60,272.40 H49.00" stroke="#2a2a2a" stroke-width="1.2"/>
<text stroke="#222" x="45.80" y="272.40" font-size="5.6" text-anchor="middle" fill="#222" font-family="Liberation Sans, sans-serif" stroke-width="0.22">*</text>
<path d="M65.65,271.10 H72.05" stroke="#2a2a2a" stroke-width="1.2"/>
<text stroke="#222" x="68.85" y="271.10" font-size="5.6" text-anchor="middle" fill="#222" font-family="Liberation Sans, sans-serif" stroke-width="0.22">*</text>
<path d="M111.75,270.90 H118.15" stroke="#2a2a2a" stroke-width="1.2"/>
<text stroke="#222" x="114.95" y="270.90" font-size="5.6" text-anchor="middle" fill="#222" font-family="Liberation Sans, sans-serif" stroke-width="0.22">***</text>
<path d="M31.0,232.2 V348.1 H174.9" stroke="#3a3a3a" stroke-width="1.1" fill="none"/>
<path d="M28.20,342.90 H31.0" stroke="#3a3a3a" stroke-width="0.9"/>
<text stroke="#3a3a3a" x="25.40" y="345.00" font-size="6" text-anchor="end" fill="#3a3a3a" font-family="Liberation Sans, sans-serif" stroke-width="0.22">0</text>
<path d="M28.20,321.70 H31.0" stroke="#3a3a3a" stroke-width="0.9"/>
<text stroke="#3a3a3a" x="25.40" y="323.80" font-size="6" text-anchor="end" fill="#3a3a3a" font-family="Liberation Sans, sans-serif" stroke-width="0.22">10</text>
<path d="M28.20,300.50 H31.0" stroke="#3a3a3a" stroke-width="0.9"/>
<text stroke="#3a3a3a" x="25.40" y="302.60" font-size="6" text-anchor="end" fill="#3a3a3a" font-family="Liberation Sans, sans-serif" stroke-width="0.22">20</text>
<path d="M28.20,279.30 H31.0" stroke="#3a3a3a" stroke-width="0.9"/>
<text stroke="#3a3a3a" x="25.40" y="281.40" font-size="6" text-anchor="end" fill="#3a3a3a" font-family="Liberation Sans, sans-serif" stroke-width="0.22">30</text>
<path d="M28.20,258.10 H31.0" stroke="#3a3a3a" stroke-width="0.9"/>
<text stroke="#3a3a3a" x="25.40" y="260.20" font-size="6" text-anchor="end" fill="#3a3a3a" font-family="Liberation Sans, sans-serif" stroke-width="0.22">40</text>
<path d="M28.20,236.90 H31.0" stroke="#3a3a3a" stroke-width="0.9"/>
<text stroke="#3a3a3a" x="25.40" y="239.00" font-size="6" text-anchor="end" fill="#3a3a3a" font-family="Liberation Sans, sans-serif" stroke-width="0.22">50</text>
<text stroke="#2a2a2a" transform="translate(12.6,289.6) rotate(-90) scale(0.7,1)" font-size="7.2" text-anchor="middle" fill="#2a2a2a" font-family="Liberation Sans, sans-serif" stroke-width="0.22">DSS</text>
<text stroke="#222" x="271.0" y="226.4" font-size="7.8" text-anchor="middle" fill="#222" font-family="Liberation Sans, sans-serif" stroke-width="0.22">GMX1778</text>
<text stroke="#111" x="184.2" y="214.2" font-size="11" font-weight="bold" fill="#111" font-family="Liberation Sans, sans-serif" stroke-width="0.22">D</text>
<path d="M210.60,260.64 V323.18" stroke="#3a2a2a" stroke-width="0.9"/>
<rect x="207.60" y="271.24" width="6.0" height="20.99" fill="#e28e80"/>
<path d="M210.60,271.24 V292.23" stroke="#3a2a2a" stroke-width="0.9" opacity="0.6"/>
<path d="M208.40,260.64 H212.80 M208.40,323.18 H212.80" stroke="#3a2a2a" stroke-width="0.9"/>
<path d="M207.60,274.00 H213.60" stroke="#3a2a2a" stroke-width="0.9"/>
<circle cx="210.08" cy="260.64" r="1.25" fill="#5e1418"/>
<circle cx="210.69" cy="263.82" r="1.25" fill="#5e1418"/>
<circle cx="210.34" cy="267.85" r="1.25" fill="#5e1418"/>
<circle cx="210.81" cy="270.82" r="1.25" fill="#5e1418"/>
<circle cx="210.85" cy="272.94" r="1.25" fill="#5e1418"/>
<circle cx="209.73" cy="274.85" r="1.25" fill="#5e1418"/>
<circle cx="209.63" cy="308.56" r="1.25" fill="#5e1418"/>
<circle cx="211.27" cy="323.18" r="1.25" fill="#5e1418"/>
<path d="M216.40,263.61 V333.36" stroke="#2f3b44" stroke-width="0.9"/>
<rect x="213.70" y="283.54" width="5.4" height="19.08" fill="#c4e3f4"/>
<path d="M216.40,283.54 V302.62" stroke="#2f3b44" stroke-width="0.9" opacity="0.6"/>
<path d="M214.20,263.61 H218.60 M214.20,333.36 H218.60" stroke="#2f3b44" stroke-width="0.9"/>
<path d="M213.70,294.14 H219.10" stroke="#2f3b44" stroke-width="0.9"/>
<circle cx="217.33" cy="333.36" r="1.3" fill="#245368"/>
<circle cx="216.27" cy="325.95" r="1.3" fill="#245368"/>
<circle cx="216.65" cy="315.37" r="1.3" fill="#245368"/>
<circle cx="216.00" cy="312.52" r="1.3" fill="#245368"/>
<circle cx="216.41" cy="304.32" r="1.3" fill="#245368"/>
<circle cx="216.17" cy="302.34" r="1.3" fill="#245368"/>
<circle cx="216.10" cy="301.44" r="1.3" fill="#245368"/>
<circle cx="216.57" cy="301.04" r="1.3" fill="#245368"/>
<circle cx="216.57" cy="299.88" r="1.3" fill="#245368"/>
<circle cx="217.21" cy="298.92" r="1.3" fill="#245368"/>
<circle cx="216.76" cy="298.41" r="1.3" fill="#245368"/>
<circle cx="217.26" cy="297.46" r="1.3" fill="#245368"/>
<circle cx="217.11" cy="296.73" r="1.3" fill="#245368"/>
<circle cx="217.38" cy="296.43" r="1.3" fill="#245368"/>
<circle cx="216.74" cy="295.11" r="1.3" fill="#245368"/>
<circle cx="215.73" cy="294.46" r="1.3" fill="#245368"/>
<circle cx="217.12" cy="293.85" r="1.3" fill="#245368"/>
<circle cx="217.33" cy="293.14" r="1.3" fill="#245368"/>
<circle cx="217.21" cy="291.35" r="1.3" fill="#245368"/>
<circle cx="216.54" cy="290.76" r="1.3" fill="#245368"/>
<circle cx="216.83" cy="289.54" r="1.3" fill="#245368"/>
<circle cx="215.82" cy="288.41" r="1.3" fill="#245368"/>
<circle cx="217.06" cy="287.60" r="1.3" fill="#245368"/>
<circle cx="216.55" cy="286.42" r="1.3" fill="#245368"/>
<circle cx="215.97" cy="285.96" r="1.3" fill="#245368"/>
<circle cx="215.53" cy="284.59" r="1.3" fill="#245368"/>
<circle cx="217.11" cy="283.96" r="1.3" fill="#245368"/>
<circle cx="217.38" cy="279.43" r="1.3" fill="#245368"/>
<circle cx="215.58" cy="275.76" r="1.3" fill="#245368"/>
<circle cx="217.00" cy="274.91" r="1.3" fill="#245368"/>
<circle cx="216.22" cy="270.87" r="1.3" fill="#245368"/>
<circle cx="215.70" cy="263.61" r="1.3" fill="#245368"/>
<circle cx="215.99" cy="338.24" r="1.3" fill="#245368"/>
<circle cx="216.94" cy="342.90" r="1.3" fill="#245368"/>
<path d="M213.80,348.1 V350.70000000000005" stroke="#3a3a3a" stroke-width="0.9"/>
<text stroke="#3a3a3a" transform="translate(214.80,357.00) rotate(-45)" font-size="6.5" text-anchor="end" fill="#3a3a3a" font-family="Liberation Sans, sans-serif" stroke-width="0.22">Blasts</text>
<path d="M233.60,260.64 V315.98" stroke="#3a2a2a" stroke-width="0.9"/>
<rect x="230.60" y="271.24" width="6.0" height="20.99" fill="#e28e80"/>
<path d="M233.60,271.24 V292.23" stroke="#3a2a2a" stroke-width="0.9" opacity="0.6"/>
<path d="M231.40,260.64 H235.80 M231.40,315.98 H235.80" stroke="#3a2a2a" stroke-width="0.9"/>
<path d="M230.60,274.00 H236.60" stroke="#3a2a2a" stroke-width="0.9"/>
<circle cx="234.35" cy="260.64" r="1.25" fill="#5e1418"/>
<circle cx="232.69" cy="263.40" r="1.25" fill="#5e1418"/>
<circle cx="233.83" cy="266.58" r="1.25" fill="#5e1418"/>
<circle cx="232.69" cy="269.76" r="1.25" fill="#5e1418"/>
<circle cx="234.04" cy="272.94" r="1.25" fill="#5e1418"/>
<circle cx="233.26" cy="275.06" r="1.25" fill="#5e1418"/>
<circle cx="234.36" cy="315.98" r="1.25" fill="#5e1418"/>
<path d="M239.40,262.55 V317.04" stroke="#2f3b44" stroke-width="0.9"/>
<rect x="236.70" y="283.54" width="5.4" height="13.36" fill="#c4e3f4"/>
<path d="M239.40,283.54 V296.90" stroke="#2f3b44" stroke-width="0.9" opacity="0.6"/>
<path d="M237.20,262.55 H241.60 M237.20,317.04 H241.60" stroke="#2f3b44" stroke-width="0.9"/>
<path d="M236.70,292.02 H242.10" stroke="#2f3b44" stroke-width="0.9"/>
<circle cx="239.44" cy="317.04" r="1.3" fill="#245368"/>
<circle cx="239.50" cy="310.72" r="1.3" fill="#245368"/>
<circle cx="238.42" cy="304.45" r="1.3" fill="#245368"/>
<circle cx="239.23" cy="303.15" r="1.3" fill="#245368"/>
<circle cx="239.56" cy="299.93" r="1.3" fill="#245368"/>
<circle cx="238.44" cy="296.51" r="1.3" fill="#245368"/>
<circle cx="239.63" cy="296.31" r="1.3" fill="#245368"/>
<circle cx="239.66" cy="295.75" r="1.3" fill="#245368"/>
<circle cx="238.52" cy="295.17" r="1.3" fill="#245368"/>
<circle cx="239.65" cy="294.60" r="1.3" fill="#245368"/>
<circle cx="239.33" cy="294.34" r="1.3" fill="#245368"/>
<circle cx="239.76" cy="293.91" r="1.3" fill="#245368"/>
<circle cx="239.11" cy="293.04" r="1.3" fill="#245368"/>
<circle cx="239.81" cy="292.83" r="1.3" fill="#245368"/>
<circle cx="239.88" cy="292.04" r="1.3" fill="#245368"/>
<circle cx="238.44" cy="291.27" r="1.3" fill="#245368"/>
<circle cx="238.52" cy="290.87" r="1.3" fill="#245368"/>
<circle cx="239.75" cy="289.97" r="1.3" fill="#245368"/>
<circle cx="240.33" cy="289.09" r="1.3" fill="#245368"/>
<circle cx="238.90" cy="288.16" r="1.3" fill="#245368"/>
<circle cx="239.31" cy="287.37" r="1.3" fill="#245368"/>
<circle cx="239.59" cy="286.57" r="1.3" fill="#245368"/>
<circle cx="239.04" cy="285.68" r="1.3" fill="#245368"/>
<circle cx="239.13" cy="284.59" r="1.3" fill="#245368"/>
<circle cx="239.03" cy="284.12" r="1.3" fill="#245368"/>
<circle cx="239.14" cy="282.53" r="1.3" fill="#245368"/>
<circle cx="239.59" cy="276.89" r="1.3" fill="#245368"/>
<circle cx="239.00" cy="274.63" r="1.3" fill="#245368"/>
<circle cx="239.15" cy="269.98" r="1.3" fill="#245368"/>
<circle cx="239.94" cy="262.55" r="1.3" fill="#245368"/>
<circle cx="238.45" cy="320.85" r="1.3" fill="#245368"/>
<circle cx="239.54" cy="326.58" r="1.3" fill="#245368"/>
<path d="M236.80,348.1 V350.70000000000005" stroke="#3a3a3a" stroke-width="0.9"/>
<text stroke="#3a3a3a" transform="translate(237.80,357.00) rotate(-45)" font-size="6.5" text-anchor="end" fill="#3a3a3a" font-family="Liberation Sans, sans-serif" stroke-width="0.22">CD34+</text>
<path d="M256.60,280.15 V342.90" stroke="#3a2a2a" stroke-width="0.9"/>
<rect x="253.60" y="280.15" width="6.0" height="48.12" fill="#e28e80"/>
<path d="M256.60,280.15 V328.27" stroke="#3a2a2a" stroke-width="0.9" opacity="0.6"/>
<path d="M254.40,280.15 H258.80 M254.40,342.90 H258.80" stroke="#3a2a2a" stroke-width="0.9"/>
<path d="M253.60,316.19 H259.60" stroke="#3a2a2a" stroke-width="0.9"/>
<circle cx="257.07" cy="280.15" r="1.25" fill="#5e1418"/>
<circle cx="256.22" cy="282.48" r="1.25" fill="#5e1418"/>
<circle cx="256.05" cy="308.13" r="1.25" fill="#5e1418"/>
<circle cx="257.21" cy="316.19" r="1.25" fill="#5e1418"/>
<circle cx="256.08" cy="330.82" r="1.25" fill="#5e1418"/>
<circle cx="255.97" cy="342.90" r="1.25" fill="#5e1418"/>
<path d="M262.40,267.22 V342.90" stroke="#2f3b44" stroke-width="0.9"/>
<rect x="259.70" y="285.66" width="5.4" height="26.71" fill="#c4e3f4"/>
<path d="M262.40,285.66 V312.37" stroke="#2f3b44" stroke-width="0.9" opacity="0.6"/>
<path d="M260.20,267.22 H264.60 M260.20,342.90 H264.60" stroke="#2f3b44" stroke-width="0.9"/>
<path d="M259.70,298.38 H265.10" stroke="#2f3b44" stroke-width="0.9"/>
<circle cx="261.78" cy="342.90" r="1.3" fill="#245368"/>
<circle cx="263.01" cy="322.65" r="1.3" fill="#245368"/>
<circle cx="263.08" cy="317.84" r="1.3" fill="#245368"/>
<circle cx="261.77" cy="310.41" r="1.3" fill="#245368"/>
<circle cx="261.96" cy="307.81" r="1.3" fill="#245368"/>
<circle cx="263.01" cy="303.95" r="1.3" fill="#245368"/>
<circle cx="262.68" cy="302.40" r="1.3" fill="#245368"/>
<circle cx="263.01" cy="298.75" r="1.3" fill="#245368"/>
<circle cx="262.09" cy="297.98" r="1.3" fill="#245368"/>
<circle cx="261.66" cy="295.25" r="1.3" fill="#245368"/>
<circle cx="261.98" cy="292.18" r="1.3" fill="#245368"/>
<circle cx="262.99" cy="289.30" r="1.3" fill="#245368"/>
<circle cx="261.94" cy="287.97" r="1.3" fill="#245368"/>
<circle cx="262.09" cy="286.16" r="1.3" fill="#245368"/>
<circle cx="262.23" cy="280.75" r="1.3" fill="#245368"/>
<circle cx="262.24" cy="267.22" r="1.3" fill="#245368"/>
<path d="M259.80,348.1 V350.70000000000005" stroke="#3a3a3a" stroke-width="0.9"/>
<text stroke="#3a3a3a" transform="translate(260.80,357.00) rotate(-45)" font-size="6.5" text-anchor="end" fill="#3a3a3a" font-family="Liberation Sans, sans-serif" stroke-width="0.22">CD34+CD38−</text>
<path d="M279.60,268.06 V273.36" stroke="#3a2a2a" stroke-width="0.9"/>
<rect x="276.60" y="268.06" width="6.0" height="5.30" fill="#e28e80"/>
<path d="M279.60,268.06 V273.36" stroke="#3a2a2a" stroke-width="0.9" opacity="0.6"/>
<path d="M277.40,268.06 H281.80 M277.40,273.36 H281.80" stroke="#3a2a2a" stroke-width="0.9"/>
<path d="M276.60,270.82 H282.60" stroke="#3a2a2a" stroke-width="0.9"/>
<circle cx="279.42" cy="248.56" r="1.25" fill="#5e1418"/>
<circle cx="280.44" cy="255.98" r="1.25" fill="#5e1418"/>
<circle cx="278.91" cy="268.06" r="1.25" fill="#5e1418"/>
<circle cx="278.61" cy="269.76" r="1.25" fill="#5e1418"/>
<circle cx="280.49" cy="270.82" r="1.25" fill="#5e1418"/>
<circle cx="280.36" cy="271.88" r="1.25" fill="#5e1418"/>
<circle cx="280.57" cy="273.36" r="1.25" fill="#5e1418"/>
<circle cx="279.47" cy="293.50" r="1.25" fill="#5e1418"/>
<path d="M285.40,274.64 V302.62" stroke="#2f3b44" stroke-width="0.9"/>
<rect x="282.70" y="280.78" width="5.4" height="11.24" fill="#c4e3f4"/>
<path d="M285.40,280.78 V292.02" stroke="#2f3b44" stroke-width="0.9" opacity="0.6"/>
<path d="M283.20,274.64 H287.60 M283.20,302.62 H287.60" stroke="#2f3b44" stroke-width="0.9"/>
<path d="M282.70,285.66 H288.10" stroke="#2f3b44" stroke-width="0.9"/>
<circle cx="285.55" cy="302.62" r="1.3" fill="#245368"/>
<circle cx="284.43" cy="296.24" r="1.3" fill="#245368"/>
<circle cx="285.89" cy="295.26" r="1.3" fill="#245368"/>
<circle cx="284.74" cy="291.51" r="1.3" fill="#245368"/>
<circle cx="285.00" cy="290.49" r="1.3" fill="#245368"/>
<circle cx="285.73" cy="289.72" r="1.3" fill="#245368"/>
<circle cx="285.45" cy="288.92" r="1.3" fill="#245368"/>
<circle cx="285.23" cy="288.20" r="1.3" fill="#245368"/>
<circle cx="286.28" cy="287.21" r="1.3" fill="#245368"/>
<circle cx="285.62" cy="286.38" r="1.3" fill="#245368"/>
<circle cx="285.08" cy="285.61" r="1.3" fill="#245368"/>
<circle cx="284.90" cy="284.52" r="1.3" fill="#245368"/>
<circle cx="286.12" cy="284.02" r="1.3" fill="#245368"/>
<circle cx="285.35" cy="282.93" r="1.3" fill="#245368"/>
<circle cx="285.96" cy="282.76" r="1.3" fill="#245368"/>
<circle cx="285.10" cy="281.43" r="1.3" fill="#245368"/>
<circle cx="284.79" cy="280.86" r="1.3" fill="#245368"/>
<circle cx="285.47" cy="278.62" r="1.3" fill="#245368"/>
<circle cx="286.03" cy="276.76" r="1.3" fill="#245368"/>
<circle cx="284.74" cy="274.64" r="1.3" fill="#245368"/>
<circle cx="285.98" cy="261.70" r="1.3" fill="#245368"/>
<circle cx="286.24" cy="310.04" r="1.3" fill="#245368"/>
<path d="M282.80,348.1 V350.70000000000005" stroke="#3a3a3a" stroke-width="0.9"/>
<text stroke="#3a3a3a" transform="translate(283.80,357.00) rotate(-45)" font-size="6.5" text-anchor="end" fill="#3a3a3a" font-family="Liberation Sans, sans-serif" stroke-width="0.22">CD34+CD38+</text>
<path d="M302.60,272.09 V290.75" stroke="#3a2a2a" stroke-width="0.9"/>
<rect x="299.60" y="281.42" width="6.0" height="9.33" fill="#e28e80"/>
<path d="M302.60,281.42 V290.75" stroke="#3a2a2a" stroke-width="0.9" opacity="0.6"/>
<path d="M300.40,272.09 H304.80 M300.40,290.75 H304.80" stroke="#3a2a2a" stroke-width="0.9"/>
<path d="M299.60,289.48 H305.60" stroke="#3a2a2a" stroke-width="0.9"/>
<circle cx="303.21" cy="272.09" r="1.25" fill="#5e1418"/>
<circle cx="303.25" cy="281.42" r="1.25" fill="#5e1418"/>
<circle cx="301.62" cy="288.84" r="1.25" fill="#5e1418"/>
<circle cx="302.86" cy="290.75" r="1.25" fill="#5e1418"/>
<path d="M308.40,271.46 V306.65" stroke="#2f3b44" stroke-width="0.9"/>
<rect x="305.70" y="281.42" width="5.4" height="14.84" fill="#c4e3f4"/>
<path d="M308.40,281.42 V296.26" stroke="#2f3b44" stroke-width="0.9" opacity="0.6"/>
<path d="M306.20,271.46 H310.60 M306.20,306.65 H310.60" stroke="#2f3b44" stroke-width="0.9"/>
<path d="M305.70,287.78 H311.10" stroke="#2f3b44" stroke-width="0.9"/>
<circle cx="308.06" cy="306.65" r="1.3" fill="#245368"/>
<circle cx="307.65" cy="303.81" r="1.3" fill="#245368"/>
<circle cx="308.51" cy="300.50" r="1.3" fill="#245368"/>
<circle cx="308.83" cy="297.81" r="1.3" fill="#245368"/>
<circle cx="308.16" cy="295.55" r="1.3" fill="#245368"/>
<circle cx="307.56" cy="294.61" r="1.3" fill="#245368"/>
<circle cx="307.76" cy="293.52" r="1.3" fill="#245368"/>
<circle cx="308.15" cy="292.17" r="1.3" fill="#245368"/>
<circle cx="308.61" cy="291.93" r="1.3" fill="#245368"/>
<circle cx="308.97" cy="290.84" r="1.3" fill="#245368"/>
<circle cx="308.16" cy="289.73" r="1.3" fill="#245368"/>
<circle cx="309.00" cy="288.69" r="1.3" fill="#245368"/>
<circle cx="308.65" cy="287.73" r="1.3" fill="#245368"/>
<circle cx="308.26" cy="286.24" r="1.3" fill="#245368"/>
<circle cx="308.14" cy="285.56" r="1.3" fill="#245368"/>
<circle cx="308.39" cy="285.37" r="1.3" fill="#245368"/>
<circle cx="308.81" cy="284.27" r="1.3" fill="#245368"/>
<circle cx="308.24" cy="283.64" r="1.3" fill="#245368"/>
<circle cx="308.79" cy="282.86" r="1.3" fill="#245368"/>
<circle cx="308.32" cy="282.05" r="1.3" fill="#245368"/>
<circle cx="307.89" cy="280.16" r="1.3" fill="#245368"/>
<circle cx="308.47" cy="277.72" r="1.3" fill="#245368"/>
<circle cx="308.79" cy="275.71" r="1.3" fill="#245368"/>
<circle cx="307.54" cy="271.46" r="1.3" fill="#245368"/>
<circle cx="308.25" cy="323.18" r="1.3" fill="#245368"/>
<circle cx="308.25" cy="342.90" r="1.3" fill="#245368"/>
<path d="M305.80,348.1 V350.70000000000005" stroke="#3a3a3a" stroke-width="0.9"/>
<text stroke="#3a3a3a" transform="translate(306.80,357.00) rotate(-45)" font-size="6.5" text-anchor="end" fill="#3a3a3a" font-family="Liberation Sans, sans-serif" stroke-width="0.22">CD14+</text>
<path d="M325.60,247.92 V342.90" stroke="#3a2a2a" stroke-width="0.9"/>
<rect x="322.60" y="274.85" width="6.0" height="50.67" fill="#e28e80"/>
<path d="M325.60,274.85 V325.52" stroke="#3a2a2a" stroke-width="0.9" opacity="0.6"/>
<path d="M323.40,247.92 H327.80 M323.40,342.90 H327.80" stroke="#3a2a2a" stroke-width="0.9"/>
<path d="M322.60,303.47 H328.60" stroke="#3a2a2a" stroke-width="0.9"/>
<circle cx="326.36" cy="247.92" r="1.25" fill="#5e1418"/>
<circle cx="326.47" cy="268.06" r="1.25" fill="#5e1418"/>
<circle cx="325.35" cy="280.15" r="1.25" fill="#5e1418"/>
<circle cx="326.40" cy="303.47" r="1.25" fill="#5e1418"/>
<circle cx="326.18" cy="310.89" r="1.25" fill="#5e1418"/>
<circle cx="325.12" cy="342.90" r="1.25" fill="#5e1418"/>
<path d="M331.40,281.84 V342.90" stroke="#2f3b44" stroke-width="0.9"/>
<rect x="328.70" y="292.02" width="5.4" height="36.46" fill="#c4e3f4"/>
<path d="M331.40,292.02 V328.48" stroke="#2f3b44" stroke-width="0.9" opacity="0.6"/>
<path d="M329.20,281.84 H333.60 M329.20,342.90 H333.60" stroke="#2f3b44" stroke-width="0.9"/>
<path d="M328.70,300.08 H334.10" stroke="#2f3b44" stroke-width="0.9"/>
<circle cx="331.56" cy="342.90" r="1.3" fill="#245368"/>
<circle cx="332.00" cy="339.01" r="1.3" fill="#245368"/>
<circle cx="330.47" cy="333.15" r="1.3" fill="#245368"/>
<circle cx="331.93" cy="330.21" r="1.3" fill="#245368"/>
<circle cx="331.42" cy="326.15" r="1.3" fill="#245368"/>
<circle cx="331.83" cy="323.24" r="1.3" fill="#245368"/>
<circle cx="330.61" cy="320.43" r="1.3" fill="#245368"/>
<circle cx="331.90" cy="317.00" r="1.3" fill="#245368"/>
<circle cx="332.27" cy="314.33" r="1.3" fill="#245368"/>
<circle cx="330.52" cy="312.60" r="1.3" fill="#245368"/>
<circle cx="331.05" cy="307.83" r="1.3" fill="#245368"/>
<circle cx="331.53" cy="306.49" r="1.3" fill="#245368"/>
<circle cx="332.06" cy="302.83" r="1.3" fill="#245368"/>
<circle cx="330.88" cy="299.37" r="1.3" fill="#245368"/>
<circle cx="330.76" cy="299.12" r="1.3" fill="#245368"/>
<circle cx="330.90" cy="298.17" r="1.3" fill="#245368"/>
<circle cx="331.63" cy="297.25" r="1.3" fill="#245368"/>
<circle cx="331.91" cy="295.63" r="1.3" fill="#245368"/>
<circle cx="331.19" cy="295.36" r="1.3" fill="#245368"/>
<circle cx="331.13" cy="294.59" r="1.3" fill="#245368"/>
<circle cx="331.19" cy="292.93" r="1.3" fill="#245368"/>
<circle cx="331.10" cy="292.67" r="1.3" fill="#245368"/>
<circle cx="331.24" cy="289.56" r="1.3" fill="#245368"/>
<circle cx="330.57" cy="287.53" r="1.3" fill="#245368"/>
<circle cx="331.40" cy="284.69" r="1.3" fill="#245368"/>
<circle cx="332.35" cy="281.84" r="1.3" fill="#245368"/>
<path d="M328.80,348.1 V350.70000000000005" stroke="#3a3a3a" stroke-width="0.9"/>
<text stroke="#3a3a3a" transform="translate(329.80,357.00) rotate(-45)" font-size="6.5" text-anchor="end" fill="#3a3a3a" font-family="Liberation Sans, sans-serif" stroke-width="0.22">CD3+</text>
<path d="M210.30,257.60 H216.70" stroke="#2a2a2a" stroke-width="1.2"/>
<text stroke="#222" x="213.50" y="257.60" font-size="5.6" text-anchor="middle" fill="#222" font-family="Liberation Sans, sans-serif" stroke-width="0.22">*</text>
<path d="M233.30,256.90 H239.70" stroke="#2a2a2a" stroke-width="1.2"/>
<text stroke="#222" x="236.50" y="256.90" font-size="5.6" text-anchor="middle" fill="#222" font-family="Liberation Sans, sans-serif" stroke-width="0.22">*</text>
<path d="M279.30,245.80 H285.70" stroke="#2a2a2a" stroke-width="1.2"/>
<text stroke="#222" x="282.50" y="245.80" font-size="5.6" text-anchor="middle" fill="#222" font-family="Liberation Sans, sans-serif" stroke-width="0.22">***</text>
<path d="M199.4,232.0 V348.1 H342.5" stroke="#3a3a3a" stroke-width="1.1" fill="none"/>
<path d="M196.60,342.90 H199.4" stroke="#3a3a3a" stroke-width="0.9"/>
<text stroke="#3a3a3a" x="193.80" y="345.00" font-size="6" text-anchor="end" fill="#3a3a3a" font-family="Liberation Sans, sans-serif" stroke-width="0.22">0</text>
<path d="M196.60,321.70 H199.4" stroke="#3a3a3a" stroke-width="0.9"/>
<text stroke="#3a3a3a" x="193.80" y="323.80" font-size="6" text-anchor="end" fill="#3a3a3a" font-family="Liberation Sans, sans-serif" stroke-width="0.22">10</text>
<path d="M196.60,300.50 H199.4" stroke="#3a3a3a" stroke-width="0.9"/>
<text stroke="#3a3a3a" x="193.80" y="302.60" font-size="6" text-anchor="end" fill="#3a3a3a" font-family="Liberation Sans, sans-serif" stroke-width="0.22">20</text>
<path d="M196.60,279.30 H199.4" stroke="#3a3a3a" stroke-width="0.9"/>
<text stroke="#3a3a3a" x="193.80" y="281.40" font-size="6" text-anchor="end" fill="#3a3a3a" font-family="Liberation Sans, sans-serif" stroke-width="0.22">30</text>
<path d="M196.60,258.10 H199.4" stroke="#3a3a3a" stroke-width="0.9"/>
<text stroke="#3a3a3a" x="193.80" y="260.20" font-size="6" text-anchor="end" fill="#3a3a3a" font-family="Liberation Sans, sans-serif" stroke-width="0.22">40</text>
<path d="M196.60,236.90 H199.4" stroke="#3a3a3a" stroke-width="0.9"/>
<text stroke="#3a3a3a" x="193.80" y="239.00" font-size="6" text-anchor="end" fill="#3a3a3a" font-family="Liberation Sans, sans-serif" stroke-width="0.22">50</text>
<text stroke="#222" x="441.4" y="226.4" font-size="7.8" text-anchor="middle" fill="#222" font-family="Liberation Sans, sans-serif" stroke-width="0.22">LSN3154567</text>
<text stroke="#111" x="352.7" y="216.9" font-size="11" font-weight="bold" fill="#111" font-family="Liberation Sans, sans-serif" stroke-width="0.22">E</text>
<path d="M380.20,282.06 V332.09" stroke="#3a2a2a" stroke-width="0.9"/>
<rect x="377.20" y="287.57" width="6.0" height="15.90" fill="#e28e80"/>
<path d="M380.20,287.57 V303.47" stroke="#3a2a2a" stroke-width="0.9" opacity="0.6"/>
<path d="M378.00,282.06 H382.40 M378.00,332.09 H382.40" stroke="#3a2a2a" stroke-width="0.9"/>
<path d="M377.20,292.87 H383.20" stroke="#3a2a2a" stroke-width="0.9"/>
<circle cx="379.67" cy="282.06" r="1.25" fill="#5e1418"/>
<circle cx="379.41" cy="289.26" r="1.25" fill="#5e1418"/>
<circle cx="379.99" cy="292.87" r="1.25" fill="#5e1418"/>
<circle cx="379.51" cy="297.11" r="1.25" fill="#5e1418"/>
<circle cx="379.33" cy="307.92" r="1.25" fill="#5e1418"/>
<circle cx="380.00" cy="325.73" r="1.25" fill="#5e1418"/>
<circle cx="381.04" cy="332.09" r="1.25" fill="#5e1418"/>
<path d="M385.60,285.02 V342.90" stroke="#2f3b44" stroke-width="0.9"/>
<rect x="382.90" y="296.47" width="5.4" height="23.32" fill="#c4e3f4"/>
<path d="M385.60,296.47 V319.79" stroke="#2f3b44" stroke-width="0.9" opacity="0.6"/>
<path d="M383.40,285.02 H387.80 M383.40,342.90 H387.80" stroke="#2f3b44" stroke-width="0.9"/>
<path d="M382.90,309.40 H388.30" stroke="#2f3b44" stroke-width="0.9"/>
<circle cx="385.74" cy="342.90" r="1.3" fill="#245368"/>
<circle cx="386.36" cy="334.40" r="1.3" fill="#245368"/>
<circle cx="386.30" cy="332.20" r="1.3" fill="#245368"/>
<circle cx="385.62" cy="325.87" r="1.3" fill="#245368"/>
<circle cx="385.43" cy="322.31" r="1.3" fill="#245368"/>
<circle cx="385.80" cy="319.41" r="1.3" fill="#245368"/>
<circle cx="385.46" cy="318.46" r="1.3" fill="#245368"/>
<circle cx="384.92" cy="317.33" r="1.3" fill="#245368"/>
<circle cx="385.21" cy="315.59" r="1.3" fill="#245368"/>
<circle cx="386.23" cy="314.67" r="1.3" fill="#245368"/>
<circle cx="384.69" cy="313.67" r="1.3" fill="#245368"/>
<circle cx="384.69" cy="312.66" r="1.3" fill="#245368"/>
<circle cx="385.85" cy="312.26" r="1.3" fill="#245368"/>
<circle cx="385.16" cy="311.13" r="1.3" fill="#245368"/>
<circle cx="385.67" cy="309.78" r="1.3" fill="#245368"/>
<circle cx="385.54" cy="308.48" r="1.3" fill="#245368"/>
<circle cx="385.29" cy="307.05" r="1.3" fill="#245368"/>
<circle cx="386.59" cy="305.75" r="1.3" fill="#245368"/>
<circle cx="384.99" cy="305.49" r="1.3" fill="#245368"/>
<circle cx="385.43" cy="303.56" r="1.3" fill="#245368"/>
<circle cx="385.01" cy="302.21" r="1.3" fill="#245368"/>
<circle cx="385.87" cy="301.16" r="1.3" fill="#245368"/>
<circle cx="385.15" cy="300.30" r="1.3" fill="#245368"/>
<circle cx="385.31" cy="298.66" r="1.3" fill="#245368"/>
<circle cx="386.09" cy="297.88" r="1.3" fill="#245368"/>
<circle cx="385.24" cy="294.72" r="1.3" fill="#245368"/>
<circle cx="385.72" cy="292.50" r="1.3" fill="#245368"/>
<circle cx="386.41" cy="290.87" r="1.3" fill="#245368"/>
<circle cx="384.80" cy="289.08" r="1.3" fill="#245368"/>
<circle cx="384.72" cy="285.02" r="1.3" fill="#245368"/>
<path d="M383.40,348.1 V350.70000000000005" stroke="#3a3a3a" stroke-width="0.9"/>
<text stroke="#3a3a3a" transform="translate(384.40,357.00) rotate(-45)" font-size="6.5" text-anchor="end" fill="#3a3a3a" font-family="Liberation Sans, sans-serif" stroke-width="0.22">Blasts</text>
<path d="M403.40,282.90 V328.06" stroke="#3a2a2a" stroke-width="0.9"/>
<rect x="400.40" y="284.81" width="6.0" height="23.11" fill="#e28e80"/>
<path d="M403.40,284.81 V307.92" stroke="#3a2a2a" stroke-width="0.9" opacity="0.6"/>
<path d="M401.20,282.90 H405.60 M401.20,328.06 H405.60" stroke="#3a2a2a" stroke-width="0.9"/>
<path d="M400.40,291.81 H406.40" stroke="#3a2a2a" stroke-width="0.9"/>
<circle cx="402.86" cy="282.90" r="1.25" fill="#5e1418"/>
<circle cx="403.93" cy="285.66" r="1.25" fill="#5e1418"/>
<circle cx="403.63" cy="288.84" r="1.25" fill="#5e1418"/>
<circle cx="402.87" cy="291.81" r="1.25" fill="#5e1418"/>
<circle cx="403.06" cy="296.26" r="1.25" fill="#5e1418"/>
<circle cx="402.76" cy="305.80" r="1.25" fill="#5e1418"/>
<circle cx="403.32" cy="313.64" r="1.25" fill="#5e1418"/>
<circle cx="402.49" cy="328.06" r="1.25" fill="#5e1418"/>
<path d="M408.80,282.48 V339.30" stroke="#2f3b44" stroke-width="0.9"/>
<rect x="406.10" y="289.90" width="5.4" height="24.80" fill="#c4e3f4"/>
<path d="M408.80,289.90 V314.70" stroke="#2f3b44" stroke-width="0.9" opacity="0.6"/>
<path d="M406.60,282.48 H411.00 M406.60,339.30 H411.00" stroke="#2f3b44" stroke-width="0.9"/>
<path d="M406.10,296.47 H411.50" stroke="#2f3b44" stroke-width="0.9"/>
<circle cx="407.92" cy="339.30" r="1.3" fill="#245368"/>
<circle cx="407.91" cy="329.58" r="1.3" fill="#245368"/>
<circle cx="408.14" cy="324.16" r="1.3" fill="#245368"/>
<circle cx="409.15" cy="320.16" r="1.3" fill="#245368"/>
<circle cx="408.10" cy="314.42" r="1.3" fill="#245368"/>
<circle cx="407.88" cy="314.31" r="1.3" fill="#245368"/>
<circle cx="408.78" cy="312.04" r="1.3" fill="#245368"/>
<circle cx="408.30" cy="309.04" r="1.3" fill="#245368"/>
<circle cx="409.80" cy="307.60" r="1.3" fill="#245368"/>
<circle cx="408.04" cy="306.46" r="1.3" fill="#245368"/>
<circle cx="408.86" cy="303.72" r="1.3" fill="#245368"/>
<circle cx="409.35" cy="302.51" r="1.3" fill="#245368"/>
<circle cx="408.62" cy="300.37" r="1.3" fill="#245368"/>
<circle cx="409.78" cy="299.52" r="1.3" fill="#245368"/>
<circle cx="408.76" cy="297.92" r="1.3" fill="#245368"/>
<circle cx="408.28" cy="296.19" r="1.3" fill="#245368"/>
<circle cx="408.62" cy="295.74" r="1.3" fill="#245368"/>
<circle cx="407.87" cy="294.94" r="1.3" fill="#245368"/>
<circle cx="408.64" cy="293.92" r="1.3" fill="#245368"/>
<circle cx="408.30" cy="293.68" r="1.3" fill="#245368"/>
<circle cx="409.58" cy="293.24" r="1.3" fill="#245368"/>
<circle cx="409.46" cy="292.58" r="1.3" fill="#245368"/>
<circle cx="408.80" cy="291.85" r="1.3" fill="#245368"/>
<circle cx="407.86" cy="290.81" r="1.3" fill="#245368"/>
<circle cx="408.31" cy="290.44" r="1.3" fill="#245368"/>
<circle cx="408.28" cy="289.76" r="1.3" fill="#245368"/>
<circle cx="408.22" cy="288.51" r="1.3" fill="#245368"/>
<circle cx="408.26" cy="285.60" r="1.3" fill="#245368"/>
<circle cx="409.54" cy="284.92" r="1.3" fill="#245368"/>
<circle cx="408.08" cy="282.48" r="1.3" fill="#245368"/>
<path d="M406.60,348.1 V350.70000000000005" stroke="#3a3a3a" stroke-width="0.9"/>
<text stroke="#3a3a3a" transform="translate(407.60,357.00) rotate(-45)" font-size="6.5" text-anchor="end" fill="#3a3a3a" font-family="Liberation Sans, sans-serif" stroke-width="0.22">CD34+</text>
<path d="M426.60,308.13 V335.90" stroke="#3a2a2a" stroke-width="0.9"/>
<rect x="423.60" y="311.95" width="6.0" height="23.96" fill="#e28e80"/>
<path d="M426.60,311.95 V335.90" stroke="#3a2a2a" stroke-width="0.9" opacity="0.6"/>
<path d="M424.40,308.13 H428.80 M424.40,335.90 H428.80" stroke="#3a2a2a" stroke-width="0.9"/>
<path d="M423.60,332.94 H429.60" stroke="#3a2a2a" stroke-width="0.9"/>
<circle cx="425.70" cy="308.13" r="1.25" fill="#5e1418"/>
<circle cx="427.46" cy="311.95" r="1.25" fill="#5e1418"/>
<circle cx="426.73" cy="330.18" r="1.25" fill="#5e1418"/>
<circle cx="427.58" cy="332.94" r="1.25" fill="#5e1418"/>
<circle cx="426.41" cy="334.84" r="1.25" fill="#5e1418"/>
<circle cx="427.40" cy="335.90" r="1.25" fill="#5e1418"/>
<path d="M432.00,285.24 V342.90" stroke="#2f3b44" stroke-width="0.9"/>
<rect x="429.30" y="298.80" width="5.4" height="22.47" fill="#c4e3f4"/>
<path d="M432.00,298.80 V321.28" stroke="#2f3b44" stroke-width="0.9" opacity="0.6"/>
<path d="M429.80,285.24 H434.20 M429.80,342.90 H434.20" stroke="#2f3b44" stroke-width="0.9"/>
<path d="M429.30,308.98 H434.70" stroke="#2f3b44" stroke-width="0.9"/>
<circle cx="432.92" cy="342.90" r="1.3" fill="#245368"/>
<circle cx="432.34" cy="331.90" r="1.3" fill="#245368"/>
<circle cx="431.09" cy="326.04" r="1.3" fill="#245368"/>
<circle cx="432.80" cy="321.43" r="1.3" fill="#245368"/>
<circle cx="431.26" cy="320.33" r="1.3" fill="#245368"/>
<circle cx="432.94" cy="318.50" r="1.3" fill="#245368"/>
<circle cx="432.33" cy="315.76" r="1.3" fill="#245368"/>
<circle cx="431.12" cy="314.08" r="1.3" fill="#245368"/>
<circle cx="431.33" cy="312.39" r="1.3" fill="#245368"/>
<circle cx="432.27" cy="311.71" r="1.3" fill="#245368"/>
<circle cx="432.14" cy="309.54" r="1.3" fill="#245368"/>
<circle cx="432.49" cy="307.89" r="1.3" fill="#245368"/>
<circle cx="432.85" cy="306.75" r="1.3" fill="#245368"/>
<circle cx="431.44" cy="305.15" r="1.3" fill="#245368"/>
<circle cx="431.01" cy="304.18" r="1.3" fill="#245368"/>
<circle cx="432.84" cy="302.65" r="1.3" fill="#245368"/>
<circle cx="431.03" cy="301.24" r="1.3" fill="#245368"/>
<circle cx="432.75" cy="300.45" r="1.3" fill="#245368"/>
<circle cx="431.23" cy="297.10" r="1.3" fill="#245368"/>
<circle cx="432.62" cy="293.11" r="1.3" fill="#245368"/>
<circle cx="432.57" cy="292.66" r="1.3" fill="#245368"/>
<circle cx="432.76" cy="285.24" r="1.3" fill="#245368"/>
<path d="M429.80,348.1 V350.70000000000005" stroke="#3a3a3a" stroke-width="0.9"/>
<text stroke="#3a3a3a" transform="translate(430.80,357.00) rotate(-45)" font-size="6.5" text-anchor="end" fill="#3a3a3a" font-family="Liberation Sans, sans-serif" stroke-width="0.22">CD34+CD38−</text>
<path d="M449.80,280.57 V306.22" stroke="#3a2a2a" stroke-width="0.9"/>
<rect x="446.80" y="281.42" width="6.0" height="14.42" fill="#e28e80"/>
<path d="M449.80,281.42 V295.84" stroke="#3a2a2a" stroke-width="0.9" opacity="0.6"/>
<path d="M447.60,280.57 H452.00 M447.60,306.22 H452.00" stroke="#3a2a2a" stroke-width="0.9"/>
<path d="M446.80,289.05 H452.80" stroke="#3a2a2a" stroke-width="0.9"/>
<circle cx="449.90" cy="280.57" r="1.25" fill="#5e1418"/>
<circle cx="450.56" cy="282.48" r="1.25" fill="#5e1418"/>
<circle cx="449.20" cy="284.60" r="1.25" fill="#5e1418"/>
<circle cx="450.14" cy="286.72" r="1.25" fill="#5e1418"/>
<circle cx="449.46" cy="289.05" r="1.25" fill="#5e1418"/>
<circle cx="450.58" cy="290.96" r="1.25" fill="#5e1418"/>
<circle cx="450.35" cy="294.14" r="1.25" fill="#5e1418"/>
<circle cx="449.74" cy="295.84" r="1.25" fill="#5e1418"/>
<circle cx="449.85" cy="306.22" r="1.25" fill="#5e1418"/>
<path d="M455.20,282.48 V323.40" stroke="#2f3b44" stroke-width="0.9"/>
<rect x="452.50" y="289.90" width="5.4" height="16.96" fill="#c4e3f4"/>
<path d="M455.20,289.90 V306.86" stroke="#2f3b44" stroke-width="0.9" opacity="0.6"/>
<path d="M453.00,282.48 H457.40 M453.00,323.40 H457.40" stroke="#2f3b44" stroke-width="0.9"/>
<path d="M452.50,298.38 H457.90" stroke="#2f3b44" stroke-width="0.9"/>
<circle cx="455.97" cy="323.40" r="1.3" fill="#245368"/>
<circle cx="455.22" cy="318.94" r="1.3" fill="#245368"/>
<circle cx="455.07" cy="312.22" r="1.3" fill="#245368"/>
<circle cx="455.92" cy="308.37" r="1.3" fill="#245368"/>
<circle cx="455.75" cy="305.80" r="1.3" fill="#245368"/>
<circle cx="454.33" cy="305.02" r="1.3" fill="#245368"/>
<circle cx="455.96" cy="304.47" r="1.3" fill="#245368"/>
<circle cx="454.59" cy="303.20" r="1.3" fill="#245368"/>
<circle cx="454.80" cy="301.74" r="1.3" fill="#245368"/>
<circle cx="455.87" cy="300.95" r="1.3" fill="#245368"/>
<circle cx="455.04" cy="300.45" r="1.3" fill="#245368"/>
<circle cx="455.80" cy="298.55" r="1.3" fill="#245368"/>
<circle cx="454.53" cy="297.52" r="1.3" fill="#245368"/>
<circle cx="455.95" cy="297.25" r="1.3" fill="#245368"/>
<circle cx="454.55" cy="295.74" r="1.3" fill="#245368"/>
<circle cx="454.50" cy="294.87" r="1.3" fill="#245368"/>
<circle cx="455.19" cy="293.40" r="1.3" fill="#245368"/>
<circle cx="454.88" cy="292.86" r="1.3" fill="#245368"/>
<circle cx="455.28" cy="291.90" r="1.3" fill="#245368"/>
<circle cx="456.01" cy="290.60" r="1.3" fill="#245368"/>
<circle cx="455.62" cy="288.34" r="1.3" fill="#245368"/>
<circle cx="454.21" cy="288.09" r="1.3" fill="#245368"/>
<circle cx="454.82" cy="286.12" r="1.3" fill="#245368"/>
<circle cx="455.29" cy="282.48" r="1.3" fill="#245368"/>
<path d="M453.00,348.1 V350.70000000000005" stroke="#3a3a3a" stroke-width="0.9"/>
<text stroke="#3a3a3a" transform="translate(454.00,357.00) rotate(-45)" font-size="6.5" text-anchor="end" fill="#3a3a3a" font-family="Liberation Sans, sans-serif" stroke-width="0.22">CD34+CD38+</text>
<path d="M473.00,294.99 V307.50" stroke="#3a2a2a" stroke-width="0.9"/>
<rect x="470.00" y="298.59" width="6.0" height="7.84" fill="#e28e80"/>
<path d="M473.00,298.59 V306.44" stroke="#3a2a2a" stroke-width="0.9" opacity="0.6"/>
<path d="M470.80,294.99 H475.20 M470.80,307.50 H475.20" stroke="#3a2a2a" stroke-width="0.9"/>
<path d="M470.00,303.04 H476.00" stroke="#3a2a2a" stroke-width="0.9"/>
<circle cx="472.97" cy="294.99" r="1.25" fill="#5e1418"/>
<circle cx="473.43" cy="300.50" r="1.25" fill="#5e1418"/>
<circle cx="472.97" cy="302.62" r="1.25" fill="#5e1418"/>
<circle cx="472.15" cy="305.80" r="1.25" fill="#5e1418"/>
<path d="M478.40,280.57 V329.97" stroke="#2f3b44" stroke-width="0.9"/>
<rect x="475.70" y="296.26" width="5.4" height="16.96" fill="#c4e3f4"/>
<path d="M478.40,296.26 V313.22" stroke="#2f3b44" stroke-width="0.9" opacity="0.6"/>
<path d="M476.20,280.57 H480.60 M476.20,329.97 H480.60" stroke="#2f3b44" stroke-width="0.9"/>
<path d="M475.70,304.74 H481.10" stroke="#2f3b44" stroke-width="0.9"/>
<circle cx="479.02" cy="329.97" r="1.3" fill="#245368"/>
<circle cx="477.76" cy="321.91" r="1.3" fill="#245368"/>
<circle cx="479.20" cy="319.69" r="1.3" fill="#245368"/>
<circle cx="478.14" cy="313.54" r="1.3" fill="#245368"/>
<circle cx="478.55" cy="312.03" r="1.3" fill="#245368"/>
<circle cx="478.10" cy="311.36" r="1.3" fill="#245368"/>
<circle cx="478.64" cy="310.27" r="1.3" fill="#245368"/>
<circle cx="477.59" cy="309.30" r="1.3" fill="#245368"/>
<circle cx="478.21" cy="308.57" r="1.3" fill="#245368"/>
<circle cx="479.27" cy="306.91" r="1.3" fill="#245368"/>
<circle cx="477.76" cy="306.33" r="1.3" fill="#245368"/>
<circle cx="478.71" cy="304.83" r="1.3" fill="#245368"/>
<circle cx="478.05" cy="304.42" r="1.3" fill="#245368"/>
<circle cx="478.00" cy="302.80" r="1.3" fill="#245368"/>
<circle cx="477.45" cy="301.84" r="1.3" fill="#245368"/>
<circle cx="477.44" cy="300.99" r="1.3" fill="#245368"/>
<circle cx="479.30" cy="300.12" r="1.3" fill="#245368"/>
<circle cx="479.06" cy="299.40" r="1.3" fill="#245368"/>
<circle cx="479.00" cy="297.70" r="1.3" fill="#245368"/>
<circle cx="479.01" cy="297.09" r="1.3" fill="#245368"/>
<circle cx="479.31" cy="294.21" r="1.3" fill="#245368"/>
<circle cx="477.72" cy="292.28" r="1.3" fill="#245368"/>
<circle cx="478.57" cy="288.41" r="1.3" fill="#245368"/>
<circle cx="478.39" cy="280.57" r="1.3" fill="#245368"/>
<circle cx="478.55" cy="342.05" r="1.3" fill="#245368"/>
<path d="M476.20,348.1 V350.70000000000005" stroke="#3a3a3a" stroke-width="0.9"/>
<text stroke="#3a3a3a" transform="translate(477.20,357.00) rotate(-45)" font-size="6.5" text-anchor="end" fill="#3a3a3a" font-family="Liberation Sans, sans-serif" stroke-width="0.22">CD14+</text>
<path d="M496.20,265.31 V342.90" stroke="#3a2a2a" stroke-width="0.9"/>
<rect x="493.20" y="291.60" width="6.0" height="37.74" fill="#e28e80"/>
<path d="M496.20,291.60 V329.33" stroke="#3a2a2a" stroke-width="0.9" opacity="0.6"/>
<path d="M494.00,265.31 H498.40 M494.00,342.90 H498.40" stroke="#3a2a2a" stroke-width="0.9"/>
<path d="M493.20,316.40 H499.20" stroke="#3a2a2a" stroke-width="0.9"/>
<circle cx="497.08" cy="265.31" r="1.25" fill="#5e1418"/>
<circle cx="496.72" cy="277.60" r="1.25" fill="#5e1418"/>
<circle cx="497.14" cy="312.16" r="1.25" fill="#5e1418"/>
<circle cx="495.43" cy="316.40" r="1.25" fill="#5e1418"/>
<circle cx="496.50" cy="320.22" r="1.25" fill="#5e1418"/>
<circle cx="496.55" cy="324.88" r="1.25" fill="#5e1418"/>
<circle cx="496.69" cy="342.90" r="1.25" fill="#5e1418"/>
<path d="M501.60,292.02 V342.90" stroke="#2f3b44" stroke-width="0.9"/>
<rect x="498.90" y="300.50" width="5.4" height="30.10" fill="#c4e3f4"/>
<path d="M501.60,300.50 V330.60" stroke="#2f3b44" stroke-width="0.9" opacity="0.6"/>
<path d="M499.40,292.02 H503.80 M499.40,342.90 H503.80" stroke="#2f3b44" stroke-width="0.9"/>
<path d="M498.90,317.46 H504.30" stroke="#2f3b44" stroke-width="0.9"/>
<circle cx="501.33" cy="342.90" r="1.3" fill="#245368"/>
<circle cx="502.50" cy="337.04" r="1.3" fill="#245368"/>
<circle cx="501.85" cy="335.53" r="1.3" fill="#245368"/>
<circle cx="500.91" cy="330.46" r="1.3" fill="#245368"/>
<circle cx="500.74" cy="329.69" r="1.3" fill="#245368"/>
<circle cx="502.55" cy="327.77" r="1.3" fill="#245368"/>
<circle cx="502.58" cy="325.68" r="1.3" fill="#245368"/>
<circle cx="502.44" cy="324.38" r="1.3" fill="#245368"/>
<circle cx="501.81" cy="323.40" r="1.3" fill="#245368"/>
<circle cx="501.22" cy="321.92" r="1.3" fill="#245368"/>
<circle cx="500.78" cy="320.16" r="1.3" fill="#245368"/>
<circle cx="501.12" cy="318.06" r="1.3" fill="#245368"/>
<circle cx="501.04" cy="315.39" r="1.3" fill="#245368"/>
<circle cx="502.46" cy="313.51" r="1.3" fill="#245368"/>
<circle cx="502.39" cy="312.47" r="1.3" fill="#245368"/>
<circle cx="502.16" cy="310.39" r="1.3" fill="#245368"/>
<circle cx="500.90" cy="307.45" r="1.3" fill="#245368"/>
<circle cx="501.08" cy="306.48" r="1.3" fill="#245368"/>
<circle cx="501.20" cy="304.13" r="1.3" fill="#245368"/>
<circle cx="502.50" cy="302.88" r="1.3" fill="#245368"/>
<circle cx="500.93" cy="300.45" r="1.3" fill="#245368"/>
<circle cx="502.18" cy="297.45" r="1.3" fill="#245368"/>
<circle cx="501.96" cy="294.91" r="1.3" fill="#245368"/>
<circle cx="501.69" cy="292.02" r="1.3" fill="#245368"/>
<path d="M499.40,348.1 V350.70000000000005" stroke="#3a3a3a" stroke-width="0.9"/>
<text stroke="#3a3a3a" transform="translate(500.40,357.00) rotate(-45)" font-size="6.5" text-anchor="end" fill="#3a3a3a" font-family="Liberation Sans, sans-serif" stroke-width="0.22">CD3+</text>
<path d="M379.90,278.50 H385.90" stroke="#2a2a2a" stroke-width="1.2"/>
<text stroke="#222" x="382.90" y="278.50" font-size="5.6" text-anchor="middle" fill="#222" font-family="Liberation Sans, sans-serif" stroke-width="0.22">*</text>
<path d="M449.50,276.80 H455.50" stroke="#2a2a2a" stroke-width="1.2"/>
<text stroke="#222" x="452.50" y="276.80" font-size="5.6" text-anchor="middle" fill="#222" font-family="Liberation Sans, sans-serif" stroke-width="0.22">**</text>
<path d="M369.4,232.0 V348.1 H513.4" stroke="#3a3a3a" stroke-width="1.1" fill="none"/>
<path d="M366.60,342.90 H369.4" stroke="#3a3a3a" stroke-width="0.9"/>
<text stroke="#3a3a3a" x="363.80" y="345.00" font-size="6" text-anchor="end" fill="#3a3a3a" font-family="Liberation Sans, sans-serif" stroke-width="0.22">0</text>
<path d="M366.60,321.70 H369.4" stroke="#3a3a3a" stroke-width="0.9"/>
<text stroke="#3a3a3a" x="363.80" y="323.80" font-size="6" text-anchor="end" fill="#3a3a3a" font-family="Liberation Sans, sans-serif" stroke-width="0.22">10</text>
<path d="M366.60,300.50 H369.4" stroke="#3a3a3a" stroke-width="0.9"/>
<text stroke="#3a3a3a" x="363.80" y="302.60" font-size="6" text-anchor="end" fill="#3a3a3a" font-family="Liberation Sans, sans-serif" stroke-width="0.22">20</text>
<path d="M366.60,279.30 H369.4" stroke="#3a3a3a" stroke-width="0.9"/>
<text stroke="#3a3a3a" x="363.80" y="281.40" font-size="6" text-anchor="end" fill="#3a3a3a" font-family="Liberation Sans, sans-serif" stroke-width="0.22">30</text>
<path d="M366.60,258.10 H369.4" stroke="#3a3a3a" stroke-width="0.9"/>
<text stroke="#3a3a3a" x="363.80" y="260.20" font-size="6" text-anchor="end" fill="#3a3a3a" font-family="Liberation Sans, sans-serif" stroke-width="0.22">40</text>
<path d="M366.60,236.90 H369.4" stroke="#3a3a3a" stroke-width="0.9"/>
<text stroke="#3a3a3a" x="363.80" y="239.00" font-size="6" text-anchor="end" fill="#3a3a3a" font-family="Liberation Sans, sans-serif" stroke-width="0.22">50</text>
<rect x="447.6" y="80.7" width="6.4" height="5.6" fill="#f2c4bc" opacity="0.6"/>
<ellipse cx="450.7" cy="83.5" rx="2.7" ry="1.15" fill="#4a0c10"/>
<text stroke="#333" x="456" y="85.6" font-size="6.1" fill="#333" font-family="Liberation Sans, sans-serif" stroke-width="0.22">−7/−7q</text>
<rect x="447.6" y="90.2" width="6.4" height="5.6" fill="#cfe8f6" opacity="0.6"/>
<ellipse cx="450.7" cy="93.0" rx="2.7" ry="1.15" fill="#1f3d4e"/>
<text stroke="#333" x="456" y="95.1" font-size="6.1" fill="#333" font-family="Liberation Sans, sans-serif" stroke-width="0.22">Non −7/−7q</text></svg>
</body></html>
